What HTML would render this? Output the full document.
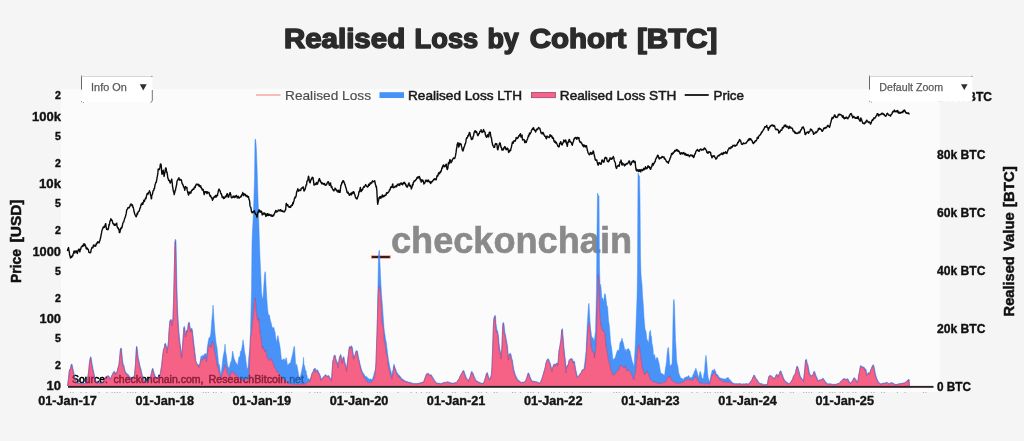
<!DOCTYPE html>
<html><head><meta charset="utf-8"><title>Realised Loss by Cohort [BTC]</title>
<style>
html,body{margin:0;padding:0;background:#f5f5f5;}
body{width:1024px;height:441px;overflow:hidden;font-family:"Liberation Sans",sans-serif;}
svg{display:block;will-change:transform;font-family:"Liberation Sans",sans-serif;}
</style></head><body>
<svg width="1024" height="441" viewBox="0 0 1024 441">
<rect x="0" y="0" width="1024" height="441" fill="#f5f5f5"/>
<rect x="61" y="89" width="879" height="303" fill="#fbfbfb"/>
<text x="72" y="383" font-size="10.5" font-weight="normal" text-anchor="start" fill="#000" textLength="35.8" lengthAdjust="spacingAndGlyphs" stroke="#000" stroke-width="0.55">Source:</text>
<text x="113.6" y="383" font-size="10.5" font-weight="normal" text-anchor="start" fill="#000" textLength="89.8" lengthAdjust="spacingAndGlyphs" stroke="#000" stroke-width="0.55">checkonchain.com,</text>
<text x="208.6" y="383" font-size="10.5" font-weight="normal" text-anchor="start" fill="#000" textLength="95.4" lengthAdjust="spacingAndGlyphs" stroke="#000" stroke-width="0.55">ResearchBitcoin.net</text>
<text x="391" y="252.5" font-size="36" font-weight="bold" text-anchor="start" fill="#8a8a8a" textLength="241" lengthAdjust="spacingAndGlyphs" stroke="#8a8a8a" stroke-width="0.6">checkonchain</text>
<rect x="370.9" y="255.3" width="20" height="3.4" rx="0.8" fill="#f38b78" opacity="0.9"/><rect x="371.8" y="256.1" width="18" height="1.8" fill="#1c1210"/>
<path d="M67.50,385.55 L68.00,382.30 L68.50,377.92 L69.00,373.51 L69.50,369.32 L70.00,368.64 L70.50,368.21 L71.00,365.35 L71.50,363.93 L72.00,363.96 L72.50,366.24 L73.00,368.44 L73.50,370.65 L74.00,372.93 L74.50,375.54 L75.00,377.31 L75.50,379.04 L76.00,380.01 L76.50,381.19 L77.00,381.97 L77.50,382.72 L78.00,382.84 L78.50,382.84 L79.00,382.84 L79.50,382.93 L80.00,382.99 L80.50,383.04 L81.00,383.08 L81.50,383.21 L82.00,383.30 L82.50,383.27 L83.00,383.21 L83.50,383.15 L84.00,383.15 L84.50,383.17 L85.00,382.88 L85.50,382.47 L86.00,382.47 L86.50,382.51 L87.00,380.94 L87.50,378.42 L88.00,375.62 L88.50,372.12 L89.00,367.17 L89.50,361.90 L90.00,359.14 L90.50,356.79 L91.00,356.82 L91.50,359.62 L92.00,362.72 L92.50,365.82 L93.00,368.26 L93.50,370.67 L94.00,372.89 L94.50,375.37 L95.00,377.80 L95.50,379.42 L96.00,380.90 L96.50,381.63 L97.00,381.94 L97.50,382.20 L98.00,382.14 L98.50,382.11 L99.00,382.12 L99.50,382.50 L100.00,382.70 L100.50,382.88 L101.00,382.89 L101.50,382.54 L102.00,382.30 L102.50,382.07 L103.00,381.43 L103.50,380.77 L104.00,380.36 L104.50,379.60 L105.00,378.34 L105.50,377.04 L106.00,376.60 L106.50,376.24 L107.00,376.03 L107.50,375.76 L108.00,375.71 L108.50,375.71 L109.00,375.92 L109.50,377.08 L110.00,378.24 L110.50,378.47 L111.00,377.40 L111.50,376.07 L112.00,375.06 L112.50,373.92 L113.00,372.92 L113.50,371.88 L114.00,371.25 L114.50,371.25 L115.00,371.81 L115.50,373.08 L116.00,373.32 L116.50,372.31 L117.00,371.57 L117.50,369.25 L118.00,367.57 L118.50,365.87 L119.00,363.93 L119.50,358.80 L120.00,353.82 L120.50,348.39 L121.00,347.95 L121.50,348.01 L122.00,353.57 L122.50,359.24 L123.00,362.35 L123.50,364.75 L124.00,365.29 L124.50,368.20 L125.00,370.08 L125.50,371.54 L126.00,372.02 L126.50,373.28 L127.00,373.77 L127.50,373.97 L128.00,373.98 L128.50,374.69 L129.00,375.40 L129.50,376.34 L130.00,376.86 L130.50,377.28 L131.00,377.54 L131.50,378.18 L132.00,378.25 L132.50,377.71 L133.00,377.34 L133.50,377.04 L134.00,377.04 L134.50,373.90 L135.00,369.72 L135.50,363.49 L136.00,354.07 L136.50,346.30 L137.00,346.35 L137.50,350.37 L138.00,354.42 L138.50,358.48 L139.00,360.37 L139.50,363.30 L140.00,365.44 L140.50,367.25 L141.00,368.73 L141.50,371.49 L142.00,373.58 L142.50,375.53 L143.00,376.88 L143.50,378.30 L144.00,379.20 L144.50,380.11 L145.00,380.51 L145.50,380.98 L146.00,381.19 L146.50,381.31 L147.00,381.37 L147.50,381.95 L148.00,381.45 L148.50,380.33 L149.00,379.34 L149.50,378.43 L150.00,377.93 L150.50,376.57 L151.00,374.59 L151.50,372.50 L152.00,370.30 L152.50,368.24 L153.00,368.27 L153.50,370.28 L154.00,372.19 L154.50,373.82 L155.00,375.34 L155.50,376.71 L156.00,377.59 L156.50,377.67 L157.00,377.43 L157.50,377.20 L158.00,377.05 L158.50,376.81 L159.00,376.70 L159.50,376.47 L160.00,375.75 L160.50,371.92 L161.00,368.98 L161.50,366.08 L162.00,361.52 L162.50,356.75 L163.00,352.67 L163.50,349.06 L164.00,347.81 L164.50,346.60 L165.00,343.11 L165.50,343.14 L166.00,344.58 L166.50,346.03 L167.00,347.52 L167.50,347.77 L168.00,345.42 L168.50,340.41 L169.00,331.02 L169.50,325.09 L170.00,319.84 L170.50,319.70 L171.00,319.58 L171.50,319.59 L172.00,320.75 L172.50,321.11 L173.00,318.06 L173.50,302.39 L174.00,283.85 L174.50,260.32 L175.00,239.49 L175.50,239.49 L176.00,240.07 L176.50,266.03 L177.00,287.09 L177.50,305.27 L178.00,315.50 L178.50,325.03 L179.00,331.55 L179.50,337.24 L180.00,341.92 L180.50,345.56 L181.00,348.56 L181.50,353.02 L182.00,354.02 L182.50,346.63 L183.00,339.31 L183.50,332.38 L184.00,326.43 L184.50,326.46 L185.00,329.27 L185.50,332.70 L186.00,333.91 L186.50,330.11 L187.00,330.13 L187.50,330.53 L188.00,326.05 L188.50,322.36 L189.00,322.29 L189.50,322.34 L190.00,325.96 L190.50,328.60 L191.00,328.95 L191.50,328.29 L192.00,328.31 L192.50,330.45 L193.00,334.87 L193.50,339.53 L194.00,343.83 L194.50,347.93 L195.00,352.24 L195.50,355.94 L196.00,361.43 L196.50,362.75 L197.00,363.53 L197.50,364.12 L198.00,364.32 L198.50,364.96 L199.00,365.97 L199.50,363.98 L200.00,361.94 L200.50,359.27 L201.00,355.94 L201.50,356.30 L202.00,356.97 L202.50,355.25 L203.00,356.21 L203.50,355.78 L204.00,354.68 L204.50,353.94 L205.00,353.58 L205.50,354.01 L206.00,353.56 L206.50,355.45 L207.00,351.31 L207.50,346.06 L208.00,342.89 L208.50,339.73 L209.00,337.81 L209.50,337.50 L210.00,337.29 L210.50,334.93 L211.00,331.95 L211.50,324.76 L212.00,318.56 L212.50,313.35 L213.00,305.06 L213.50,311.36 L214.00,320.34 L214.50,326.74 L215.00,333.14 L215.50,337.69 L216.00,342.30 L216.50,345.12 L217.00,347.60 L217.50,352.52 L218.00,357.58 L218.50,364.05 L219.00,364.55 L219.50,364.75 L220.00,369.26 L220.50,372.30 L221.00,375.04 L221.50,370.99 L222.00,366.14 L222.50,361.62 L223.00,357.34 L223.50,354.73 L224.00,352.34 L224.50,349.94 L225.00,344.11 L225.50,350.37 L226.00,353.92 L226.50,355.81 L227.00,361.32 L227.50,364.51 L228.00,367.35 L228.50,367.27 L229.00,368.14 L229.50,367.07 L230.00,364.78 L230.50,362.49 L231.00,361.39 L231.50,360.44 L232.00,356.35 L232.50,351.06 L233.00,352.82 L233.50,355.45 L234.00,358.14 L234.50,359.44 L235.00,360.62 L235.50,361.98 L236.00,362.60 L236.50,363.28 L237.00,364.55 L237.50,365.87 L238.00,362.89 L238.50,359.21 L239.00,357.00 L239.50,356.72 L240.00,356.11 L240.50,351.31 L241.00,351.50 L241.50,350.16 L242.00,347.26 L242.50,343.94 L243.00,339.75 L243.50,343.10 L244.00,346.31 L244.50,351.20 L245.00,354.02 L245.50,356.03 L246.00,361.24 L246.50,365.05 L247.00,368.81 L247.50,368.59 L248.00,367.31 L248.50,360.27 L249.00,355.02 L249.50,351.80 L250.00,345.63 L250.50,330.35 L251.00,310.89 L251.50,291.65 L252.00,242.77 L252.50,229.58 L253.00,221.60 L253.50,210.56 L254.00,195.92 L254.50,179.02 L255.00,138.99 L255.50,139.32 L256.00,143.19 L256.50,151.64 L257.00,165.77 L257.50,181.97 L258.00,198.45 L258.50,212.13 L259.00,229.21 L259.50,244.44 L260.00,258.10 L260.50,267.90 L261.00,280.11 L261.50,291.68 L262.00,296.19 L262.50,298.19 L263.00,298.70 L263.50,290.62 L264.00,282.64 L264.50,274.97 L265.00,271.64 L265.50,272.82 L266.00,284.49 L266.50,293.42 L267.00,301.41 L267.50,307.89 L268.00,312.60 L268.50,315.01 L269.00,314.99 L269.50,315.30 L270.00,318.56 L270.50,320.79 L271.00,322.59 L271.50,323.92 L272.00,327.07 L272.50,328.00 L273.00,327.41 L273.50,327.26 L274.00,328.04 L274.50,330.66 L275.00,331.72 L275.50,336.10 L276.00,339.24 L276.50,341.40 L277.00,340.87 L277.50,336.57 L278.00,335.59 L278.50,338.58 L279.00,341.57 L279.50,344.10 L280.00,346.77 L280.50,350.49 L281.00,355.43 L281.50,359.89 L282.00,360.03 L282.50,359.93 L283.00,359.48 L283.50,358.75 L284.00,359.78 L284.50,359.29 L285.00,360.88 L285.50,359.65 L286.00,357.64 L286.50,358.87 L287.00,362.21 L287.50,365.44 L288.00,365.34 L288.50,364.19 L289.00,363.52 L289.50,363.51 L290.00,363.32 L290.50,362.66 L291.00,360.52 L291.50,358.46 L292.00,356.40 L292.50,354.17 L293.00,351.88 L293.50,348.90 L294.00,346.61 L294.50,346.46 L295.00,353.95 L295.50,362.74 L296.00,366.45 L296.50,364.22 L297.00,365.60 L297.50,368.27 L298.00,370.94 L298.50,373.90 L299.00,376.32 L299.50,377.59 L300.00,376.76 L300.50,376.42 L301.00,373.84 L301.50,371.42 L302.00,369.05 L302.50,366.46 L303.00,364.34 L303.50,357.37 L304.00,364.70 L304.50,365.43 L305.00,367.77 L305.50,372.05 L306.00,370.54 L306.50,374.52 L307.00,375.17 L307.50,378.85 L308.00,378.98 L308.50,378.51 L309.00,378.66 L309.50,379.61 L310.00,379.66 L310.50,378.22 L311.00,376.78 L311.50,375.29 L312.00,373.26 L312.50,372.28 L313.00,371.63 L313.50,370.48 L314.00,368.73 L314.50,368.37 L315.00,368.24 L315.50,368.42 L316.00,369.53 L316.50,370.76 L317.00,369.87 L317.50,369.88 L318.00,370.69 L318.50,371.76 L319.00,372.84 L319.50,373.57 L320.00,374.76 L320.50,376.25 L321.00,378.18 L321.50,378.84 L322.00,378.59 L322.50,377.85 L323.00,377.26 L323.50,376.61 L324.00,376.61 L324.50,375.94 L325.00,374.83 L325.50,374.83 L326.00,374.83 L326.50,375.37 L327.00,375.83 L327.50,375.93 L328.00,375.49 L328.50,375.49 L329.00,375.65 L329.50,376.79 L330.00,377.59 L330.50,378.14 L331.00,379.01 L331.50,379.89 L332.00,372.57 L332.50,365.27 L333.00,359.87 L333.50,358.94 L334.00,356.05 L334.50,354.90 L335.00,354.91 L335.50,356.03 L336.00,358.66 L336.50,360.35 L337.00,361.71 L337.50,362.10 L338.00,364.37 L338.50,364.37 L339.00,359.81 L339.50,356.91 L340.00,356.07 L340.50,354.50 L341.00,354.53 L341.50,356.99 L342.00,359.93 L342.50,360.20 L343.00,357.48 L343.50,356.72 L344.00,356.77 L344.50,359.99 L345.00,362.60 L345.50,363.71 L346.00,365.90 L346.50,368.32 L347.00,365.81 L347.50,361.31 L348.00,357.20 L348.50,353.36 L349.00,349.02 L349.50,346.45 L350.00,346.47 L350.50,346.99 L351.00,345.86 L351.50,345.87 L352.00,346.34 L352.50,347.84 L353.00,351.58 L353.50,355.05 L354.00,356.69 L354.50,356.02 L355.00,354.68 L355.50,352.81 L356.00,350.65 L356.50,350.65 L357.00,350.70 L357.50,350.95 L358.00,353.91 L358.50,356.56 L359.00,359.22 L359.50,360.76 L360.00,364.11 L360.50,365.73 L361.00,367.41 L361.50,369.15 L362.00,370.94 L362.50,371.65 L363.00,372.63 L363.50,373.70 L364.00,373.84 L364.50,375.04 L365.00,375.74 L365.50,376.45 L366.00,376.72 L366.50,376.30 L367.00,377.58 L367.50,377.64 L368.00,377.83 L368.50,378.49 L369.00,379.15 L369.50,379.18 L370.00,378.88 L370.50,378.90 L371.00,379.02 L371.50,379.83 L372.00,379.45 L372.50,378.63 L373.00,377.43 L373.50,376.05 L374.00,373.91 L374.50,372.22 L375.00,370.82 L375.50,368.65 L376.00,362.37 L376.50,346.62 L377.00,332.98 L377.50,311.68 L378.00,282.20 L378.50,255.42 L379.00,250.60 L379.50,250.51 L380.00,263.95 L380.50,275.80 L381.00,284.74 L381.50,293.85 L382.00,300.77 L382.50,305.63 L383.00,313.80 L383.50,320.59 L384.00,327.79 L384.50,331.97 L385.00,335.12 L385.50,338.64 L386.00,341.09 L386.50,343.52 L387.00,348.14 L387.50,352.61 L388.00,356.37 L388.50,359.85 L389.00,362.42 L389.50,365.19 L390.00,367.92 L390.50,369.60 L391.00,371.29 L391.50,373.53 L392.00,375.82 L392.50,372.91 L393.00,369.50 L393.50,366.64 L394.00,363.96 L394.50,365.76 L395.00,367.24 L395.50,368.61 L396.00,369.76 L396.50,371.40 L397.00,372.85 L397.50,373.12 L398.00,373.94 L398.50,374.50 L399.00,375.01 L399.50,375.53 L400.00,376.09 L400.50,376.68 L401.00,377.47 L401.50,378.33 L402.00,378.52 L402.50,379.01 L403.00,379.11 L403.50,379.85 L404.00,380.30 L404.50,380.14 L405.00,380.77 L405.50,380.89 L406.00,381.16 L406.50,381.34 L407.00,381.49 L407.50,381.51 L408.00,381.92 L408.50,382.12 L409.00,382.13 L409.50,382.13 L410.00,382.20 L410.50,382.33 L411.00,382.55 L411.50,382.79 L412.00,383.05 L412.50,383.17 L413.00,383.20 L413.50,383.20 L414.00,383.44 L414.50,383.53 L415.00,383.43 L415.50,383.43 L416.00,383.46 L416.50,383.49 L417.00,383.53 L417.50,383.40 L418.00,383.24 L418.50,383.17 L419.00,383.12 L419.50,383.00 L420.00,382.87 L420.50,382.69 L421.00,382.55 L421.50,382.33 L422.00,382.10 L422.50,382.10 L423.00,382.11 L423.50,381.96 L424.00,380.61 L424.50,379.21 L425.00,377.75 L425.50,376.37 L426.00,374.92 L426.50,373.78 L427.00,373.78 L427.50,373.60 L428.00,373.11 L428.50,373.12 L429.00,373.95 L429.50,374.48 L430.00,374.89 L430.50,374.82 L431.00,374.76 L431.50,374.77 L432.00,375.82 L432.50,376.72 L433.00,377.62 L433.50,378.36 L434.00,379.37 L434.50,380.14 L435.00,380.80 L435.50,381.26 L436.00,382.16 L436.50,382.59 L437.00,382.95 L437.50,382.95 L438.00,383.07 L438.50,383.12 L439.00,383.11 L439.50,383.11 L440.00,383.34 L440.50,383.45 L441.00,383.47 L441.50,383.34 L442.00,383.25 L442.50,383.04 L443.00,382.81 L443.50,382.55 L444.00,382.27 L444.50,382.27 L445.00,382.31 L445.50,382.31 L446.00,382.18 L446.50,381.99 L447.00,381.79 L447.50,381.79 L448.00,381.79 L448.50,381.79 L449.00,382.19 L449.50,382.38 L450.00,382.51 L450.50,382.52 L451.00,382.71 L451.50,382.86 L452.00,383.00 L452.50,383.04 L453.00,383.08 L453.50,382.90 L454.00,382.70 L454.50,382.66 L455.00,382.64 L455.50,382.51 L456.00,382.38 L456.50,382.20 L457.00,382.02 L457.50,380.92 L458.00,379.84 L458.50,379.27 L459.00,378.92 L459.50,377.63 L460.00,376.11 L460.50,375.07 L461.00,374.36 L461.50,373.46 L462.00,372.50 L462.50,371.53 L463.00,370.54 L463.50,370.54 L464.00,370.57 L464.50,372.20 L465.00,373.79 L465.50,375.18 L466.00,376.59 L466.50,377.57 L467.00,378.51 L467.50,379.05 L468.00,379.73 L468.50,380.44 L469.00,379.31 L469.50,378.00 L470.00,376.97 L470.50,375.18 L471.00,373.22 L471.50,371.40 L472.00,371.41 L472.50,372.27 L473.00,373.12 L473.50,374.00 L474.00,375.55 L474.50,376.95 L475.00,378.11 L475.50,379.04 L476.00,379.94 L476.50,380.46 L477.00,380.98 L477.50,381.24 L478.00,381.59 L478.50,381.82 L479.00,382.06 L479.50,382.21 L480.00,382.52 L480.50,382.73 L481.00,382.94 L481.50,383.01 L482.00,383.08 L482.50,383.13 L483.00,383.32 L483.50,383.43 L484.00,381.74 L484.50,380.15 L485.00,378.66 L485.50,376.98 L486.00,375.25 L486.50,373.17 L487.00,372.59 L487.50,372.61 L488.00,374.55 L488.50,376.24 L489.00,377.82 L489.50,378.70 L490.00,378.79 L490.50,377.34 L491.00,375.94 L491.50,373.42 L492.00,365.93 L492.50,352.04 L493.00,338.67 L493.50,322.39 L494.00,317.92 L494.50,315.66 L495.00,315.50 L495.50,315.59 L496.00,323.22 L496.50,327.01 L497.00,330.51 L497.50,330.61 L498.00,333.16 L498.50,335.87 L499.00,342.21 L499.50,346.08 L500.00,349.66 L500.50,351.61 L501.00,354.98 L501.50,352.17 L502.00,346.02 L502.50,329.51 L503.00,322.51 L503.50,322.52 L504.00,323.84 L504.50,328.46 L505.00,333.10 L505.50,334.49 L506.00,337.43 L506.50,340.18 L507.00,342.93 L507.50,345.78 L508.00,351.65 L508.50,355.51 L509.00,354.99 L509.50,353.66 L510.00,353.36 L510.50,353.37 L511.00,354.13 L511.50,356.57 L512.00,359.03 L512.50,360.07 L513.00,363.93 L513.50,367.18 L514.00,369.69 L514.50,371.61 L515.00,373.55 L515.50,374.84 L516.00,376.07 L516.50,376.80 L517.00,378.10 L517.50,379.00 L518.00,379.86 L518.50,380.18 L519.00,380.49 L519.50,380.70 L520.00,381.20 L520.50,381.69 L521.00,382.15 L521.50,382.22 L522.00,381.98 L522.50,381.98 L523.00,382.05 L523.50,382.02 L524.00,381.92 L524.50,381.79 L525.00,381.67 L525.50,380.62 L526.00,379.63 L526.50,378.24 L527.00,376.72 L527.50,374.89 L528.00,373.07 L528.50,373.07 L529.00,373.14 L529.50,374.76 L530.00,376.39 L530.50,377.50 L531.00,378.72 L531.50,379.79 L532.00,380.80 L532.50,381.07 L533.00,381.08 L533.50,381.08 L534.00,381.17 L534.50,381.27 L535.00,381.47 L535.50,381.53 L536.00,381.51 L536.50,381.52 L537.00,381.81 L537.50,382.04 L538.00,382.27 L538.50,382.45 L539.00,382.64 L539.50,382.82 L540.00,383.00 L540.50,381.94 L541.00,380.63 L541.50,379.41 L542.00,378.17 L542.50,376.45 L543.00,374.77 L543.50,373.31 L544.00,371.30 L544.50,369.68 L545.00,368.03 L545.50,365.23 L546.00,362.48 L546.50,361.23 L547.00,359.75 L547.50,359.04 L548.00,358.73 L548.50,358.75 L549.00,360.05 L549.50,361.27 L550.00,362.44 L550.50,363.68 L551.00,365.65 L551.50,367.61 L552.00,369.40 L552.50,368.61 L553.00,366.09 L553.50,364.82 L554.00,363.87 L554.50,363.89 L555.00,364.95 L555.50,364.13 L556.00,363.45 L556.50,363.18 L557.00,363.18 L557.50,363.36 L558.00,363.01 L558.50,356.76 L559.00,350.69 L559.50,347.76 L560.00,345.25 L560.50,341.52 L561.00,338.96 L561.50,331.60 L562.00,328.66 L562.50,328.73 L563.00,334.58 L563.50,340.45 L564.00,346.77 L564.50,351.98 L565.00,356.76 L565.50,360.63 L566.00,366.39 L566.50,367.81 L567.00,365.33 L567.50,365.33 L568.00,365.34 L568.50,362.82 L569.00,360.45 L569.50,359.32 L570.00,359.05 L570.50,358.71 L571.00,358.47 L571.50,358.47 L572.00,358.53 L572.50,359.00 L573.00,360.70 L573.50,361.27 L574.00,361.17 L574.50,361.21 L575.00,364.42 L575.50,367.40 L576.00,370.16 L576.50,372.54 L577.00,374.84 L577.50,375.88 L578.00,376.66 L578.50,376.15 L579.00,375.51 L579.50,374.38 L580.00,373.45 L580.50,373.41 L581.00,372.98 L581.50,371.49 L582.00,370.15 L582.50,369.58 L583.00,369.16 L583.50,369.13 L584.00,369.11 L584.50,364.30 L585.00,360.39 L585.50,356.54 L586.00,351.41 L586.50,339.99 L587.00,329.54 L587.50,320.82 L588.00,312.61 L588.50,304.77 L589.00,303.25 L589.50,313.17 L590.00,321.08 L590.50,329.28 L591.00,331.25 L591.50,335.75 L592.00,337.08 L592.50,337.79 L593.00,337.91 L593.50,338.91 L594.00,341.22 L594.50,339.00 L595.00,334.93 L595.50,330.72 L596.00,310.95 L596.50,289.19 L597.00,231.07 L597.50,192.95 L598.00,194.56 L598.50,196.35 L599.00,195.78 L599.50,267.94 L600.00,283.67 L600.50,284.31 L601.00,287.59 L601.50,294.03 L602.00,299.93 L602.50,298.01 L603.00,298.43 L603.50,302.86 L604.00,298.63 L604.50,294.26 L605.00,293.61 L605.50,295.23 L606.00,298.80 L606.50,302.99 L607.00,307.12 L607.50,306.49 L608.00,312.94 L608.50,320.38 L609.00,323.58 L609.50,327.00 L610.00,334.05 L610.50,341.10 L611.00,344.74 L611.50,347.00 L612.00,351.44 L612.50,355.82 L613.00,361.10 L613.50,359.05 L614.00,358.80 L614.50,358.79 L615.00,357.83 L615.50,356.67 L616.00,354.85 L616.50,353.04 L617.00,351.57 L617.50,350.31 L618.00,349.93 L618.50,350.50 L619.00,350.62 L619.50,346.57 L620.00,342.82 L620.50,341.68 L621.00,341.17 L621.50,340.21 L622.00,338.07 L622.50,340.62 L623.00,341.83 L623.50,343.52 L624.00,345.76 L624.50,349.05 L625.00,351.15 L625.50,348.88 L626.00,352.32 L626.50,350.51 L627.00,348.99 L627.50,349.66 L628.00,348.61 L628.50,348.75 L629.00,349.54 L629.50,350.55 L630.00,351.05 L630.50,353.46 L631.00,356.10 L631.50,358.23 L632.00,360.33 L632.50,362.34 L633.00,363.46 L633.50,365.17 L634.00,367.24 L634.50,358.62 L635.00,350.10 L635.50,339.33 L636.00,325.29 L636.50,311.32 L637.00,298.98 L637.50,271.11 L638.00,173.17 L638.50,174.31 L639.00,175.46 L639.50,176.14 L640.00,199.20 L640.50,256.18 L641.00,274.70 L641.50,279.72 L642.00,284.57 L642.50,294.92 L643.00,301.02 L643.50,307.85 L644.00,317.16 L644.50,323.33 L645.00,328.73 L645.50,330.59 L646.00,331.44 L646.50,336.14 L647.00,340.38 L647.50,339.96 L648.00,341.71 L648.50,343.47 L649.00,338.72 L649.50,331.97 L650.00,331.17 L650.50,330.36 L651.00,336.22 L651.50,336.48 L652.00,343.77 L652.50,344.90 L653.00,348.58 L653.50,355.95 L654.00,355.19 L654.50,354.44 L655.00,356.98 L655.50,359.86 L656.00,360.16 L656.50,357.58 L657.00,357.95 L657.50,357.52 L658.00,359.20 L658.50,361.53 L659.00,363.23 L659.50,366.09 L660.00,368.75 L660.50,372.16 L661.00,373.35 L661.50,373.56 L662.00,373.72 L662.50,373.86 L663.00,373.99 L663.50,374.67 L664.00,375.31 L664.50,375.42 L665.00,371.91 L665.50,367.81 L666.00,365.54 L666.50,361.66 L667.00,354.92 L667.50,350.55 L668.00,347.39 L668.50,347.87 L669.00,353.74 L669.50,360.69 L670.00,367.24 L670.50,365.18 L671.00,366.36 L671.50,364.34 L672.00,363.42 L672.50,348.24 L673.00,320.22 L673.50,300.69 L674.00,299.35 L674.50,305.21 L675.00,323.27 L675.50,340.16 L676.00,347.24 L676.50,358.24 L677.00,363.24 L677.50,364.99 L678.00,367.04 L678.50,372.00 L679.00,373.40 L679.50,375.18 L680.00,375.92 L680.50,377.64 L681.00,378.32 L681.50,378.28 L682.00,378.25 L682.50,378.65 L683.00,379.78 L683.50,379.14 L684.00,378.26 L684.50,377.66 L685.00,377.48 L685.50,377.26 L686.00,376.72 L686.50,377.12 L687.00,377.04 L687.50,376.67 L688.00,376.05 L688.50,375.56 L689.00,376.00 L689.50,377.02 L690.00,377.94 L690.50,377.90 L691.00,377.19 L691.50,377.46 L692.00,377.34 L692.50,376.40 L693.00,374.56 L693.50,373.93 L694.00,372.65 L694.50,370.95 L695.00,371.37 L695.50,368.67 L696.00,368.27 L696.50,370.19 L697.00,371.61 L697.50,373.26 L698.00,375.51 L698.50,377.70 L699.00,376.14 L699.50,373.65 L700.00,371.29 L700.50,371.94 L701.00,373.73 L701.50,376.03 L702.00,378.04 L702.50,378.09 L703.00,379.38 L703.50,377.40 L704.00,373.27 L704.50,372.05 L705.00,363.93 L705.50,358.20 L706.00,355.26 L706.50,359.56 L707.00,364.83 L707.50,371.87 L708.00,376.40 L708.50,378.68 L709.00,380.65 L709.50,382.07 L710.00,379.97 L710.50,377.66 L711.00,374.51 L711.50,373.51 L712.00,370.53 L712.50,370.13 L713.00,370.59 L713.50,369.92 L714.00,369.38 L714.50,368.98 L715.00,370.49 L715.50,370.99 L716.00,372.91 L716.50,374.26 L717.00,374.13 L717.50,374.54 L718.00,375.16 L718.50,376.08 L719.00,376.86 L719.50,377.45 L720.00,377.68 L720.50,378.01 L721.00,378.34 L721.50,378.45 L722.00,378.41 L722.50,378.60 L723.00,378.72 L723.50,378.83 L724.00,378.85 L724.50,379.25 L725.00,379.11 L725.50,378.83 L726.00,378.45 L726.50,377.92 L727.00,378.21 L727.50,377.74 L728.00,377.17 L728.50,377.91 L729.00,378.98 L729.50,379.71 L730.00,379.35 L730.50,380.51 L731.00,380.74 L731.50,381.40 L732.00,382.15 L732.50,382.48 L733.00,382.98 L733.50,383.37 L734.00,383.43 L734.50,383.55 L735.00,383.67 L735.50,383.67 L736.00,383.64 L736.50,383.64 L737.00,383.67 L737.50,383.69 L738.00,383.71 L738.50,383.73 L739.00,383.66 L739.50,383.53 L740.00,383.53 L740.50,383.62 L741.00,383.78 L741.50,383.89 L742.00,383.93 L742.50,383.95 L743.00,383.89 L743.50,383.78 L744.00,383.78 L744.50,383.83 L745.00,383.88 L745.50,383.66 L746.00,383.62 L746.50,383.62 L747.00,383.72 L747.50,383.82 L748.00,383.84 L748.50,383.74 L749.00,383.64 L749.50,382.92 L750.00,382.19 L750.50,381.47 L751.00,380.79 L751.50,380.15 L752.00,379.38 L752.50,378.01 L753.00,376.88 L753.50,375.98 L754.00,374.96 L754.50,374.97 L755.00,375.86 L755.50,377.16 L756.00,378.14 L756.50,378.97 L757.00,379.37 L757.50,380.03 L758.00,380.90 L758.50,381.77 L759.00,382.46 L759.50,382.97 L760.00,383.23 L760.50,383.45 L761.00,383.55 L761.50,383.62 L762.00,383.63 L762.50,383.87 L763.00,384.14 L763.50,384.39 L764.00,384.59 L764.50,384.64 L765.00,384.56 L765.50,384.40 L766.00,384.31 L766.50,384.27 L767.00,384.20 L767.50,384.12 L768.00,380.35 L768.50,377.67 L769.00,375.98 L769.50,375.71 L770.00,375.53 L770.50,375.41 L771.00,375.41 L771.50,375.80 L772.00,376.32 L772.50,376.74 L773.00,377.06 L773.50,377.63 L774.00,378.26 L774.50,378.05 L775.00,377.19 L775.50,376.33 L776.00,375.24 L776.50,374.17 L777.00,374.18 L777.50,375.00 L778.00,375.83 L778.50,375.38 L779.00,373.98 L779.50,372.86 L780.00,371.28 L780.50,370.83 L781.00,370.85 L781.50,372.19 L782.00,373.55 L782.50,374.91 L783.00,376.18 L783.50,377.66 L784.00,378.69 L784.50,379.71 L785.00,380.24 L785.50,381.01 L786.00,381.61 L786.50,382.07 L787.00,382.32 L787.50,382.54 L788.00,382.82 L788.50,383.31 L789.00,383.69 L789.50,383.22 L790.00,382.55 L790.50,382.02 L791.00,381.47 L791.50,380.48 L792.00,379.70 L792.50,379.10 L793.00,377.69 L793.50,375.79 L794.00,374.98 L794.50,374.76 L795.00,373.90 L795.50,372.30 L796.00,369.99 L796.50,367.46 L797.00,366.10 L797.50,366.11 L798.00,367.15 L798.50,368.96 L799.00,370.77 L799.50,372.76 L800.00,374.76 L800.50,376.06 L801.00,377.20 L801.50,377.77 L802.00,378.42 L802.50,379.13 L803.00,379.83 L803.50,380.52 L804.00,376.24 L804.50,371.60 L805.00,366.20 L805.50,360.19 L806.00,359.20 L806.50,359.24 L807.00,361.53 L807.50,363.48 L808.00,364.41 L808.50,367.39 L809.00,370.03 L809.50,372.62 L810.00,373.91 L810.50,375.01 L811.00,375.37 L811.50,375.60 L812.00,375.10 L812.50,375.10 L813.00,374.26 L813.50,372.80 L814.00,371.29 L814.50,371.30 L815.00,372.23 L815.50,373.98 L816.00,375.30 L816.50,376.60 L817.00,377.40 L817.50,378.66 L818.00,379.79 L818.50,380.52 L819.00,380.49 L819.50,379.79 L820.00,379.68 L820.50,379.68 L821.00,379.62 L821.50,379.39 L822.00,378.91 L822.50,378.34 L823.00,378.34 L823.50,378.51 L824.00,379.25 L824.50,380.11 L825.00,380.81 L825.50,381.49 L826.00,382.02 L826.50,382.87 L827.00,383.31 L827.50,383.73 L828.00,383.76 L828.50,383.81 L829.00,383.82 L829.50,383.78 L830.00,383.78 L830.50,383.81 L831.00,383.87 L831.50,383.93 L832.00,384.00 L832.50,384.13 L833.00,384.21 L833.50,384.28 L834.00,384.28 L834.50,384.19 L835.00,384.17 L835.50,384.17 L836.00,384.08 L836.50,383.94 L837.00,383.76 L837.50,383.56 L838.00,383.43 L838.50,383.32 L839.00,383.24 L839.50,382.71 L840.00,382.12 L840.50,381.51 L841.00,380.96 L841.50,380.42 L842.00,379.89 L842.50,379.49 L843.00,379.11 L843.50,378.74 L844.00,378.48 L844.50,378.49 L845.00,378.70 L845.50,378.89 L846.00,378.94 L846.50,379.12 L847.00,379.11 L847.50,378.79 L848.00,378.80 L848.50,379.63 L849.00,380.63 L849.50,381.60 L850.00,382.40 L850.50,382.82 L851.00,382.55 L851.50,381.87 L852.00,381.22 L852.50,380.58 L853.00,379.55 L853.50,378.43 L854.00,377.60 L854.50,377.61 L855.00,378.29 L855.50,378.98 L856.00,379.51 L856.50,380.39 L857.00,381.08 L857.50,381.71 L858.00,380.49 L858.50,376.55 L859.00,373.42 L859.50,371.39 L860.00,367.91 L860.50,365.66 L861.00,365.66 L861.50,365.86 L862.00,366.17 L862.50,366.61 L863.00,366.93 L863.50,366.94 L864.00,366.95 L864.50,367.64 L865.00,368.42 L865.50,369.10 L866.00,369.13 L866.50,372.02 L867.00,373.39 L867.50,374.59 L868.00,373.56 L868.50,372.40 L869.00,372.41 L869.50,372.99 L870.00,372.40 L870.50,370.22 L871.00,369.02 L871.50,368.03 L872.00,366.69 L872.50,365.44 L873.00,364.79 L873.50,364.80 L874.00,365.91 L874.50,368.64 L875.00,371.23 L875.50,373.73 L876.00,375.46 L876.50,377.18 L877.00,378.51 L877.50,379.82 L878.00,380.76 L878.50,381.65 L879.00,382.23 L879.50,382.76 L880.00,383.22 L880.50,383.58 L881.00,383.75 L881.50,383.56 L882.00,383.39 L882.50,383.23 L883.00,383.05 L883.50,382.97 L884.00,382.97 L884.50,382.98 L885.00,382.89 L885.50,382.77 L886.00,382.52 L886.50,382.25 L887.00,382.25 L887.50,382.47 L888.00,382.70 L888.50,383.17 L889.00,383.45 L889.50,383.49 L890.00,383.15 L890.50,382.78 L891.00,382.65 L891.50,382.54 L892.00,382.54 L892.50,382.83 L893.00,383.06 L893.50,383.28 L894.00,383.46 L894.50,383.88 L895.00,384.17 L895.50,384.35 L896.00,384.33 L896.50,384.27 L897.00,384.15 L897.50,384.03 L898.00,383.94 L898.50,383.85 L899.00,383.71 L899.50,383.57 L900.00,383.53 L900.50,383.51 L901.00,383.44 L901.50,383.38 L902.00,383.18 L902.50,382.97 L903.00,382.92 L903.50,382.88 L904.00,382.88 L904.50,382.87 L905.00,382.41 L905.50,381.90 L906.00,381.69 L906.50,381.49 L907.00,380.79 L907.50,380.09 L908.00,379.69 L908.50,379.60 L909.00,379.18 L909.50,386.00 L909.50,386.00 L909.00,379.71 L908.50,380.12 L908.00,380.21 L907.50,380.61 L907.00,381.30 L906.50,381.99 L906.00,382.19 L905.50,382.39 L905.00,382.89 L904.50,383.35 L904.00,383.40 L903.50,383.36 L903.00,383.40 L902.50,383.45 L902.00,383.66 L901.50,383.85 L901.00,383.92 L900.50,383.99 L900.00,384.01 L899.50,384.04 L899.00,384.18 L898.50,384.32 L898.00,384.41 L897.50,384.49 L897.00,384.62 L896.50,384.74 L896.00,384.80 L895.50,384.87 L895.00,384.89 L894.50,384.77 L894.00,384.37 L893.50,383.93 L893.00,383.75 L892.50,383.60 L892.00,383.31 L891.50,383.02 L891.00,383.14 L890.50,383.27 L890.00,383.63 L889.50,383.97 L889.00,384.18 L888.50,384.12 L888.00,383.66 L887.50,383.17 L887.00,382.95 L886.50,382.74 L886.00,383.01 L885.50,383.26 L885.00,383.37 L884.50,383.48 L884.00,383.46 L883.50,383.45 L883.00,383.53 L882.50,383.71 L882.00,383.87 L881.50,384.04 L881.00,384.22 L880.50,384.40 L880.00,384.44 L879.50,383.69 L879.00,383.24 L878.50,382.85 L878.00,382.19 L877.50,381.43 L877.00,380.33 L876.50,379.22 L876.00,377.71 L875.50,376.62 L875.00,374.31 L874.50,371.96 L874.00,369.33 L873.50,366.56 L873.00,365.49 L872.50,366.13 L872.00,367.36 L871.50,368.69 L871.00,369.67 L870.50,370.85 L870.00,373.01 L869.50,374.40 L869.00,373.58 L868.50,373.01 L868.00,374.15 L867.50,375.17 L867.00,375.34 L866.50,375.45 L866.00,372.60 L865.50,369.74 L865.00,369.86 L864.50,370.27 L864.00,368.27 L863.50,367.61 L863.00,367.68 L862.50,367.72 L862.00,367.51 L861.50,366.84 L861.00,366.54 L860.50,366.35 L860.00,368.57 L859.50,372.01 L859.00,374.01 L858.50,377.10 L858.00,381.00 L857.50,382.65 L857.00,382.21 L856.50,381.76 L856.00,380.95 L855.50,380.02 L855.00,379.50 L854.50,378.97 L854.00,378.14 L853.50,378.97 L853.00,380.07 L852.50,381.09 L852.00,381.72 L851.50,382.36 L851.00,383.04 L850.50,383.70 L850.00,383.65 L849.50,382.89 L849.00,382.11 L848.50,381.28 L848.00,380.13 L847.50,379.32 L847.00,379.64 L846.50,379.90 L846.00,379.64 L845.50,379.46 L845.00,379.44 L844.50,379.37 L844.00,379.02 L843.50,379.27 L843.00,379.63 L842.50,380.01 L842.00,380.40 L841.50,380.93 L841.00,381.46 L840.50,382.01 L840.00,382.61 L839.50,383.19 L839.00,383.72 L838.50,383.80 L838.00,383.91 L837.50,384.03 L837.00,384.23 L836.50,384.41 L836.00,384.54 L835.50,384.65 L835.00,384.64 L834.50,384.66 L834.00,384.78 L833.50,384.75 L833.00,384.76 L832.50,384.75 L832.00,384.60 L831.50,384.46 L831.00,384.40 L830.50,384.34 L830.00,384.28 L829.50,384.25 L829.00,384.31 L828.50,384.35 L828.00,384.28 L827.50,384.23 L827.00,384.22 L826.50,384.17 L826.00,383.35 L825.50,382.50 L825.00,382.01 L824.50,381.46 L824.00,380.61 L823.50,379.76 L823.00,379.04 L822.50,378.88 L822.00,379.44 L821.50,379.92 L821.00,380.14 L820.50,380.28 L820.00,380.19 L819.50,380.31 L819.00,381.00 L818.50,381.49 L818.00,381.42 L817.50,380.56 L817.00,379.17 L816.50,377.93 L816.00,377.16 L815.50,376.37 L815.00,374.54 L814.50,372.82 L814.00,371.91 L813.50,373.40 L813.00,374.85 L812.50,375.79 L812.00,375.68 L811.50,376.19 L811.00,376.17 L810.50,376.15 L810.00,375.71 L809.50,375.02 L809.00,373.25 L808.50,371.39 L808.00,368.02 L807.50,365.07 L807.00,364.52 L806.50,363.30 L806.00,359.96 L805.50,360.95 L805.00,366.88 L804.50,372.21 L804.00,376.80 L803.50,381.68 L803.00,381.02 L802.50,380.36 L802.00,379.66 L801.50,378.94 L801.00,378.31 L800.50,377.74 L800.00,377.29 L799.50,375.47 L799.00,373.34 L798.50,371.37 L798.00,369.73 L797.50,367.80 L797.00,366.78 L796.50,368.12 L796.00,370.62 L795.50,372.91 L795.00,374.49 L794.50,375.34 L794.00,375.56 L793.50,376.36 L793.00,378.24 L792.50,379.62 L792.00,380.22 L791.50,380.99 L791.00,381.97 L790.50,382.51 L790.00,383.03 L789.50,383.70 L789.00,384.53 L788.50,384.29 L788.00,383.78 L787.50,383.29 L787.00,383.03 L786.50,382.81 L786.00,382.70 L785.50,382.30 L785.00,381.50 L784.50,380.74 L784.00,380.24 L783.50,379.70 L783.00,378.19 L782.50,376.72 L782.00,375.48 L781.50,374.22 L781.00,372.78 L780.50,371.46 L780.00,371.90 L779.50,373.46 L779.00,374.57 L778.50,375.95 L778.00,377.53 L777.50,376.38 L777.00,375.60 L776.50,374.76 L776.00,375.81 L775.50,376.89 L775.00,377.74 L774.50,378.59 L774.00,379.42 L773.50,378.86 L773.00,378.16 L772.50,377.60 L772.00,377.38 L771.50,376.97 L771.00,376.36 L770.50,375.98 L770.00,376.10 L769.50,376.28 L769.00,376.54 L768.50,378.22 L768.00,380.86 L767.50,384.59 L767.00,384.67 L766.50,384.73 L766.00,384.78 L765.50,384.87 L765.00,385.02 L764.50,385.15 L764.00,385.24 L763.50,385.05 L763.00,384.87 L762.50,384.65 L762.00,384.33 L761.50,384.10 L761.00,384.10 L760.50,384.08 L760.00,383.95 L759.50,383.76 L759.00,383.46 L758.50,383.13 L758.00,382.42 L757.50,381.39 L757.00,380.54 L756.50,379.88 L756.00,379.64 L755.50,379.10 L755.00,377.69 L754.50,376.41 L754.00,375.53 L753.50,376.54 L753.00,377.43 L752.50,378.55 L752.00,379.91 L751.50,380.67 L751.00,381.29 L750.50,381.97 L750.00,382.68 L749.50,383.40 L749.00,384.11 L748.50,384.22 L748.00,384.33 L747.50,384.37 L747.00,384.29 L746.50,384.21 L746.00,384.09 L745.50,384.13 L745.00,384.39 L744.50,384.48 L744.00,384.30 L743.50,384.25 L743.00,384.36 L742.50,384.43 L742.00,384.44 L741.50,384.40 L741.00,384.41 L740.50,384.32 L740.00,384.09 L739.50,384.00 L739.00,384.14 L738.50,384.21 L738.00,384.20 L737.50,384.18 L737.00,384.17 L736.50,384.14 L736.00,384.11 L735.50,384.14 L735.00,384.26 L734.50,384.24 L734.00,384.02 L733.50,383.91 L733.00,383.95 L732.50,383.78 L732.00,383.54 L731.50,383.31 L731.00,383.07 L730.50,382.83 L730.00,382.57 L729.50,382.42 L729.00,382.42 L728.50,382.28 L728.00,381.89 L727.50,381.90 L727.00,382.19 L726.50,382.22 L726.00,381.92 L725.50,381.87 L725.00,382.16 L724.50,382.18 L724.00,381.89 L723.50,381.60 L723.00,381.65 L722.50,381.50 L722.00,381.05 L721.50,380.55 L721.00,379.99 L720.50,379.79 L720.00,380.09 L719.50,380.04 L719.00,379.05 L718.50,378.17 L718.00,377.46 L717.50,376.85 L717.00,376.40 L716.50,376.14 L716.00,375.96 L715.50,375.11 L715.00,373.26 L714.50,371.95 L714.00,372.63 L713.50,373.50 L713.00,374.56 L712.50,374.97 L712.00,374.76 L711.50,376.85 L711.00,379.14 L710.50,380.80 L710.00,382.52 L709.50,384.15 L709.00,384.12 L708.50,383.96 L708.00,383.65 L707.50,383.49 L707.00,383.50 L706.50,383.52 L706.00,383.55 L705.50,383.62 L705.00,383.65 L704.50,383.63 L704.00,383.56 L703.50,383.51 L703.00,383.46 L702.50,383.38 L702.00,383.26 L701.50,383.13 L701.00,383.18 L700.50,383.12 L700.00,382.92 L699.50,382.76 L699.00,382.65 L698.50,381.80 L698.00,380.80 L697.50,379.93 L697.00,378.96 L696.50,377.70 L696.00,376.01 L695.50,375.97 L695.00,377.56 L694.50,378.53 L694.00,379.06 L693.50,379.50 L693.00,380.12 L692.50,380.53 L692.00,380.79 L691.50,380.44 L691.00,380.25 L690.50,380.08 L690.00,379.94 L689.50,379.79 L689.00,379.64 L688.50,379.42 L688.00,379.13 L687.50,379.45 L687.00,379.75 L686.50,379.96 L686.00,380.12 L685.50,380.47 L685.00,380.84 L684.50,381.23 L684.00,381.61 L683.50,382.00 L683.00,382.38 L682.50,382.50 L682.00,382.55 L681.50,382.68 L681.00,382.88 L680.50,383.12 L680.00,383.40 L679.50,383.57 L679.00,383.44 L678.50,383.32 L678.00,383.22 L677.50,383.10 L677.00,382.97 L676.50,382.96 L676.00,382.93 L675.50,382.75 L675.00,382.42 L674.50,382.15 L674.00,381.92 L673.50,381.59 L673.00,381.23 L672.50,380.97 L672.00,380.81 L671.50,380.07 L671.00,379.61 L670.50,378.13 L670.00,375.94 L669.50,376.03 L669.00,376.53 L668.50,376.90 L668.00,377.87 L667.50,378.67 L667.00,379.42 L666.50,380.13 L666.00,381.10 L665.50,381.63 L665.00,381.94 L664.50,382.31 L664.00,382.34 L663.50,382.43 L663.00,382.55 L662.50,382.87 L662.00,383.30 L661.50,383.42 L661.00,383.37 L660.50,383.45 L660.00,383.59 L659.50,383.49 L659.00,383.22 L658.50,383.10 L658.00,383.09 L657.50,383.07 L657.00,383.04 L656.50,382.81 L656.00,382.43 L655.50,382.20 L655.00,382.20 L654.50,382.20 L654.00,382.21 L653.50,382.14 L653.00,381.86 L652.50,381.47 L652.00,381.13 L651.50,380.51 L651.00,379.65 L650.50,379.21 L650.00,378.80 L649.50,377.51 L649.00,375.69 L648.50,374.37 L648.00,373.26 L647.50,372.10 L647.00,370.88 L646.50,371.81 L646.00,372.87 L645.50,373.57 L645.00,373.90 L644.50,374.73 L644.00,372.75 L643.50,371.20 L643.00,370.03 L642.50,368.29 L642.00,366.10 L641.50,362.65 L641.00,358.69 L640.50,354.93 L640.00,351.27 L639.50,347.78 L639.00,344.77 L638.50,345.00 L638.00,348.11 L637.50,352.08 L637.00,357.21 L636.50,361.62 L636.00,367.40 L635.50,372.23 L635.00,373.87 L634.50,376.64 L634.00,379.70 L633.50,378.99 L633.00,378.46 L632.50,377.31 L632.00,375.39 L631.50,374.10 L631.00,373.26 L630.50,372.43 L630.00,371.76 L629.50,371.02 L629.00,370.23 L628.50,369.86 L628.00,369.73 L627.50,370.19 L627.00,371.07 L626.50,369.38 L626.00,366.27 L625.50,366.09 L625.00,367.49 L624.50,368.00 L624.00,368.06 L623.50,367.66 L623.00,366.94 L622.50,366.31 L622.00,365.73 L621.50,365.71 L621.00,365.67 L620.50,365.72 L620.00,365.80 L619.50,367.28 L619.00,369.52 L618.50,370.19 L618.00,370.21 L617.50,370.61 L617.00,371.15 L616.50,372.05 L616.00,373.00 L615.50,373.58 L615.00,374.03 L614.50,374.38 L614.00,374.73 L613.50,374.97 L613.00,375.21 L612.50,373.90 L612.00,372.96 L611.50,371.67 L611.00,370.18 L610.50,368.22 L610.00,365.73 L609.50,363.66 L609.00,362.08 L608.50,360.00 L608.00,357.68 L607.50,354.27 L607.00,351.15 L606.50,348.63 L606.00,346.07 L605.50,340.83 L605.00,334.69 L604.50,332.22 L604.00,331.29 L603.50,331.10 L603.00,331.38 L602.50,330.58 L602.00,329.38 L601.50,327.44 L601.00,326.06 L600.50,322.24 L600.00,316.89 L599.50,309.54 L599.00,292.41 L598.50,275.86 L598.00,274.68 L597.50,295.14 L597.00,314.23 L596.50,335.00 L596.00,344.94 L595.50,351.20 L595.00,354.49 L594.50,358.03 L594.00,353.76 L593.50,352.29 L593.00,352.11 L592.50,351.32 L592.00,350.59 L591.50,349.14 L591.00,346.02 L590.50,338.77 L590.00,329.43 L589.50,324.89 L589.00,323.20 L588.50,323.32 L588.00,328.37 L587.50,336.13 L587.00,344.33 L586.50,351.74 L586.00,359.13 L585.50,363.17 L585.00,367.00 L584.50,369.52 L584.00,369.76 L583.50,369.78 L583.00,369.80 L582.50,370.22 L582.00,370.78 L581.50,372.11 L581.00,373.57 L580.50,374.00 L580.00,374.04 L579.50,374.97 L579.00,376.07 L578.50,376.71 L578.00,377.22 L577.50,377.47 L577.00,377.68 L576.50,375.39 L576.00,373.26 L575.50,370.84 L575.00,368.26 L574.50,365.22 L574.00,361.91 L573.50,362.26 L573.00,363.11 L572.50,361.74 L572.00,359.74 L571.50,359.30 L571.00,359.24 L570.50,359.48 L570.00,359.82 L569.50,360.08 L569.00,361.19 L568.50,363.54 L568.00,366.05 L567.50,366.16 L567.00,366.02 L566.50,369.18 L566.00,372.69 L565.50,367.75 L565.00,361.30 L564.50,357.51 L564.00,353.87 L563.50,348.05 L563.00,341.35 L562.50,335.73 L562.00,329.79 L561.50,332.69 L561.00,339.97 L560.50,342.49 L560.00,346.18 L559.50,348.66 L559.00,351.55 L558.50,357.55 L558.00,363.73 L557.50,366.18 L557.00,364.05 L556.50,363.90 L556.00,364.17 L555.50,364.84 L555.00,366.69 L554.50,365.83 L554.00,364.58 L553.50,365.52 L553.00,366.77 L552.50,369.26 L552.00,371.79 L551.50,370.26 L551.00,368.25 L550.50,366.34 L550.00,364.37 L549.50,363.15 L549.00,362.08 L548.50,360.83 L548.00,359.50 L547.50,359.81 L547.00,360.51 L546.50,361.97 L546.00,363.20 L545.50,365.92 L545.00,368.69 L544.50,370.32 L544.00,371.92 L543.50,373.90 L543.00,375.34 L542.50,377.01 L542.00,378.71 L541.50,379.93 L541.00,381.14 L540.50,382.43 L540.00,383.64 L539.50,383.48 L539.00,383.31 L538.50,383.12 L538.00,382.93 L537.50,382.76 L537.00,382.58 L536.50,382.31 L536.00,382.01 L535.50,382.07 L535.00,382.16 L534.50,381.98 L534.00,381.77 L533.50,381.67 L533.00,381.58 L532.50,381.84 L532.00,382.14 L531.50,381.29 L531.00,380.45 L530.50,379.30 L530.00,378.03 L529.50,376.93 L529.00,375.98 L528.50,373.71 L528.00,373.67 L527.50,375.46 L527.00,377.28 L526.50,378.78 L526.00,380.15 L525.50,381.13 L525.00,382.16 L524.50,382.28 L524.00,382.42 L523.50,382.51 L523.00,382.60 L522.50,382.54 L522.00,382.47 L521.50,382.77 L521.00,383.07 L520.50,382.65 L520.00,382.19 L519.50,381.71 L519.00,381.20 L518.50,380.99 L518.00,380.84 L517.50,380.39 L517.00,379.90 L516.50,378.66 L516.00,377.34 L515.50,376.63 L515.00,376.04 L514.50,374.18 L514.00,372.20 L513.50,370.89 L513.00,368.41 L512.50,364.75 L512.00,360.77 L511.50,359.78 L511.00,359.34 L510.50,354.90 L510.00,354.19 L509.50,354.49 L509.00,355.80 L508.50,360.10 L508.00,358.32 L507.50,352.44 L507.00,346.63 L506.50,343.85 L506.00,341.34 L505.50,338.41 L505.00,335.51 L504.50,334.15 L504.00,333.22 L503.50,324.92 L503.00,323.70 L502.50,330.63 L502.00,346.94 L501.50,353.01 L501.00,359.08 L500.50,355.76 L500.00,352.43 L499.50,350.51 L499.00,349.36 L498.50,343.39 L498.00,336.83 L497.50,334.20 L497.00,331.68 L496.50,331.61 L496.00,331.86 L495.50,324.61 L495.00,316.78 L494.50,316.93 L494.00,319.17 L493.50,323.59 L493.00,339.68 L492.50,352.89 L492.00,366.62 L491.50,374.01 L491.00,376.50 L490.50,377.88 L490.00,379.32 L489.50,380.05 L489.00,379.66 L488.50,378.40 L488.00,377.02 L487.50,375.16 L487.00,373.19 L486.50,373.77 L486.00,375.83 L485.50,377.53 L485.00,379.19 L484.50,380.67 L484.00,382.24 L483.50,384.01 L483.00,383.99 L482.50,383.80 L482.00,383.60 L481.50,383.56 L481.00,383.52 L480.50,383.42 L480.00,383.31 L479.50,383.00 L479.00,382.70 L478.50,382.55 L478.00,382.42 L477.50,382.08 L477.00,381.74 L476.50,381.49 L476.00,381.24 L475.50,380.45 L475.00,379.64 L474.50,378.67 L474.00,377.64 L473.50,376.32 L473.00,374.57 L472.50,373.71 L472.00,372.93 L471.50,372.01 L471.00,373.82 L470.50,375.75 L470.00,377.53 L469.50,378.54 L469.00,379.84 L468.50,381.72 L468.00,380.94 L467.50,380.24 L467.00,379.57 L466.50,379.03 L466.00,378.52 L465.50,377.16 L465.00,375.73 L464.50,374.39 L464.00,372.99 L463.50,371.18 L463.00,371.16 L462.50,372.15 L462.00,373.10 L461.50,374.05 L461.00,374.95 L460.50,375.64 L460.00,376.68 L459.50,378.17 L459.00,379.45 L458.50,379.79 L458.00,380.36 L457.50,381.42 L457.00,382.51 L456.50,382.69 L456.00,382.86 L455.50,383.00 L455.00,383.12 L454.50,383.14 L454.00,383.18 L453.50,383.38 L453.00,383.57 L452.50,383.56 L452.00,383.55 L451.50,383.49 L451.00,383.41 L450.50,383.19 L450.00,383.00 L449.50,383.05 L449.00,383.08 L448.50,382.68 L448.00,382.28 L447.50,382.28 L447.00,382.28 L446.50,382.48 L446.00,382.67 L445.50,382.80 L445.00,382.90 L444.50,382.80 L444.00,382.76 L443.50,383.04 L443.00,383.30 L442.50,383.52 L442.00,383.73 L441.50,383.82 L441.00,383.94 L440.50,384.03 L440.00,384.08 L439.50,383.82 L439.00,383.58 L438.50,383.65 L438.00,383.69 L437.50,383.55 L437.00,383.43 L436.50,383.50 L436.00,383.54 L435.50,382.65 L435.00,381.75 L434.50,381.30 L434.00,380.89 L433.50,379.99 L433.00,378.88 L432.50,378.15 L432.00,377.42 L431.50,376.37 L431.00,375.34 L430.50,375.39 L430.00,375.46 L429.50,375.58 L429.00,375.54 L428.50,374.52 L428.00,373.71 L427.50,374.20 L427.00,374.59 L426.50,374.37 L426.00,375.49 L425.50,376.93 L425.00,378.30 L424.50,379.74 L424.00,381.12 L423.50,382.45 L423.00,382.68 L422.50,382.60 L422.00,382.59 L421.50,382.82 L421.00,383.03 L420.50,383.17 L420.00,383.35 L419.50,383.48 L419.00,383.60 L418.50,383.65 L418.00,383.71 L417.50,383.88 L417.00,384.01 L416.50,384.00 L416.00,384.00 L415.50,383.93 L415.00,383.90 L414.50,384.10 L414.00,384.21 L413.50,383.91 L413.00,383.68 L412.50,383.78 L412.00,383.81 L411.50,383.52 L411.00,383.27 L410.50,383.04 L410.00,382.82 L409.50,382.69 L409.00,382.62 L408.50,382.80 L408.00,382.88 L407.50,382.41 L407.00,382.00 L406.50,382.02 L406.00,381.98 L405.50,381.66 L405.00,381.40 L404.50,381.29 L404.00,381.15 L403.50,380.87 L403.00,380.66 L402.50,380.78 L402.00,380.79 L401.50,380.02 L401.00,379.15 L400.50,377.99 L400.00,377.00 L399.50,376.93 L399.00,376.94 L398.50,377.03 L398.00,376.86 L397.50,375.51 L397.00,374.29 L396.50,373.11 L396.00,372.00 L395.50,371.13 L395.00,369.80 L394.50,367.78 L394.00,365.99 L393.50,369.33 L393.00,372.54 L392.50,376.18 L392.00,379.22 L391.50,378.07 L391.00,376.75 L390.50,374.96 L390.00,373.23 L389.50,371.13 L389.00,369.11 L388.50,367.33 L388.00,363.88 L387.50,358.96 L387.00,354.87 L386.50,354.34 L386.00,353.27 L385.50,347.61 L385.00,342.76 L384.50,341.80 L384.00,339.59 L383.50,330.97 L383.00,324.14 L382.50,324.26 L382.00,322.38 L381.50,311.65 L381.00,301.28 L380.50,294.54 L380.00,289.28 L379.50,288.07 L379.00,286.04 L378.50,290.37 L378.00,300.61 L377.50,316.82 L377.00,333.49 L376.50,347.19 L376.00,363.07 L375.50,369.30 L375.00,374.44 L374.50,376.00 L374.00,377.82 L373.50,379.96 L373.00,380.53 L372.50,381.21 L372.00,381.75 L371.50,382.04 L371.00,382.29 L370.50,382.43 L370.00,382.77 L369.50,382.73 L369.00,382.66 L368.50,382.48 L368.00,382.29 L367.50,382.06 L367.00,381.74 L366.50,381.18 L366.00,380.65 L365.50,379.46 L365.00,378.45 L364.50,378.12 L364.00,377.59 L363.50,376.12 L363.00,374.55 L362.50,374.04 L362.00,373.35 L361.50,371.82 L361.00,370.32 L360.50,368.25 L360.00,366.09 L359.50,363.67 L359.00,361.47 L358.50,359.96 L358.00,358.66 L357.50,354.68 L357.00,351.77 L356.50,351.56 L356.00,351.51 L355.50,353.65 L355.00,355.50 L354.50,356.82 L354.00,358.09 L353.50,359.27 L353.00,356.85 L352.50,352.38 L352.00,348.70 L351.50,347.24 L351.00,346.78 L350.50,348.41 L350.00,348.50 L349.50,347.37 L349.00,349.91 L348.50,354.19 L348.00,357.98 L347.50,362.05 L347.00,366.49 L346.50,371.34 L346.00,369.28 L345.50,366.55 L345.00,364.39 L344.50,363.91 L344.00,362.23 L343.50,357.51 L343.00,358.26 L342.50,361.24 L342.00,363.71 L341.50,360.65 L341.00,357.75 L340.50,355.32 L340.00,356.87 L339.50,357.70 L339.00,360.56 L338.50,365.10 L338.00,368.18 L337.50,365.03 L337.00,362.80 L336.50,362.75 L336.00,362.09 L335.50,359.40 L335.00,356.80 L334.50,355.71 L334.00,356.85 L333.50,359.70 L333.00,360.62 L332.50,365.96 L332.00,373.18 L331.50,381.26 L331.00,380.50 L330.50,379.52 L330.00,378.67 L329.50,378.45 L329.00,377.59 L328.50,376.21 L328.00,376.06 L327.50,376.51 L327.00,376.70 L326.50,376.47 L326.00,376.08 L325.50,375.40 L325.00,375.41 L324.50,376.50 L324.00,377.17 L323.50,377.16 L323.00,377.81 L322.50,378.39 L322.00,379.12 L321.50,380.03 L321.00,380.76 L320.50,378.70 L320.00,376.79 L319.50,375.32 L319.00,374.15 L318.50,373.43 L318.00,373.23 L317.50,371.29 L317.00,370.51 L316.50,371.38 L316.00,371.76 L315.50,371.86 L315.00,371.97 L314.50,370.37 L314.00,369.24 L313.50,371.10 L313.00,372.34 L312.50,372.90 L312.00,373.88 L311.50,375.88 L311.00,377.79 L310.50,379.62 L310.00,381.38 L309.50,381.55 L309.00,381.68 L308.50,381.74 L308.00,382.05 L307.50,382.61 L307.00,383.06 L306.50,383.39 L306.00,383.61 L305.50,383.71 L305.00,383.90 L304.50,383.99 L304.00,384.04 L303.50,384.04 L303.00,384.06 L302.50,384.12 L302.00,384.10 L301.50,383.99 L301.00,384.03 L300.50,384.22 L300.00,384.37 L299.50,384.41 L299.00,384.41 L298.50,384.36 L298.00,384.32 L297.50,384.29 L297.00,384.31 L296.50,384.39 L296.00,384.41 L295.50,384.36 L295.00,384.35 L294.50,384.33 L294.00,384.37 L293.50,384.49 L293.00,384.41 L292.50,384.08 L292.00,383.93 L291.50,384.00 L291.00,383.96 L290.50,383.78 L290.00,383.74 L289.50,383.61 L289.00,383.41 L288.50,383.04 L288.00,382.70 L287.50,382.41 L287.00,382.10 L286.50,381.74 L286.00,381.35 L285.50,380.92 L285.00,380.56 L284.50,380.31 L284.00,379.92 L283.50,379.36 L283.00,379.00 L282.50,378.52 L282.00,378.06 L281.50,377.60 L281.00,376.70 L280.50,375.26 L280.00,374.59 L279.50,374.85 L279.00,374.25 L278.50,372.61 L278.00,371.96 L277.50,372.24 L277.00,371.97 L276.50,371.05 L276.00,369.95 L275.50,368.65 L275.00,367.72 L274.50,367.22 L274.00,366.14 L273.50,364.43 L273.00,363.04 L272.50,362.00 L272.00,360.27 L271.50,358.92 L271.00,358.48 L270.50,359.39 L270.00,360.39 L269.50,360.50 L269.00,360.30 L268.50,359.81 L268.00,358.62 L267.50,357.76 L267.00,356.79 L266.50,353.38 L266.00,349.59 L265.50,351.18 L265.00,351.75 L264.50,351.12 L264.00,350.85 L263.50,347.71 L263.00,346.86 L262.50,348.38 L262.00,347.27 L261.50,342.26 L261.00,338.22 L260.50,335.23 L260.00,332.46 L259.50,326.18 L259.00,321.41 L258.50,318.34 L258.00,320.47 L257.50,319.94 L257.00,316.29 L256.50,313.65 L256.00,309.24 L255.50,299.70 L255.00,297.77 L254.50,301.59 L254.00,307.31 L253.50,313.91 L253.00,318.44 L252.50,321.39 L252.00,325.83 L251.50,332.67 L251.00,335.85 L250.50,336.92 L250.00,349.89 L249.50,364.13 L249.00,377.90 L248.50,378.37 L248.00,378.95 L247.50,379.01 L247.00,379.35 L246.50,379.87 L246.00,380.21 L245.50,379.93 L245.00,379.84 L244.50,379.90 L244.00,379.97 L243.50,380.04 L243.00,380.03 L242.50,379.96 L242.00,379.62 L241.50,379.08 L241.00,378.82 L240.50,378.75 L240.00,378.60 L239.50,378.16 L239.00,377.78 L238.50,377.44 L238.00,376.77 L237.50,375.84 L237.00,375.29 L236.50,375.04 L236.00,375.02 L235.50,375.19 L235.00,374.42 L234.50,372.73 L234.00,372.43 L233.50,373.18 L233.00,372.75 L232.50,371.45 L232.00,371.35 L231.50,371.19 L231.00,372.94 L230.50,375.08 L230.00,375.92 L229.50,376.03 L229.00,376.33 L228.50,374.92 L228.00,373.80 L227.50,372.96 L227.00,371.33 L226.50,368.80 L226.00,367.24 L225.50,366.43 L225.00,365.18 L224.50,366.86 L224.00,368.86 L223.50,370.98 L223.00,372.45 L222.50,373.32 L222.00,374.70 L221.50,376.30 L221.00,377.79 L220.50,376.19 L220.00,374.94 L219.50,374.01 L219.00,372.08 L218.50,369.33 L218.00,367.48 L217.50,366.75 L217.00,364.67 L216.50,361.59 L216.00,358.91 L215.50,355.78 L215.00,353.54 L214.50,351.95 L214.00,348.90 L213.50,345.09 L213.00,341.42 L212.50,341.48 L212.00,343.25 L211.50,347.07 L211.00,347.69 L210.50,345.32 L210.00,345.68 L209.50,345.93 L209.00,345.28 L208.50,346.14 L208.00,349.83 L207.50,353.77 L207.00,357.99 L206.50,361.93 L206.00,360.99 L205.50,359.40 L205.00,357.62 L204.50,356.63 L204.00,357.45 L203.50,359.10 L203.00,359.88 L202.50,360.15 L202.00,359.74 L201.50,359.04 L201.00,359.66 L200.50,363.09 L200.00,365.12 L199.50,366.23 L199.00,367.64 L198.50,365.58 L198.00,364.91 L197.50,365.05 L197.00,364.58 L196.50,363.46 L196.00,362.01 L195.50,360.38 L195.00,358.16 L194.50,353.02 L194.00,348.77 L193.50,345.07 L193.00,340.67 L192.50,335.86 L192.00,331.51 L191.50,329.42 L191.00,330.07 L190.50,332.12 L190.00,330.65 L189.50,327.27 L189.00,323.49 L188.50,323.56 L188.00,327.20 L187.50,332.04 L187.00,332.33 L186.50,331.22 L186.00,335.59 L185.50,337.13 L185.00,334.33 L184.50,330.34 L184.00,327.58 L183.50,333.46 L183.00,340.31 L182.50,347.54 L182.00,355.36 L181.50,358.22 L181.00,354.32 L180.50,349.39 L180.00,346.67 L179.50,343.49 L179.00,339.01 L178.50,332.91 L178.00,326.12 L177.50,319.77 L177.00,307.22 L176.50,293.27 L176.00,269.76 L175.50,241.92 L175.00,241.67 L174.50,262.26 L174.00,285.50 L173.50,303.83 L173.00,319.31 L172.50,322.72 L172.00,325.74 L171.50,321.92 L171.00,320.81 L170.50,320.93 L170.00,321.07 L169.50,326.26 L169.00,332.12 L168.50,341.40 L168.00,346.34 L167.50,348.97 L167.00,353.14 L166.50,348.37 L166.00,346.94 L165.50,346.29 L165.00,344.06 L164.50,347.51 L164.00,348.70 L163.50,349.94 L163.00,353.51 L162.50,357.55 L162.00,362.25 L161.50,366.76 L161.00,369.63 L160.50,372.53 L160.00,376.32 L159.50,377.03 L159.00,377.25 L158.50,377.36 L158.00,377.60 L157.50,377.75 L157.00,377.97 L156.50,378.21 L156.00,378.80 L155.50,378.61 L155.00,377.45 L154.50,375.89 L154.00,374.60 L153.50,372.88 L153.00,370.96 L152.50,368.90 L152.00,370.93 L151.50,373.11 L151.00,375.17 L150.50,377.13 L150.00,378.47 L149.50,378.96 L149.00,379.86 L148.50,380.84 L148.00,381.95 L147.50,383.02 L147.00,382.51 L146.50,381.86 L146.00,381.81 L145.50,381.95 L145.00,381.56 L144.50,381.01 L144.00,380.62 L143.50,380.26 L143.00,378.82 L142.50,377.41 L142.00,376.09 L141.50,374.80 L141.00,372.21 L140.50,369.35 L140.00,367.90 L139.50,366.88 L139.00,364.32 L138.50,361.08 L138.00,359.23 L137.50,357.92 L137.00,351.16 L136.50,347.22 L136.00,354.89 L135.50,364.20 L135.00,370.36 L134.50,374.49 L134.00,377.61 L133.50,377.59 L133.00,377.89 L132.50,378.25 L132.00,378.79 L131.50,379.34 L131.00,379.24 L130.50,378.07 L130.00,377.83 L129.50,377.83 L129.00,376.99 L128.50,375.95 L128.00,375.39 L127.50,374.56 L127.00,374.67 L126.50,375.11 L126.00,374.03 L125.50,372.61 L125.00,372.28 L124.50,371.69 L124.00,369.10 L123.50,365.94 L123.00,365.44 L122.50,365.54 L122.00,360.65 L121.50,354.32 L121.00,348.84 L120.50,349.28 L120.00,354.64 L119.50,359.56 L119.00,364.64 L118.50,366.55 L118.00,368.23 L117.50,369.90 L117.00,372.19 L116.50,372.92 L116.00,373.92 L115.50,374.94 L115.00,374.24 L114.50,372.40 L114.00,371.87 L113.50,372.49 L113.00,373.52 L112.50,374.51 L112.00,375.63 L111.50,376.63 L111.00,377.95 L110.50,379.24 L110.00,379.92 L109.50,378.77 L109.00,377.64 L108.50,376.47 L108.00,376.28 L107.50,376.33 L107.00,376.59 L106.50,376.80 L106.00,377.16 L105.50,377.59 L105.00,378.87 L104.50,380.12 L104.00,380.87 L103.50,381.28 L103.00,381.93 L102.50,382.56 L102.00,382.78 L101.50,383.03 L101.00,383.45 L100.50,383.37 L100.00,383.36 L99.50,383.37 L99.00,383.01 L98.50,382.60 L98.00,382.63 L97.50,382.69 L97.00,382.74 L96.50,382.78 L96.00,382.11 L95.50,381.48 L95.00,380.68 L94.50,378.37 L94.00,375.96 L93.50,373.46 L93.00,371.29 L92.50,369.08 L92.00,366.48 L91.50,364.02 L91.00,360.34 L90.50,357.58 L90.00,359.90 L89.50,362.63 L89.00,367.84 L88.50,372.72 L88.00,376.18 L87.50,378.95 L87.00,381.44 L86.50,383.05 L86.00,383.00 L85.50,382.96 L85.00,383.36 L84.50,383.66 L84.00,383.65 L83.50,383.63 L83.00,383.69 L82.50,383.75 L82.00,383.78 L81.50,383.82 L81.00,383.77 L80.50,383.56 L80.00,383.52 L79.50,383.50 L79.00,383.41 L78.50,383.32 L78.00,383.43 L77.50,383.56 L77.00,383.21 L76.50,382.85 L76.00,381.68 L75.50,380.51 L75.00,379.56 L74.50,378.67 L74.00,376.11 L73.50,373.50 L73.00,371.25 L72.50,369.14 L72.00,366.89 L71.50,364.64 L71.00,366.04 L70.50,368.87 L70.00,369.29 L69.50,369.96 L69.00,374.10 L68.50,378.46 L68.00,382.79 L67.50,386.00 Z" fill="#3a8af8" fill-opacity="0.93" stroke="#3a8af8" stroke-width="0.5" stroke-opacity="0.9"/>
<path d="M67.50,386.00 L67.50,386.00 L68.00,382.79 L68.50,378.46 L69.00,374.10 L69.50,369.96 L70.00,369.29 L70.50,368.87 L71.00,366.04 L71.50,364.64 L72.00,366.89 L72.50,369.14 L73.00,371.25 L73.50,373.50 L74.00,376.11 L74.50,378.67 L75.00,379.56 L75.50,380.51 L76.00,381.68 L76.50,382.85 L77.00,383.21 L77.50,383.56 L78.00,383.43 L78.50,383.32 L79.00,383.41 L79.50,383.50 L80.00,383.52 L80.50,383.56 L81.00,383.77 L81.50,383.82 L82.00,383.78 L82.50,383.75 L83.00,383.69 L83.50,383.63 L84.00,383.65 L84.50,383.66 L85.00,383.36 L85.50,382.96 L86.00,383.00 L86.50,383.05 L87.00,381.44 L87.50,378.95 L88.00,376.18 L88.50,372.72 L89.00,367.84 L89.50,362.63 L90.00,359.90 L90.50,357.58 L91.00,360.34 L91.50,364.02 L92.00,366.48 L92.50,369.08 L93.00,371.29 L93.50,373.46 L94.00,375.96 L94.50,378.37 L95.00,380.68 L95.50,381.48 L96.00,382.11 L96.50,382.78 L97.00,382.74 L97.50,382.69 L98.00,382.63 L98.50,382.60 L99.00,383.01 L99.50,383.37 L100.00,383.36 L100.50,383.37 L101.00,383.45 L101.50,383.03 L102.00,382.78 L102.50,382.56 L103.00,381.93 L103.50,381.28 L104.00,380.87 L104.50,380.12 L105.00,378.87 L105.50,377.59 L106.00,377.16 L106.50,376.80 L107.00,376.59 L107.50,376.33 L108.00,376.28 L108.50,376.47 L109.00,377.64 L109.50,378.77 L110.00,379.92 L110.50,379.24 L111.00,377.95 L111.50,376.63 L112.00,375.63 L112.50,374.51 L113.00,373.52 L113.50,372.49 L114.00,371.87 L114.50,372.40 L115.00,374.24 L115.50,374.94 L116.00,373.92 L116.50,372.92 L117.00,372.19 L117.50,369.90 L118.00,368.23 L118.50,366.55 L119.00,364.64 L119.50,359.56 L120.00,354.64 L120.50,349.28 L121.00,348.84 L121.50,354.32 L122.00,360.65 L122.50,365.54 L123.00,365.44 L123.50,365.94 L124.00,369.10 L124.50,371.69 L125.00,372.28 L125.50,372.61 L126.00,374.03 L126.50,375.11 L127.00,374.67 L127.50,374.56 L128.00,375.39 L128.50,375.95 L129.00,376.99 L129.50,377.83 L130.00,377.83 L130.50,378.07 L131.00,379.24 L131.50,379.34 L132.00,378.79 L132.50,378.25 L133.00,377.89 L133.50,377.59 L134.00,377.61 L134.50,374.49 L135.00,370.36 L135.50,364.20 L136.00,354.89 L136.50,347.22 L137.00,351.16 L137.50,357.92 L138.00,359.23 L138.50,361.08 L139.00,364.32 L139.50,366.88 L140.00,367.90 L140.50,369.35 L141.00,372.21 L141.50,374.80 L142.00,376.09 L142.50,377.41 L143.00,378.82 L143.50,380.26 L144.00,380.62 L144.50,381.01 L145.00,381.56 L145.50,381.95 L146.00,381.81 L146.50,381.86 L147.00,382.51 L147.50,383.02 L148.00,381.95 L148.50,380.84 L149.00,379.86 L149.50,378.96 L150.00,378.47 L150.50,377.13 L151.00,375.17 L151.50,373.11 L152.00,370.93 L152.50,368.90 L153.00,370.96 L153.50,372.88 L154.00,374.60 L154.50,375.89 L155.00,377.45 L155.50,378.61 L156.00,378.80 L156.50,378.21 L157.00,377.97 L157.50,377.75 L158.00,377.60 L158.50,377.36 L159.00,377.25 L159.50,377.03 L160.00,376.32 L160.50,372.53 L161.00,369.63 L161.50,366.76 L162.00,362.25 L162.50,357.55 L163.00,353.51 L163.50,349.94 L164.00,348.70 L164.50,347.51 L165.00,344.06 L165.50,346.29 L166.00,346.94 L166.50,348.37 L167.00,353.14 L167.50,348.97 L168.00,346.34 L168.50,341.40 L169.00,332.12 L169.50,326.26 L170.00,321.07 L170.50,320.93 L171.00,320.81 L171.50,321.92 L172.00,325.74 L172.50,322.72 L173.00,319.31 L173.50,303.83 L174.00,285.50 L174.50,262.26 L175.00,241.67 L175.50,241.92 L176.00,269.76 L176.50,293.27 L177.00,307.22 L177.50,319.77 L178.00,326.12 L178.50,332.91 L179.00,339.01 L179.50,343.49 L180.00,346.67 L180.50,349.39 L181.00,354.32 L181.50,358.22 L182.00,355.36 L182.50,347.54 L183.00,340.31 L183.50,333.46 L184.00,327.58 L184.50,330.34 L185.00,334.33 L185.50,337.13 L186.00,335.59 L186.50,331.22 L187.00,332.33 L187.50,332.04 L188.00,327.20 L188.50,323.56 L189.00,323.49 L189.50,327.27 L190.00,330.65 L190.50,332.12 L191.00,330.07 L191.50,329.42 L192.00,331.51 L192.50,335.86 L193.00,340.67 L193.50,345.07 L194.00,348.77 L194.50,353.02 L195.00,358.16 L195.50,360.38 L196.00,362.01 L196.50,363.46 L197.00,364.58 L197.50,365.05 L198.00,364.91 L198.50,365.58 L199.00,367.64 L199.50,366.23 L200.00,365.12 L200.50,363.09 L201.00,359.66 L201.50,359.04 L202.00,359.74 L202.50,360.15 L203.00,359.88 L203.50,359.10 L204.00,357.45 L204.50,356.63 L205.00,357.62 L205.50,359.40 L206.00,360.99 L206.50,361.93 L207.00,357.99 L207.50,353.77 L208.00,349.83 L208.50,346.14 L209.00,345.28 L209.50,345.93 L210.00,345.68 L210.50,345.32 L211.00,347.69 L211.50,347.07 L212.00,343.25 L212.50,341.48 L213.00,341.42 L213.50,345.09 L214.00,348.90 L214.50,351.95 L215.00,353.54 L215.50,355.78 L216.00,358.91 L216.50,361.59 L217.00,364.67 L217.50,366.75 L218.00,367.48 L218.50,369.33 L219.00,372.08 L219.50,374.01 L220.00,374.94 L220.50,376.19 L221.00,377.79 L221.50,376.30 L222.00,374.70 L222.50,373.32 L223.00,372.45 L223.50,370.98 L224.00,368.86 L224.50,366.86 L225.00,365.18 L225.50,366.43 L226.00,367.24 L226.50,368.80 L227.00,371.33 L227.50,372.96 L228.00,373.80 L228.50,374.92 L229.00,376.33 L229.50,376.03 L230.00,375.92 L230.50,375.08 L231.00,372.94 L231.50,371.19 L232.00,371.35 L232.50,371.45 L233.00,372.75 L233.50,373.18 L234.00,372.43 L234.50,372.73 L235.00,374.42 L235.50,375.19 L236.00,375.02 L236.50,375.04 L237.00,375.29 L237.50,375.84 L238.00,376.77 L238.50,377.44 L239.00,377.78 L239.50,378.16 L240.00,378.60 L240.50,378.75 L241.00,378.82 L241.50,379.08 L242.00,379.62 L242.50,379.96 L243.00,380.03 L243.50,380.04 L244.00,379.97 L244.50,379.90 L245.00,379.84 L245.50,379.93 L246.00,380.21 L246.50,379.87 L247.00,379.35 L247.50,379.01 L248.00,378.95 L248.50,378.37 L249.00,377.90 L249.50,364.13 L250.00,349.89 L250.50,336.92 L251.00,335.85 L251.50,332.67 L252.00,325.83 L252.50,321.39 L253.00,318.44 L253.50,313.91 L254.00,307.31 L254.50,301.59 L255.00,297.77 L255.50,299.70 L256.00,309.24 L256.50,313.65 L257.00,316.29 L257.50,319.94 L258.00,320.47 L258.50,318.34 L259.00,321.41 L259.50,326.18 L260.00,332.46 L260.50,335.23 L261.00,338.22 L261.50,342.26 L262.00,347.27 L262.50,348.38 L263.00,346.86 L263.50,347.71 L264.00,350.85 L264.50,351.12 L265.00,351.75 L265.50,351.18 L266.00,349.59 L266.50,353.38 L267.00,356.79 L267.50,357.76 L268.00,358.62 L268.50,359.81 L269.00,360.30 L269.50,360.50 L270.00,360.39 L270.50,359.39 L271.00,358.48 L271.50,358.92 L272.00,360.27 L272.50,362.00 L273.00,363.04 L273.50,364.43 L274.00,366.14 L274.50,367.22 L275.00,367.72 L275.50,368.65 L276.00,369.95 L276.50,371.05 L277.00,371.97 L277.50,372.24 L278.00,371.96 L278.50,372.61 L279.00,374.25 L279.50,374.85 L280.00,374.59 L280.50,375.26 L281.00,376.70 L281.50,377.60 L282.00,378.06 L282.50,378.52 L283.00,379.00 L283.50,379.36 L284.00,379.92 L284.50,380.31 L285.00,380.56 L285.50,380.92 L286.00,381.35 L286.50,381.74 L287.00,382.10 L287.50,382.41 L288.00,382.70 L288.50,383.04 L289.00,383.41 L289.50,383.61 L290.00,383.74 L290.50,383.78 L291.00,383.96 L291.50,384.00 L292.00,383.93 L292.50,384.08 L293.00,384.41 L293.50,384.49 L294.00,384.37 L294.50,384.33 L295.00,384.35 L295.50,384.36 L296.00,384.41 L296.50,384.39 L297.00,384.31 L297.50,384.29 L298.00,384.32 L298.50,384.36 L299.00,384.41 L299.50,384.41 L300.00,384.37 L300.50,384.22 L301.00,384.03 L301.50,383.99 L302.00,384.10 L302.50,384.12 L303.00,384.06 L303.50,384.04 L304.00,384.04 L304.50,383.99 L305.00,383.90 L305.50,383.71 L306.00,383.61 L306.50,383.39 L307.00,383.06 L307.50,382.61 L308.00,382.05 L308.50,381.74 L309.00,381.68 L309.50,381.55 L310.00,381.38 L310.50,379.62 L311.00,377.79 L311.50,375.88 L312.00,373.88 L312.50,372.90 L313.00,372.34 L313.50,371.10 L314.00,369.24 L314.50,370.37 L315.00,371.97 L315.50,371.86 L316.00,371.76 L316.50,371.38 L317.00,370.51 L317.50,371.29 L318.00,373.23 L318.50,373.43 L319.00,374.15 L319.50,375.32 L320.00,376.79 L320.50,378.70 L321.00,380.76 L321.50,380.03 L322.00,379.12 L322.50,378.39 L323.00,377.81 L323.50,377.16 L324.00,377.17 L324.50,376.50 L325.00,375.41 L325.50,375.40 L326.00,376.08 L326.50,376.47 L327.00,376.70 L327.50,376.51 L328.00,376.06 L328.50,376.21 L329.00,377.59 L329.50,378.45 L330.00,378.67 L330.50,379.52 L331.00,380.50 L331.50,381.26 L332.00,373.18 L332.50,365.96 L333.00,360.62 L333.50,359.70 L334.00,356.85 L334.50,355.71 L335.00,356.80 L335.50,359.40 L336.00,362.09 L336.50,362.75 L337.00,362.80 L337.50,365.03 L338.00,368.18 L338.50,365.10 L339.00,360.56 L339.50,357.70 L340.00,356.87 L340.50,355.32 L341.00,357.75 L341.50,360.65 L342.00,363.71 L342.50,361.24 L343.00,358.26 L343.50,357.51 L344.00,362.23 L344.50,363.91 L345.00,364.39 L345.50,366.55 L346.00,369.28 L346.50,371.34 L347.00,366.49 L347.50,362.05 L348.00,357.98 L348.50,354.19 L349.00,349.91 L349.50,347.37 L350.00,348.50 L350.50,348.41 L351.00,346.78 L351.50,347.24 L352.00,348.70 L352.50,352.38 L353.00,356.85 L353.50,359.27 L354.00,358.09 L354.50,356.82 L355.00,355.50 L355.50,353.65 L356.00,351.51 L356.50,351.56 L357.00,351.77 L357.50,354.68 L358.00,358.66 L358.50,359.96 L359.00,361.47 L359.50,363.67 L360.00,366.09 L360.50,368.25 L361.00,370.32 L361.50,371.82 L362.00,373.35 L362.50,374.04 L363.00,374.55 L363.50,376.12 L364.00,377.59 L364.50,378.12 L365.00,378.45 L365.50,379.46 L366.00,380.65 L366.50,381.18 L367.00,381.74 L367.50,382.06 L368.00,382.29 L368.50,382.48 L369.00,382.66 L369.50,382.73 L370.00,382.77 L370.50,382.43 L371.00,382.29 L371.50,382.04 L372.00,381.75 L372.50,381.21 L373.00,380.53 L373.50,379.96 L374.00,377.82 L374.50,376.00 L375.00,374.44 L375.50,369.30 L376.00,363.07 L376.50,347.19 L377.00,333.49 L377.50,316.82 L378.00,300.61 L378.50,290.37 L379.00,286.04 L379.50,288.07 L380.00,289.28 L380.50,294.54 L381.00,301.28 L381.50,311.65 L382.00,322.38 L382.50,324.26 L383.00,324.14 L383.50,330.97 L384.00,339.59 L384.50,341.80 L385.00,342.76 L385.50,347.61 L386.00,353.27 L386.50,354.34 L387.00,354.87 L387.50,358.96 L388.00,363.88 L388.50,367.33 L389.00,369.11 L389.50,371.13 L390.00,373.23 L390.50,374.96 L391.00,376.75 L391.50,378.07 L392.00,379.22 L392.50,376.18 L393.00,372.54 L393.50,369.33 L394.00,365.99 L394.50,367.78 L395.00,369.80 L395.50,371.13 L396.00,372.00 L396.50,373.11 L397.00,374.29 L397.50,375.51 L398.00,376.86 L398.50,377.03 L399.00,376.94 L399.50,376.93 L400.00,377.00 L400.50,377.99 L401.00,379.15 L401.50,380.02 L402.00,380.79 L402.50,380.78 L403.00,380.66 L403.50,380.87 L404.00,381.15 L404.50,381.29 L405.00,381.40 L405.50,381.66 L406.00,381.98 L406.50,382.02 L407.00,382.00 L407.50,382.41 L408.00,382.88 L408.50,382.80 L409.00,382.62 L409.50,382.69 L410.00,382.82 L410.50,383.04 L411.00,383.27 L411.50,383.52 L412.00,383.81 L412.50,383.78 L413.00,383.68 L413.50,383.91 L414.00,384.21 L414.50,384.10 L415.00,383.90 L415.50,383.93 L416.00,384.00 L416.50,384.00 L417.00,384.01 L417.50,383.88 L418.00,383.71 L418.50,383.65 L419.00,383.60 L419.50,383.48 L420.00,383.35 L420.50,383.17 L421.00,383.03 L421.50,382.82 L422.00,382.59 L422.50,382.60 L423.00,382.68 L423.50,382.45 L424.00,381.12 L424.50,379.74 L425.00,378.30 L425.50,376.93 L426.00,375.49 L426.50,374.37 L427.00,374.59 L427.50,374.20 L428.00,373.71 L428.50,374.52 L429.00,375.54 L429.50,375.58 L430.00,375.46 L430.50,375.39 L431.00,375.34 L431.50,376.37 L432.00,377.42 L432.50,378.15 L433.00,378.88 L433.50,379.99 L434.00,380.89 L434.50,381.30 L435.00,381.75 L435.50,382.65 L436.00,383.54 L436.50,383.50 L437.00,383.43 L437.50,383.55 L438.00,383.69 L438.50,383.65 L439.00,383.58 L439.50,383.82 L440.00,384.08 L440.50,384.03 L441.00,383.94 L441.50,383.82 L442.00,383.73 L442.50,383.52 L443.00,383.30 L443.50,383.04 L444.00,382.76 L444.50,382.80 L445.00,382.90 L445.50,382.80 L446.00,382.67 L446.50,382.48 L447.00,382.28 L447.50,382.28 L448.00,382.28 L448.50,382.68 L449.00,383.08 L449.50,383.05 L450.00,383.00 L450.50,383.19 L451.00,383.41 L451.50,383.49 L452.00,383.55 L452.50,383.56 L453.00,383.57 L453.50,383.38 L454.00,383.18 L454.50,383.14 L455.00,383.12 L455.50,383.00 L456.00,382.86 L456.50,382.69 L457.00,382.51 L457.50,381.42 L458.00,380.36 L458.50,379.79 L459.00,379.45 L459.50,378.17 L460.00,376.68 L460.50,375.64 L461.00,374.95 L461.50,374.05 L462.00,373.10 L462.50,372.15 L463.00,371.16 L463.50,371.18 L464.00,372.99 L464.50,374.39 L465.00,375.73 L465.50,377.16 L466.00,378.52 L466.50,379.03 L467.00,379.57 L467.50,380.24 L468.00,380.94 L468.50,381.72 L469.00,379.84 L469.50,378.54 L470.00,377.53 L470.50,375.75 L471.00,373.82 L471.50,372.01 L472.00,372.93 L472.50,373.71 L473.00,374.57 L473.50,376.32 L474.00,377.64 L474.50,378.67 L475.00,379.64 L475.50,380.45 L476.00,381.24 L476.50,381.49 L477.00,381.74 L477.50,382.08 L478.00,382.42 L478.50,382.55 L479.00,382.70 L479.50,383.00 L480.00,383.31 L480.50,383.42 L481.00,383.52 L481.50,383.56 L482.00,383.60 L482.50,383.80 L483.00,383.99 L483.50,384.01 L484.00,382.24 L484.50,380.67 L485.00,379.19 L485.50,377.53 L486.00,375.83 L486.50,373.77 L487.00,373.19 L487.50,375.16 L488.00,377.02 L488.50,378.40 L489.00,379.66 L489.50,380.05 L490.00,379.32 L490.50,377.88 L491.00,376.50 L491.50,374.01 L492.00,366.62 L492.50,352.89 L493.00,339.68 L493.50,323.59 L494.00,319.17 L494.50,316.93 L495.00,316.78 L495.50,324.61 L496.00,331.86 L496.50,331.61 L497.00,331.68 L497.50,334.20 L498.00,336.83 L498.50,343.39 L499.00,349.36 L499.50,350.51 L500.00,352.43 L500.50,355.76 L501.00,359.08 L501.50,353.01 L502.00,346.94 L502.50,330.63 L503.00,323.70 L503.50,324.92 L504.00,333.22 L504.50,334.15 L505.00,335.51 L505.50,338.41 L506.00,341.34 L506.50,343.85 L507.00,346.63 L507.50,352.44 L508.00,358.32 L508.50,360.10 L509.00,355.80 L509.50,354.49 L510.00,354.19 L510.50,354.90 L511.00,359.34 L511.50,359.78 L512.00,360.77 L512.50,364.75 L513.00,368.41 L513.50,370.89 L514.00,372.20 L514.50,374.18 L515.00,376.04 L515.50,376.63 L516.00,377.34 L516.50,378.66 L517.00,379.90 L517.50,380.39 L518.00,380.84 L518.50,380.99 L519.00,381.20 L519.50,381.71 L520.00,382.19 L520.50,382.65 L521.00,383.07 L521.50,382.77 L522.00,382.47 L522.50,382.54 L523.00,382.60 L523.50,382.51 L524.00,382.42 L524.50,382.28 L525.00,382.16 L525.50,381.13 L526.00,380.15 L526.50,378.78 L527.00,377.28 L527.50,375.46 L528.00,373.67 L528.50,373.71 L529.00,375.98 L529.50,376.93 L530.00,378.03 L530.50,379.30 L531.00,380.45 L531.50,381.29 L532.00,382.14 L532.50,381.84 L533.00,381.58 L533.50,381.67 L534.00,381.77 L534.50,381.98 L535.00,382.16 L535.50,382.07 L536.00,382.01 L536.50,382.31 L537.00,382.58 L537.50,382.76 L538.00,382.93 L538.50,383.12 L539.00,383.31 L539.50,383.48 L540.00,383.64 L540.50,382.43 L541.00,381.14 L541.50,379.93 L542.00,378.71 L542.50,377.01 L543.00,375.34 L543.50,373.90 L544.00,371.92 L544.50,370.32 L545.00,368.69 L545.50,365.92 L546.00,363.20 L546.50,361.97 L547.00,360.51 L547.50,359.81 L548.00,359.50 L548.50,360.83 L549.00,362.08 L549.50,363.15 L550.00,364.37 L550.50,366.34 L551.00,368.25 L551.50,370.26 L552.00,371.79 L552.50,369.26 L553.00,366.77 L553.50,365.52 L554.00,364.58 L554.50,365.83 L555.00,366.69 L555.50,364.84 L556.00,364.17 L556.50,363.90 L557.00,364.05 L557.50,366.18 L558.00,363.73 L558.50,357.55 L559.00,351.55 L559.50,348.66 L560.00,346.18 L560.50,342.49 L561.00,339.97 L561.50,332.69 L562.00,329.79 L562.50,335.73 L563.00,341.35 L563.50,348.05 L564.00,353.87 L564.50,357.51 L565.00,361.30 L565.50,367.75 L566.00,372.69 L566.50,369.18 L567.00,366.02 L567.50,366.16 L568.00,366.05 L568.50,363.54 L569.00,361.19 L569.50,360.08 L570.00,359.82 L570.50,359.48 L571.00,359.24 L571.50,359.30 L572.00,359.74 L572.50,361.74 L573.00,363.11 L573.50,362.26 L574.00,361.91 L574.50,365.22 L575.00,368.26 L575.50,370.84 L576.00,373.26 L576.50,375.39 L577.00,377.68 L577.50,377.47 L578.00,377.22 L578.50,376.71 L579.00,376.07 L579.50,374.97 L580.00,374.04 L580.50,374.00 L581.00,373.57 L581.50,372.11 L582.00,370.78 L582.50,370.22 L583.00,369.80 L583.50,369.78 L584.00,369.76 L584.50,369.52 L585.00,367.00 L585.50,363.17 L586.00,359.13 L586.50,351.74 L587.00,344.33 L587.50,336.13 L588.00,328.37 L588.50,323.32 L589.00,323.20 L589.50,324.89 L590.00,329.43 L590.50,338.77 L591.00,346.02 L591.50,349.14 L592.00,350.59 L592.50,351.32 L593.00,352.11 L593.50,352.29 L594.00,353.76 L594.50,358.03 L595.00,354.49 L595.50,351.20 L596.00,344.94 L596.50,335.00 L597.00,314.23 L597.50,295.14 L598.00,274.68 L598.50,275.86 L599.00,292.41 L599.50,309.54 L600.00,316.89 L600.50,322.24 L601.00,326.06 L601.50,327.44 L602.00,329.38 L602.50,330.58 L603.00,331.38 L603.50,331.10 L604.00,331.29 L604.50,332.22 L605.00,334.69 L605.50,340.83 L606.00,346.07 L606.50,348.63 L607.00,351.15 L607.50,354.27 L608.00,357.68 L608.50,360.00 L609.00,362.08 L609.50,363.66 L610.00,365.73 L610.50,368.22 L611.00,370.18 L611.50,371.67 L612.00,372.96 L612.50,373.90 L613.00,375.21 L613.50,374.97 L614.00,374.73 L614.50,374.38 L615.00,374.03 L615.50,373.58 L616.00,373.00 L616.50,372.05 L617.00,371.15 L617.50,370.61 L618.00,370.21 L618.50,370.19 L619.00,369.52 L619.50,367.28 L620.00,365.80 L620.50,365.72 L621.00,365.67 L621.50,365.71 L622.00,365.73 L622.50,366.31 L623.00,366.94 L623.50,367.66 L624.00,368.06 L624.50,368.00 L625.00,367.49 L625.50,366.09 L626.00,366.27 L626.50,369.38 L627.00,371.07 L627.50,370.19 L628.00,369.73 L628.50,369.86 L629.00,370.23 L629.50,371.02 L630.00,371.76 L630.50,372.43 L631.00,373.26 L631.50,374.10 L632.00,375.39 L632.50,377.31 L633.00,378.46 L633.50,378.99 L634.00,379.70 L634.50,376.64 L635.00,373.87 L635.50,372.23 L636.00,367.40 L636.50,361.62 L637.00,357.21 L637.50,352.08 L638.00,348.11 L638.50,345.00 L639.00,344.77 L639.50,347.78 L640.00,351.27 L640.50,354.93 L641.00,358.69 L641.50,362.65 L642.00,366.10 L642.50,368.29 L643.00,370.03 L643.50,371.20 L644.00,372.75 L644.50,374.73 L645.00,373.90 L645.50,373.57 L646.00,372.87 L646.50,371.81 L647.00,370.88 L647.50,372.10 L648.00,373.26 L648.50,374.37 L649.00,375.69 L649.50,377.51 L650.00,378.80 L650.50,379.21 L651.00,379.65 L651.50,380.51 L652.00,381.13 L652.50,381.47 L653.00,381.86 L653.50,382.14 L654.00,382.21 L654.50,382.20 L655.00,382.20 L655.50,382.20 L656.00,382.43 L656.50,382.81 L657.00,383.04 L657.50,383.07 L658.00,383.09 L658.50,383.10 L659.00,383.22 L659.50,383.49 L660.00,383.59 L660.50,383.45 L661.00,383.37 L661.50,383.42 L662.00,383.30 L662.50,382.87 L663.00,382.55 L663.50,382.43 L664.00,382.34 L664.50,382.31 L665.00,381.94 L665.50,381.63 L666.00,381.10 L666.50,380.13 L667.00,379.42 L667.50,378.67 L668.00,377.87 L668.50,376.90 L669.00,376.53 L669.50,376.03 L670.00,375.94 L670.50,378.13 L671.00,379.61 L671.50,380.07 L672.00,380.81 L672.50,380.97 L673.00,381.23 L673.50,381.59 L674.00,381.92 L674.50,382.15 L675.00,382.42 L675.50,382.75 L676.00,382.93 L676.50,382.96 L677.00,382.97 L677.50,383.10 L678.00,383.22 L678.50,383.32 L679.00,383.44 L679.50,383.57 L680.00,383.40 L680.50,383.12 L681.00,382.88 L681.50,382.68 L682.00,382.55 L682.50,382.50 L683.00,382.38 L683.50,382.00 L684.00,381.61 L684.50,381.23 L685.00,380.84 L685.50,380.47 L686.00,380.12 L686.50,379.96 L687.00,379.75 L687.50,379.45 L688.00,379.13 L688.50,379.42 L689.00,379.64 L689.50,379.79 L690.00,379.94 L690.50,380.08 L691.00,380.25 L691.50,380.44 L692.00,380.79 L692.50,380.53 L693.00,380.12 L693.50,379.50 L694.00,379.06 L694.50,378.53 L695.00,377.56 L695.50,375.97 L696.00,376.01 L696.50,377.70 L697.00,378.96 L697.50,379.93 L698.00,380.80 L698.50,381.80 L699.00,382.65 L699.50,382.76 L700.00,382.92 L700.50,383.12 L701.00,383.18 L701.50,383.13 L702.00,383.26 L702.50,383.38 L703.00,383.46 L703.50,383.51 L704.00,383.56 L704.50,383.63 L705.00,383.65 L705.50,383.62 L706.00,383.55 L706.50,383.52 L707.00,383.50 L707.50,383.49 L708.00,383.65 L708.50,383.96 L709.00,384.12 L709.50,384.15 L710.00,382.52 L710.50,380.80 L711.00,379.14 L711.50,376.85 L712.00,374.76 L712.50,374.97 L713.00,374.56 L713.50,373.50 L714.00,372.63 L714.50,371.95 L715.00,373.26 L715.50,375.11 L716.00,375.96 L716.50,376.14 L717.00,376.40 L717.50,376.85 L718.00,377.46 L718.50,378.17 L719.00,379.05 L719.50,380.04 L720.00,380.09 L720.50,379.79 L721.00,379.99 L721.50,380.55 L722.00,381.05 L722.50,381.50 L723.00,381.65 L723.50,381.60 L724.00,381.89 L724.50,382.18 L725.00,382.16 L725.50,381.87 L726.00,381.92 L726.50,382.22 L727.00,382.19 L727.50,381.90 L728.00,381.89 L728.50,382.28 L729.00,382.42 L729.50,382.42 L730.00,382.57 L730.50,382.83 L731.00,383.07 L731.50,383.31 L732.00,383.54 L732.50,383.78 L733.00,383.95 L733.50,383.91 L734.00,384.02 L734.50,384.24 L735.00,384.26 L735.50,384.14 L736.00,384.11 L736.50,384.14 L737.00,384.17 L737.50,384.18 L738.00,384.20 L738.50,384.21 L739.00,384.14 L739.50,384.00 L740.00,384.09 L740.50,384.32 L741.00,384.41 L741.50,384.40 L742.00,384.44 L742.50,384.43 L743.00,384.36 L743.50,384.25 L744.00,384.30 L744.50,384.48 L745.00,384.39 L745.50,384.13 L746.00,384.09 L746.50,384.21 L747.00,384.29 L747.50,384.37 L748.00,384.33 L748.50,384.22 L749.00,384.11 L749.50,383.40 L750.00,382.68 L750.50,381.97 L751.00,381.29 L751.50,380.67 L752.00,379.91 L752.50,378.55 L753.00,377.43 L753.50,376.54 L754.00,375.53 L754.50,376.41 L755.00,377.69 L755.50,379.10 L756.00,379.64 L756.50,379.88 L757.00,380.54 L757.50,381.39 L758.00,382.42 L758.50,383.13 L759.00,383.46 L759.50,383.76 L760.00,383.95 L760.50,384.08 L761.00,384.10 L761.50,384.10 L762.00,384.33 L762.50,384.65 L763.00,384.87 L763.50,385.05 L764.00,385.24 L764.50,385.15 L765.00,385.02 L765.50,384.87 L766.00,384.78 L766.50,384.73 L767.00,384.67 L767.50,384.59 L768.00,380.86 L768.50,378.22 L769.00,376.54 L769.50,376.28 L770.00,376.10 L770.50,375.98 L771.00,376.36 L771.50,376.97 L772.00,377.38 L772.50,377.60 L773.00,378.16 L773.50,378.86 L774.00,379.42 L774.50,378.59 L775.00,377.74 L775.50,376.89 L776.00,375.81 L776.50,374.76 L777.00,375.60 L777.50,376.38 L778.00,377.53 L778.50,375.95 L779.00,374.57 L779.50,373.46 L780.00,371.90 L780.50,371.46 L781.00,372.78 L781.50,374.22 L782.00,375.48 L782.50,376.72 L783.00,378.19 L783.50,379.70 L784.00,380.24 L784.50,380.74 L785.00,381.50 L785.50,382.30 L786.00,382.70 L786.50,382.81 L787.00,383.03 L787.50,383.29 L788.00,383.78 L788.50,384.29 L789.00,384.53 L789.50,383.70 L790.00,383.03 L790.50,382.51 L791.00,381.97 L791.50,380.99 L792.00,380.22 L792.50,379.62 L793.00,378.24 L793.50,376.36 L794.00,375.56 L794.50,375.34 L795.00,374.49 L795.50,372.91 L796.00,370.62 L796.50,368.12 L797.00,366.78 L797.50,367.80 L798.00,369.73 L798.50,371.37 L799.00,373.34 L799.50,375.47 L800.00,377.29 L800.50,377.74 L801.00,378.31 L801.50,378.94 L802.00,379.66 L802.50,380.36 L803.00,381.02 L803.50,381.68 L804.00,376.80 L804.50,372.21 L805.00,366.88 L805.50,360.95 L806.00,359.96 L806.50,363.30 L807.00,364.52 L807.50,365.07 L808.00,368.02 L808.50,371.39 L809.00,373.25 L809.50,375.02 L810.00,375.71 L810.50,376.15 L811.00,376.17 L811.50,376.19 L812.00,375.68 L812.50,375.79 L813.00,374.85 L813.50,373.40 L814.00,371.91 L814.50,372.82 L815.00,374.54 L815.50,376.37 L816.00,377.16 L816.50,377.93 L817.00,379.17 L817.50,380.56 L818.00,381.42 L818.50,381.49 L819.00,381.00 L819.50,380.31 L820.00,380.19 L820.50,380.28 L821.00,380.14 L821.50,379.92 L822.00,379.44 L822.50,378.88 L823.00,379.04 L823.50,379.76 L824.00,380.61 L824.50,381.46 L825.00,382.01 L825.50,382.50 L826.00,383.35 L826.50,384.17 L827.00,384.22 L827.50,384.23 L828.00,384.28 L828.50,384.35 L829.00,384.31 L829.50,384.25 L830.00,384.28 L830.50,384.34 L831.00,384.40 L831.50,384.46 L832.00,384.60 L832.50,384.75 L833.00,384.76 L833.50,384.75 L834.00,384.78 L834.50,384.66 L835.00,384.64 L835.50,384.65 L836.00,384.54 L836.50,384.41 L837.00,384.23 L837.50,384.03 L838.00,383.91 L838.50,383.80 L839.00,383.72 L839.50,383.19 L840.00,382.61 L840.50,382.01 L841.00,381.46 L841.50,380.93 L842.00,380.40 L842.50,380.01 L843.00,379.63 L843.50,379.27 L844.00,379.02 L844.50,379.37 L845.00,379.44 L845.50,379.46 L846.00,379.64 L846.50,379.90 L847.00,379.64 L847.50,379.32 L848.00,380.13 L848.50,381.28 L849.00,382.11 L849.50,382.89 L850.00,383.65 L850.50,383.70 L851.00,383.04 L851.50,382.36 L852.00,381.72 L852.50,381.09 L853.00,380.07 L853.50,378.97 L854.00,378.14 L854.50,378.97 L855.00,379.50 L855.50,380.02 L856.00,380.95 L856.50,381.76 L857.00,382.21 L857.50,382.65 L858.00,381.00 L858.50,377.10 L859.00,374.01 L859.50,372.01 L860.00,368.57 L860.50,366.35 L861.00,366.54 L861.50,366.84 L862.00,367.51 L862.50,367.72 L863.00,367.68 L863.50,367.61 L864.00,368.27 L864.50,370.27 L865.00,369.86 L865.50,369.74 L866.00,372.60 L866.50,375.45 L867.00,375.34 L867.50,375.17 L868.00,374.15 L868.50,373.01 L869.00,373.58 L869.50,374.40 L870.00,373.01 L870.50,370.85 L871.00,369.67 L871.50,368.69 L872.00,367.36 L872.50,366.13 L873.00,365.49 L873.50,366.56 L874.00,369.33 L874.50,371.96 L875.00,374.31 L875.50,376.62 L876.00,377.71 L876.50,379.22 L877.00,380.33 L877.50,381.43 L878.00,382.19 L878.50,382.85 L879.00,383.24 L879.50,383.69 L880.00,384.44 L880.50,384.40 L881.00,384.22 L881.50,384.04 L882.00,383.87 L882.50,383.71 L883.00,383.53 L883.50,383.45 L884.00,383.46 L884.50,383.48 L885.00,383.37 L885.50,383.26 L886.00,383.01 L886.50,382.74 L887.00,382.95 L887.50,383.17 L888.00,383.66 L888.50,384.12 L889.00,384.18 L889.50,383.97 L890.00,383.63 L890.50,383.27 L891.00,383.14 L891.50,383.02 L892.00,383.31 L892.50,383.60 L893.00,383.75 L893.50,383.93 L894.00,384.37 L894.50,384.77 L895.00,384.89 L895.50,384.87 L896.00,384.80 L896.50,384.74 L897.00,384.62 L897.50,384.49 L898.00,384.41 L898.50,384.32 L899.00,384.18 L899.50,384.04 L900.00,384.01 L900.50,383.99 L901.00,383.92 L901.50,383.85 L902.00,383.66 L902.50,383.45 L903.00,383.40 L903.50,383.36 L904.00,383.40 L904.50,383.35 L905.00,382.89 L905.50,382.39 L906.00,382.19 L906.50,381.99 L907.00,381.30 L907.50,380.61 L908.00,380.21 L908.50,380.12 L909.00,379.71 L909.50,386.00 L909.50,386.00 Z" fill="rgb(245,60,105)" fill-opacity="0.8"/>
<path d="M67.50,386.00 L68.00,382.79 L68.50,378.46 L69.00,374.10 L69.50,369.96 L70.00,369.29 L70.50,368.87 L71.00,366.04 L71.50,364.64 L72.00,366.89 L72.50,369.14 L73.00,371.25 L73.50,373.50 L74.00,376.11 L74.50,378.67 L75.00,379.56 L75.50,380.51 L76.00,381.68 L76.50,382.85 L77.00,383.21 L77.50,383.56 L78.00,383.43 L78.50,383.32 L79.00,383.41 L79.50,383.50 L80.00,383.52 L80.50,383.56 L81.00,383.77 L81.50,383.82 L82.00,383.78 L82.50,383.75 L83.00,383.69 L83.50,383.63 L84.00,383.65 L84.50,383.66 L85.00,383.36 L85.50,382.96 L86.00,383.00 L86.50,383.05 L87.00,381.44 L87.50,378.95 L88.00,376.18 L88.50,372.72 L89.00,367.84 L89.50,362.63 L90.00,359.90 L90.50,357.58 L91.00,360.34 L91.50,364.02 L92.00,366.48 L92.50,369.08 L93.00,371.29 L93.50,373.46 L94.00,375.96 L94.50,378.37 L95.00,380.68 L95.50,381.48 L96.00,382.11 L96.50,382.78 L97.00,382.74 L97.50,382.69 L98.00,382.63 L98.50,382.60 L99.00,383.01 L99.50,383.37 L100.00,383.36 L100.50,383.37 L101.00,383.45 L101.50,383.03 L102.00,382.78 L102.50,382.56 L103.00,381.93 L103.50,381.28 L104.00,380.87 L104.50,380.12 L105.00,378.87 L105.50,377.59 L106.00,377.16 L106.50,376.80 L107.00,376.59 L107.50,376.33 L108.00,376.28 L108.50,376.47 L109.00,377.64 L109.50,378.77 L110.00,379.92 L110.50,379.24 L111.00,377.95 L111.50,376.63 L112.00,375.63 L112.50,374.51 L113.00,373.52 L113.50,372.49 L114.00,371.87 L114.50,372.40 L115.00,374.24 L115.50,374.94 L116.00,373.92 L116.50,372.92 L117.00,372.19 L117.50,369.90 L118.00,368.23 L118.50,366.55 L119.00,364.64 L119.50,359.56 L120.00,354.64 L120.50,349.28 L121.00,348.84 L121.50,354.32 L122.00,360.65 L122.50,365.54 L123.00,365.44 L123.50,365.94 L124.00,369.10 L124.50,371.69 L125.00,372.28 L125.50,372.61 L126.00,374.03 L126.50,375.11 L127.00,374.67 L127.50,374.56 L128.00,375.39 L128.50,375.95 L129.00,376.99 L129.50,377.83 L130.00,377.83 L130.50,378.07 L131.00,379.24 L131.50,379.34 L132.00,378.79 L132.50,378.25 L133.00,377.89 L133.50,377.59 L134.00,377.61 L134.50,374.49 L135.00,370.36 L135.50,364.20 L136.00,354.89 L136.50,347.22 L137.00,351.16 L137.50,357.92 L138.00,359.23 L138.50,361.08 L139.00,364.32 L139.50,366.88 L140.00,367.90 L140.50,369.35 L141.00,372.21 L141.50,374.80 L142.00,376.09 L142.50,377.41 L143.00,378.82 L143.50,380.26 L144.00,380.62 L144.50,381.01 L145.00,381.56 L145.50,381.95 L146.00,381.81 L146.50,381.86 L147.00,382.51 L147.50,383.02 L148.00,381.95 L148.50,380.84 L149.00,379.86 L149.50,378.96 L150.00,378.47 L150.50,377.13 L151.00,375.17 L151.50,373.11 L152.00,370.93 L152.50,368.90 L153.00,370.96 L153.50,372.88 L154.00,374.60 L154.50,375.89 L155.00,377.45 L155.50,378.61 L156.00,378.80 L156.50,378.21 L157.00,377.97 L157.50,377.75 L158.00,377.60 L158.50,377.36 L159.00,377.25 L159.50,377.03 L160.00,376.32 L160.50,372.53 L161.00,369.63 L161.50,366.76 L162.00,362.25 L162.50,357.55 L163.00,353.51 L163.50,349.94 L164.00,348.70 L164.50,347.51 L165.00,344.06 L165.50,346.29 L166.00,346.94 L166.50,348.37 L167.00,353.14 L167.50,348.97 L168.00,346.34 L168.50,341.40 L169.00,332.12 L169.50,326.26 L170.00,321.07 L170.50,320.93 L171.00,320.81 L171.50,321.92 L172.00,325.74 L172.50,322.72 L173.00,319.31 L173.50,303.83 L174.00,285.50 L174.50,262.26 L175.00,241.67 L175.50,241.92 L176.00,269.76 L176.50,293.27 L177.00,307.22 L177.50,319.77 L178.00,326.12 L178.50,332.91 L179.00,339.01 L179.50,343.49 L180.00,346.67 L180.50,349.39 L181.00,354.32 L181.50,358.22 L182.00,355.36 L182.50,347.54 L183.00,340.31 L183.50,333.46 L184.00,327.58 L184.50,330.34 L185.00,334.33 L185.50,337.13 L186.00,335.59 L186.50,331.22 L187.00,332.33 L187.50,332.04 L188.00,327.20 L188.50,323.56 L189.00,323.49 L189.50,327.27 L190.00,330.65 L190.50,332.12 L191.00,330.07 L191.50,329.42 L192.00,331.51 L192.50,335.86 L193.00,340.67 L193.50,345.07 L194.00,348.77 L194.50,353.02 L195.00,358.16 L195.50,360.38 L196.00,362.01 L196.50,363.46 L197.00,364.58 L197.50,365.05 L198.00,364.91 L198.50,365.58 L199.00,367.64 L199.50,366.23 L200.00,365.12 L200.50,363.09 L201.00,359.66 L201.50,359.04 L202.00,359.74 L202.50,360.15 L203.00,359.88 L203.50,359.10 L204.00,357.45 L204.50,356.63 L205.00,357.62 L205.50,359.40 L206.00,360.99 L206.50,361.93 L207.00,357.99 L207.50,353.77 L208.00,349.83 L208.50,346.14 L209.00,345.28 L209.50,345.93 L210.00,345.68 L210.50,345.32 L211.00,347.69 L211.50,347.07 L212.00,343.25 L212.50,341.48 L213.00,341.42 L213.50,345.09 L214.00,348.90 L214.50,351.95 L215.00,353.54 L215.50,355.78 L216.00,358.91 L216.50,361.59 L217.00,364.67 L217.50,366.75 L218.00,367.48 L218.50,369.33 L219.00,372.08 L219.50,374.01 L220.00,374.94 L220.50,376.19 L221.00,377.79 L221.50,376.30 L222.00,374.70 L222.50,373.32 L223.00,372.45 L223.50,370.98 L224.00,368.86 L224.50,366.86 L225.00,365.18 L225.50,366.43 L226.00,367.24 L226.50,368.80 L227.00,371.33 L227.50,372.96 L228.00,373.80 L228.50,374.92 L229.00,376.33 L229.50,376.03 L230.00,375.92 L230.50,375.08 L231.00,372.94 L231.50,371.19 L232.00,371.35 L232.50,371.45 L233.00,372.75 L233.50,373.18 L234.00,372.43 L234.50,372.73 L235.00,374.42 L235.50,375.19 L236.00,375.02 L236.50,375.04 L237.00,375.29 L237.50,375.84 L238.00,376.77 L238.50,377.44 L239.00,377.78 L239.50,378.16 L240.00,378.60 L240.50,378.75 L241.00,378.82 L241.50,379.08 L242.00,379.62 L242.50,379.96 L243.00,380.03 L243.50,380.04 L244.00,379.97 L244.50,379.90 L245.00,379.84 L245.50,379.93 L246.00,380.21 L246.50,379.87 L247.00,379.35 L247.50,379.01 L248.00,378.95 L248.50,378.37 L249.00,377.90 L249.50,364.13 L250.00,349.89 L250.50,336.92 L251.00,335.85 L251.50,332.67 L252.00,325.83 L252.50,321.39 L253.00,318.44 L253.50,313.91 L254.00,307.31 L254.50,301.59 L255.00,297.77 L255.50,299.70 L256.00,309.24 L256.50,313.65 L257.00,316.29 L257.50,319.94 L258.00,320.47 L258.50,318.34 L259.00,321.41 L259.50,326.18 L260.00,332.46 L260.50,335.23 L261.00,338.22 L261.50,342.26 L262.00,347.27 L262.50,348.38 L263.00,346.86 L263.50,347.71 L264.00,350.85 L264.50,351.12 L265.00,351.75 L265.50,351.18 L266.00,349.59 L266.50,353.38 L267.00,356.79 L267.50,357.76 L268.00,358.62 L268.50,359.81 L269.00,360.30 L269.50,360.50 L270.00,360.39 L270.50,359.39 L271.00,358.48 L271.50,358.92 L272.00,360.27 L272.50,362.00 L273.00,363.04 L273.50,364.43 L274.00,366.14 L274.50,367.22 L275.00,367.72 L275.50,368.65 L276.00,369.95 L276.50,371.05 L277.00,371.97 L277.50,372.24 L278.00,371.96 L278.50,372.61 L279.00,374.25 L279.50,374.85 L280.00,374.59 L280.50,375.26 L281.00,376.70 L281.50,377.60 L282.00,378.06 L282.50,378.52 L283.00,379.00 L283.50,379.36 L284.00,379.92 L284.50,380.31 L285.00,380.56 L285.50,380.92 L286.00,381.35 L286.50,381.74 L287.00,382.10 L287.50,382.41 L288.00,382.70 L288.50,383.04 L289.00,383.41 L289.50,383.61 L290.00,383.74 L290.50,383.78 L291.00,383.96 L291.50,384.00 L292.00,383.93 L292.50,384.08 L293.00,384.41 L293.50,384.49 L294.00,384.37 L294.50,384.33 L295.00,384.35 L295.50,384.36 L296.00,384.41 L296.50,384.39 L297.00,384.31 L297.50,384.29 L298.00,384.32 L298.50,384.36 L299.00,384.41 L299.50,384.41 L300.00,384.37 L300.50,384.22 L301.00,384.03 L301.50,383.99 L302.00,384.10 L302.50,384.12 L303.00,384.06 L303.50,384.04 L304.00,384.04 L304.50,383.99 L305.00,383.90 L305.50,383.71 L306.00,383.61 L306.50,383.39 L307.00,383.06 L307.50,382.61 L308.00,382.05 L308.50,381.74 L309.00,381.68 L309.50,381.55 L310.00,381.38 L310.50,379.62 L311.00,377.79 L311.50,375.88 L312.00,373.88 L312.50,372.90 L313.00,372.34 L313.50,371.10 L314.00,369.24 L314.50,370.37 L315.00,371.97 L315.50,371.86 L316.00,371.76 L316.50,371.38 L317.00,370.51 L317.50,371.29 L318.00,373.23 L318.50,373.43 L319.00,374.15 L319.50,375.32 L320.00,376.79 L320.50,378.70 L321.00,380.76 L321.50,380.03 L322.00,379.12 L322.50,378.39 L323.00,377.81 L323.50,377.16 L324.00,377.17 L324.50,376.50 L325.00,375.41 L325.50,375.40 L326.00,376.08 L326.50,376.47 L327.00,376.70 L327.50,376.51 L328.00,376.06 L328.50,376.21 L329.00,377.59 L329.50,378.45 L330.00,378.67 L330.50,379.52 L331.00,380.50 L331.50,381.26 L332.00,373.18 L332.50,365.96 L333.00,360.62 L333.50,359.70 L334.00,356.85 L334.50,355.71 L335.00,356.80 L335.50,359.40 L336.00,362.09 L336.50,362.75 L337.00,362.80 L337.50,365.03 L338.00,368.18 L338.50,365.10 L339.00,360.56 L339.50,357.70 L340.00,356.87 L340.50,355.32 L341.00,357.75 L341.50,360.65 L342.00,363.71 L342.50,361.24 L343.00,358.26 L343.50,357.51 L344.00,362.23 L344.50,363.91 L345.00,364.39 L345.50,366.55 L346.00,369.28 L346.50,371.34 L347.00,366.49 L347.50,362.05 L348.00,357.98 L348.50,354.19 L349.00,349.91 L349.50,347.37 L350.00,348.50 L350.50,348.41 L351.00,346.78 L351.50,347.24 L352.00,348.70 L352.50,352.38 L353.00,356.85 L353.50,359.27 L354.00,358.09 L354.50,356.82 L355.00,355.50 L355.50,353.65 L356.00,351.51 L356.50,351.56 L357.00,351.77 L357.50,354.68 L358.00,358.66 L358.50,359.96 L359.00,361.47 L359.50,363.67 L360.00,366.09 L360.50,368.25 L361.00,370.32 L361.50,371.82 L362.00,373.35 L362.50,374.04 L363.00,374.55 L363.50,376.12 L364.00,377.59 L364.50,378.12 L365.00,378.45 L365.50,379.46 L366.00,380.65 L366.50,381.18 L367.00,381.74 L367.50,382.06 L368.00,382.29 L368.50,382.48 L369.00,382.66 L369.50,382.73 L370.00,382.77 L370.50,382.43 L371.00,382.29 L371.50,382.04 L372.00,381.75 L372.50,381.21 L373.00,380.53 L373.50,379.96 L374.00,377.82 L374.50,376.00 L375.00,374.44 L375.50,369.30 L376.00,363.07 L376.50,347.19 L377.00,333.49 L377.50,316.82 L378.00,300.61 L378.50,290.37 L379.00,286.04 L379.50,288.07 L380.00,289.28 L380.50,294.54 L381.00,301.28 L381.50,311.65 L382.00,322.38 L382.50,324.26 L383.00,324.14 L383.50,330.97 L384.00,339.59 L384.50,341.80 L385.00,342.76 L385.50,347.61 L386.00,353.27 L386.50,354.34 L387.00,354.87 L387.50,358.96 L388.00,363.88 L388.50,367.33 L389.00,369.11 L389.50,371.13 L390.00,373.23 L390.50,374.96 L391.00,376.75 L391.50,378.07 L392.00,379.22 L392.50,376.18 L393.00,372.54 L393.50,369.33 L394.00,365.99 L394.50,367.78 L395.00,369.80 L395.50,371.13 L396.00,372.00 L396.50,373.11 L397.00,374.29 L397.50,375.51 L398.00,376.86 L398.50,377.03 L399.00,376.94 L399.50,376.93 L400.00,377.00 L400.50,377.99 L401.00,379.15 L401.50,380.02 L402.00,380.79 L402.50,380.78 L403.00,380.66 L403.50,380.87 L404.00,381.15 L404.50,381.29 L405.00,381.40 L405.50,381.66 L406.00,381.98 L406.50,382.02 L407.00,382.00 L407.50,382.41 L408.00,382.88 L408.50,382.80 L409.00,382.62 L409.50,382.69 L410.00,382.82 L410.50,383.04 L411.00,383.27 L411.50,383.52 L412.00,383.81 L412.50,383.78 L413.00,383.68 L413.50,383.91 L414.00,384.21 L414.50,384.10 L415.00,383.90 L415.50,383.93 L416.00,384.00 L416.50,384.00 L417.00,384.01 L417.50,383.88 L418.00,383.71 L418.50,383.65 L419.00,383.60 L419.50,383.48 L420.00,383.35 L420.50,383.17 L421.00,383.03 L421.50,382.82 L422.00,382.59 L422.50,382.60 L423.00,382.68 L423.50,382.45 L424.00,381.12 L424.50,379.74 L425.00,378.30 L425.50,376.93 L426.00,375.49 L426.50,374.37 L427.00,374.59 L427.50,374.20 L428.00,373.71 L428.50,374.52 L429.00,375.54 L429.50,375.58 L430.00,375.46 L430.50,375.39 L431.00,375.34 L431.50,376.37 L432.00,377.42 L432.50,378.15 L433.00,378.88 L433.50,379.99 L434.00,380.89 L434.50,381.30 L435.00,381.75 L435.50,382.65 L436.00,383.54 L436.50,383.50 L437.00,383.43 L437.50,383.55 L438.00,383.69 L438.50,383.65 L439.00,383.58 L439.50,383.82 L440.00,384.08 L440.50,384.03 L441.00,383.94 L441.50,383.82 L442.00,383.73 L442.50,383.52 L443.00,383.30 L443.50,383.04 L444.00,382.76 L444.50,382.80 L445.00,382.90 L445.50,382.80 L446.00,382.67 L446.50,382.48 L447.00,382.28 L447.50,382.28 L448.00,382.28 L448.50,382.68 L449.00,383.08 L449.50,383.05 L450.00,383.00 L450.50,383.19 L451.00,383.41 L451.50,383.49 L452.00,383.55 L452.50,383.56 L453.00,383.57 L453.50,383.38 L454.00,383.18 L454.50,383.14 L455.00,383.12 L455.50,383.00 L456.00,382.86 L456.50,382.69 L457.00,382.51 L457.50,381.42 L458.00,380.36 L458.50,379.79 L459.00,379.45 L459.50,378.17 L460.00,376.68 L460.50,375.64 L461.00,374.95 L461.50,374.05 L462.00,373.10 L462.50,372.15 L463.00,371.16 L463.50,371.18 L464.00,372.99 L464.50,374.39 L465.00,375.73 L465.50,377.16 L466.00,378.52 L466.50,379.03 L467.00,379.57 L467.50,380.24 L468.00,380.94 L468.50,381.72 L469.00,379.84 L469.50,378.54 L470.00,377.53 L470.50,375.75 L471.00,373.82 L471.50,372.01 L472.00,372.93 L472.50,373.71 L473.00,374.57 L473.50,376.32 L474.00,377.64 L474.50,378.67 L475.00,379.64 L475.50,380.45 L476.00,381.24 L476.50,381.49 L477.00,381.74 L477.50,382.08 L478.00,382.42 L478.50,382.55 L479.00,382.70 L479.50,383.00 L480.00,383.31 L480.50,383.42 L481.00,383.52 L481.50,383.56 L482.00,383.60 L482.50,383.80 L483.00,383.99 L483.50,384.01 L484.00,382.24 L484.50,380.67 L485.00,379.19 L485.50,377.53 L486.00,375.83 L486.50,373.77 L487.00,373.19 L487.50,375.16 L488.00,377.02 L488.50,378.40 L489.00,379.66 L489.50,380.05 L490.00,379.32 L490.50,377.88 L491.00,376.50 L491.50,374.01 L492.00,366.62 L492.50,352.89 L493.00,339.68 L493.50,323.59 L494.00,319.17 L494.50,316.93 L495.00,316.78 L495.50,324.61 L496.00,331.86 L496.50,331.61 L497.00,331.68 L497.50,334.20 L498.00,336.83 L498.50,343.39 L499.00,349.36 L499.50,350.51 L500.00,352.43 L500.50,355.76 L501.00,359.08 L501.50,353.01 L502.00,346.94 L502.50,330.63 L503.00,323.70 L503.50,324.92 L504.00,333.22 L504.50,334.15 L505.00,335.51 L505.50,338.41 L506.00,341.34 L506.50,343.85 L507.00,346.63 L507.50,352.44 L508.00,358.32 L508.50,360.10 L509.00,355.80 L509.50,354.49 L510.00,354.19 L510.50,354.90 L511.00,359.34 L511.50,359.78 L512.00,360.77 L512.50,364.75 L513.00,368.41 L513.50,370.89 L514.00,372.20 L514.50,374.18 L515.00,376.04 L515.50,376.63 L516.00,377.34 L516.50,378.66 L517.00,379.90 L517.50,380.39 L518.00,380.84 L518.50,380.99 L519.00,381.20 L519.50,381.71 L520.00,382.19 L520.50,382.65 L521.00,383.07 L521.50,382.77 L522.00,382.47 L522.50,382.54 L523.00,382.60 L523.50,382.51 L524.00,382.42 L524.50,382.28 L525.00,382.16 L525.50,381.13 L526.00,380.15 L526.50,378.78 L527.00,377.28 L527.50,375.46 L528.00,373.67 L528.50,373.71 L529.00,375.98 L529.50,376.93 L530.00,378.03 L530.50,379.30 L531.00,380.45 L531.50,381.29 L532.00,382.14 L532.50,381.84 L533.00,381.58 L533.50,381.67 L534.00,381.77 L534.50,381.98 L535.00,382.16 L535.50,382.07 L536.00,382.01 L536.50,382.31 L537.00,382.58 L537.50,382.76 L538.00,382.93 L538.50,383.12 L539.00,383.31 L539.50,383.48 L540.00,383.64 L540.50,382.43 L541.00,381.14 L541.50,379.93 L542.00,378.71 L542.50,377.01 L543.00,375.34 L543.50,373.90 L544.00,371.92 L544.50,370.32 L545.00,368.69 L545.50,365.92 L546.00,363.20 L546.50,361.97 L547.00,360.51 L547.50,359.81 L548.00,359.50 L548.50,360.83 L549.00,362.08 L549.50,363.15 L550.00,364.37 L550.50,366.34 L551.00,368.25 L551.50,370.26 L552.00,371.79 L552.50,369.26 L553.00,366.77 L553.50,365.52 L554.00,364.58 L554.50,365.83 L555.00,366.69 L555.50,364.84 L556.00,364.17 L556.50,363.90 L557.00,364.05 L557.50,366.18 L558.00,363.73 L558.50,357.55 L559.00,351.55 L559.50,348.66 L560.00,346.18 L560.50,342.49 L561.00,339.97 L561.50,332.69 L562.00,329.79 L562.50,335.73 L563.00,341.35 L563.50,348.05 L564.00,353.87 L564.50,357.51 L565.00,361.30 L565.50,367.75 L566.00,372.69 L566.50,369.18 L567.00,366.02 L567.50,366.16 L568.00,366.05 L568.50,363.54 L569.00,361.19 L569.50,360.08 L570.00,359.82 L570.50,359.48 L571.00,359.24 L571.50,359.30 L572.00,359.74 L572.50,361.74 L573.00,363.11 L573.50,362.26 L574.00,361.91 L574.50,365.22 L575.00,368.26 L575.50,370.84 L576.00,373.26 L576.50,375.39 L577.00,377.68 L577.50,377.47 L578.00,377.22 L578.50,376.71 L579.00,376.07 L579.50,374.97 L580.00,374.04 L580.50,374.00 L581.00,373.57 L581.50,372.11 L582.00,370.78 L582.50,370.22 L583.00,369.80 L583.50,369.78 L584.00,369.76 L584.50,369.52 L585.00,367.00 L585.50,363.17 L586.00,359.13 L586.50,351.74 L587.00,344.33 L587.50,336.13 L588.00,328.37 L588.50,323.32 L589.00,323.20 L589.50,324.89 L590.00,329.43 L590.50,338.77 L591.00,346.02 L591.50,349.14 L592.00,350.59 L592.50,351.32 L593.00,352.11 L593.50,352.29 L594.00,353.76 L594.50,358.03 L595.00,354.49 L595.50,351.20 L596.00,344.94 L596.50,335.00 L597.00,314.23 L597.50,295.14 L598.00,274.68 L598.50,275.86 L599.00,292.41 L599.50,309.54 L600.00,316.89 L600.50,322.24 L601.00,326.06 L601.50,327.44 L602.00,329.38 L602.50,330.58 L603.00,331.38 L603.50,331.10 L604.00,331.29 L604.50,332.22 L605.00,334.69 L605.50,340.83 L606.00,346.07 L606.50,348.63 L607.00,351.15 L607.50,354.27 L608.00,357.68 L608.50,360.00 L609.00,362.08 L609.50,363.66 L610.00,365.73 L610.50,368.22 L611.00,370.18 L611.50,371.67 L612.00,372.96 L612.50,373.90 L613.00,375.21 L613.50,374.97 L614.00,374.73 L614.50,374.38 L615.00,374.03 L615.50,373.58 L616.00,373.00 L616.50,372.05 L617.00,371.15 L617.50,370.61 L618.00,370.21 L618.50,370.19 L619.00,369.52 L619.50,367.28 L620.00,365.80 L620.50,365.72 L621.00,365.67 L621.50,365.71 L622.00,365.73 L622.50,366.31 L623.00,366.94 L623.50,367.66 L624.00,368.06 L624.50,368.00 L625.00,367.49 L625.50,366.09 L626.00,366.27 L626.50,369.38 L627.00,371.07 L627.50,370.19 L628.00,369.73 L628.50,369.86 L629.00,370.23 L629.50,371.02 L630.00,371.76 L630.50,372.43 L631.00,373.26 L631.50,374.10 L632.00,375.39 L632.50,377.31 L633.00,378.46 L633.50,378.99 L634.00,379.70 L634.50,376.64 L635.00,373.87 L635.50,372.23 L636.00,367.40 L636.50,361.62 L637.00,357.21 L637.50,352.08 L638.00,348.11 L638.50,345.00 L639.00,344.77 L639.50,347.78 L640.00,351.27 L640.50,354.93 L641.00,358.69 L641.50,362.65 L642.00,366.10 L642.50,368.29 L643.00,370.03 L643.50,371.20 L644.00,372.75 L644.50,374.73 L645.00,373.90 L645.50,373.57 L646.00,372.87 L646.50,371.81 L647.00,370.88 L647.50,372.10 L648.00,373.26 L648.50,374.37 L649.00,375.69 L649.50,377.51 L650.00,378.80 L650.50,379.21 L651.00,379.65 L651.50,380.51 L652.00,381.13 L652.50,381.47 L653.00,381.86 L653.50,382.14 L654.00,382.21 L654.50,382.20 L655.00,382.20 L655.50,382.20 L656.00,382.43 L656.50,382.81 L657.00,383.04 L657.50,383.07 L658.00,383.09 L658.50,383.10 L659.00,383.22 L659.50,383.49 L660.00,383.59 L660.50,383.45 L661.00,383.37 L661.50,383.42 L662.00,383.30 L662.50,382.87 L663.00,382.55 L663.50,382.43 L664.00,382.34 L664.50,382.31 L665.00,381.94 L665.50,381.63 L666.00,381.10 L666.50,380.13 L667.00,379.42 L667.50,378.67 L668.00,377.87 L668.50,376.90 L669.00,376.53 L669.50,376.03 L670.00,375.94 L670.50,378.13 L671.00,379.61 L671.50,380.07 L672.00,380.81 L672.50,380.97 L673.00,381.23 L673.50,381.59 L674.00,381.92 L674.50,382.15 L675.00,382.42 L675.50,382.75 L676.00,382.93 L676.50,382.96 L677.00,382.97 L677.50,383.10 L678.00,383.22 L678.50,383.32 L679.00,383.44 L679.50,383.57 L680.00,383.40 L680.50,383.12 L681.00,382.88 L681.50,382.68 L682.00,382.55 L682.50,382.50 L683.00,382.38 L683.50,382.00 L684.00,381.61 L684.50,381.23 L685.00,380.84 L685.50,380.47 L686.00,380.12 L686.50,379.96 L687.00,379.75 L687.50,379.45 L688.00,379.13 L688.50,379.42 L689.00,379.64 L689.50,379.79 L690.00,379.94 L690.50,380.08 L691.00,380.25 L691.50,380.44 L692.00,380.79 L692.50,380.53 L693.00,380.12 L693.50,379.50 L694.00,379.06 L694.50,378.53 L695.00,377.56 L695.50,375.97 L696.00,376.01 L696.50,377.70 L697.00,378.96 L697.50,379.93 L698.00,380.80 L698.50,381.80 L699.00,382.65 L699.50,382.76 L700.00,382.92 L700.50,383.12 L701.00,383.18 L701.50,383.13 L702.00,383.26 L702.50,383.38 L703.00,383.46 L703.50,383.51 L704.00,383.56 L704.50,383.63 L705.00,383.65 L705.50,383.62 L706.00,383.55 L706.50,383.52 L707.00,383.50 L707.50,383.49 L708.00,383.65 L708.50,383.96 L709.00,384.12 L709.50,384.15 L710.00,382.52 L710.50,380.80 L711.00,379.14 L711.50,376.85 L712.00,374.76 L712.50,374.97 L713.00,374.56 L713.50,373.50 L714.00,372.63 L714.50,371.95 L715.00,373.26 L715.50,375.11 L716.00,375.96 L716.50,376.14 L717.00,376.40 L717.50,376.85 L718.00,377.46 L718.50,378.17 L719.00,379.05 L719.50,380.04 L720.00,380.09 L720.50,379.79 L721.00,379.99 L721.50,380.55 L722.00,381.05 L722.50,381.50 L723.00,381.65 L723.50,381.60 L724.00,381.89 L724.50,382.18 L725.00,382.16 L725.50,381.87 L726.00,381.92 L726.50,382.22 L727.00,382.19 L727.50,381.90 L728.00,381.89 L728.50,382.28 L729.00,382.42 L729.50,382.42 L730.00,382.57 L730.50,382.83 L731.00,383.07 L731.50,383.31 L732.00,383.54 L732.50,383.78 L733.00,383.95 L733.50,383.91 L734.00,384.02 L734.50,384.24 L735.00,384.26 L735.50,384.14 L736.00,384.11 L736.50,384.14 L737.00,384.17 L737.50,384.18 L738.00,384.20 L738.50,384.21 L739.00,384.14 L739.50,384.00 L740.00,384.09 L740.50,384.32 L741.00,384.41 L741.50,384.40 L742.00,384.44 L742.50,384.43 L743.00,384.36 L743.50,384.25 L744.00,384.30 L744.50,384.48 L745.00,384.39 L745.50,384.13 L746.00,384.09 L746.50,384.21 L747.00,384.29 L747.50,384.37 L748.00,384.33 L748.50,384.22 L749.00,384.11 L749.50,383.40 L750.00,382.68 L750.50,381.97 L751.00,381.29 L751.50,380.67 L752.00,379.91 L752.50,378.55 L753.00,377.43 L753.50,376.54 L754.00,375.53 L754.50,376.41 L755.00,377.69 L755.50,379.10 L756.00,379.64 L756.50,379.88 L757.00,380.54 L757.50,381.39 L758.00,382.42 L758.50,383.13 L759.00,383.46 L759.50,383.76 L760.00,383.95 L760.50,384.08 L761.00,384.10 L761.50,384.10 L762.00,384.33 L762.50,384.65 L763.00,384.87 L763.50,385.05 L764.00,385.24 L764.50,385.15 L765.00,385.02 L765.50,384.87 L766.00,384.78 L766.50,384.73 L767.00,384.67 L767.50,384.59 L768.00,380.86 L768.50,378.22 L769.00,376.54 L769.50,376.28 L770.00,376.10 L770.50,375.98 L771.00,376.36 L771.50,376.97 L772.00,377.38 L772.50,377.60 L773.00,378.16 L773.50,378.86 L774.00,379.42 L774.50,378.59 L775.00,377.74 L775.50,376.89 L776.00,375.81 L776.50,374.76 L777.00,375.60 L777.50,376.38 L778.00,377.53 L778.50,375.95 L779.00,374.57 L779.50,373.46 L780.00,371.90 L780.50,371.46 L781.00,372.78 L781.50,374.22 L782.00,375.48 L782.50,376.72 L783.00,378.19 L783.50,379.70 L784.00,380.24 L784.50,380.74 L785.00,381.50 L785.50,382.30 L786.00,382.70 L786.50,382.81 L787.00,383.03 L787.50,383.29 L788.00,383.78 L788.50,384.29 L789.00,384.53 L789.50,383.70 L790.00,383.03 L790.50,382.51 L791.00,381.97 L791.50,380.99 L792.00,380.22 L792.50,379.62 L793.00,378.24 L793.50,376.36 L794.00,375.56 L794.50,375.34 L795.00,374.49 L795.50,372.91 L796.00,370.62 L796.50,368.12 L797.00,366.78 L797.50,367.80 L798.00,369.73 L798.50,371.37 L799.00,373.34 L799.50,375.47 L800.00,377.29 L800.50,377.74 L801.00,378.31 L801.50,378.94 L802.00,379.66 L802.50,380.36 L803.00,381.02 L803.50,381.68 L804.00,376.80 L804.50,372.21 L805.00,366.88 L805.50,360.95 L806.00,359.96 L806.50,363.30 L807.00,364.52 L807.50,365.07 L808.00,368.02 L808.50,371.39 L809.00,373.25 L809.50,375.02 L810.00,375.71 L810.50,376.15 L811.00,376.17 L811.50,376.19 L812.00,375.68 L812.50,375.79 L813.00,374.85 L813.50,373.40 L814.00,371.91 L814.50,372.82 L815.00,374.54 L815.50,376.37 L816.00,377.16 L816.50,377.93 L817.00,379.17 L817.50,380.56 L818.00,381.42 L818.50,381.49 L819.00,381.00 L819.50,380.31 L820.00,380.19 L820.50,380.28 L821.00,380.14 L821.50,379.92 L822.00,379.44 L822.50,378.88 L823.00,379.04 L823.50,379.76 L824.00,380.61 L824.50,381.46 L825.00,382.01 L825.50,382.50 L826.00,383.35 L826.50,384.17 L827.00,384.22 L827.50,384.23 L828.00,384.28 L828.50,384.35 L829.00,384.31 L829.50,384.25 L830.00,384.28 L830.50,384.34 L831.00,384.40 L831.50,384.46 L832.00,384.60 L832.50,384.75 L833.00,384.76 L833.50,384.75 L834.00,384.78 L834.50,384.66 L835.00,384.64 L835.50,384.65 L836.00,384.54 L836.50,384.41 L837.00,384.23 L837.50,384.03 L838.00,383.91 L838.50,383.80 L839.00,383.72 L839.50,383.19 L840.00,382.61 L840.50,382.01 L841.00,381.46 L841.50,380.93 L842.00,380.40 L842.50,380.01 L843.00,379.63 L843.50,379.27 L844.00,379.02 L844.50,379.37 L845.00,379.44 L845.50,379.46 L846.00,379.64 L846.50,379.90 L847.00,379.64 L847.50,379.32 L848.00,380.13 L848.50,381.28 L849.00,382.11 L849.50,382.89 L850.00,383.65 L850.50,383.70 L851.00,383.04 L851.50,382.36 L852.00,381.72 L852.50,381.09 L853.00,380.07 L853.50,378.97 L854.00,378.14 L854.50,378.97 L855.00,379.50 L855.50,380.02 L856.00,380.95 L856.50,381.76 L857.00,382.21 L857.50,382.65 L858.00,381.00 L858.50,377.10 L859.00,374.01 L859.50,372.01 L860.00,368.57 L860.50,366.35 L861.00,366.54 L861.50,366.84 L862.00,367.51 L862.50,367.72 L863.00,367.68 L863.50,367.61 L864.00,368.27 L864.50,370.27 L865.00,369.86 L865.50,369.74 L866.00,372.60 L866.50,375.45 L867.00,375.34 L867.50,375.17 L868.00,374.15 L868.50,373.01 L869.00,373.58 L869.50,374.40 L870.00,373.01 L870.50,370.85 L871.00,369.67 L871.50,368.69 L872.00,367.36 L872.50,366.13 L873.00,365.49 L873.50,366.56 L874.00,369.33 L874.50,371.96 L875.00,374.31 L875.50,376.62 L876.00,377.71 L876.50,379.22 L877.00,380.33 L877.50,381.43 L878.00,382.19 L878.50,382.85 L879.00,383.24 L879.50,383.69 L880.00,384.44 L880.50,384.40 L881.00,384.22 L881.50,384.04 L882.00,383.87 L882.50,383.71 L883.00,383.53 L883.50,383.45 L884.00,383.46 L884.50,383.48 L885.00,383.37 L885.50,383.26 L886.00,383.01 L886.50,382.74 L887.00,382.95 L887.50,383.17 L888.00,383.66 L888.50,384.12 L889.00,384.18 L889.50,383.97 L890.00,383.63 L890.50,383.27 L891.00,383.14 L891.50,383.02 L892.00,383.31 L892.50,383.60 L893.00,383.75 L893.50,383.93 L894.00,384.37 L894.50,384.77 L895.00,384.89 L895.50,384.87 L896.00,384.80 L896.50,384.74 L897.00,384.62 L897.50,384.49 L898.00,384.41 L898.50,384.32 L899.00,384.18 L899.50,384.04 L900.00,384.01 L900.50,383.99 L901.00,383.92 L901.50,383.85 L902.00,383.66 L902.50,383.45 L903.00,383.40 L903.50,383.36 L904.00,383.40 L904.50,383.35 L905.00,382.89 L905.50,382.39 L906.00,382.19 L906.50,381.99 L907.00,381.30 L907.50,380.61 L908.00,380.21 L908.50,380.12 L909.00,379.71 L909.50,386.00" fill="none" stroke="#b03068" stroke-width="0.7" stroke-opacity="0.55" stroke-linejoin="round"/>
<text x="72" y="383" font-size="10.5" font-weight="normal" text-anchor="start" fill="#000" textLength="35.8" lengthAdjust="spacingAndGlyphs" stroke="#000" stroke-width="0.4" opacity="0.3">Source:</text>
<text x="113.6" y="383" font-size="10.5" font-weight="normal" text-anchor="start" fill="#000" textLength="89.8" lengthAdjust="spacingAndGlyphs" stroke="#000" stroke-width="0.4" opacity="0.3">checkonchain.com,</text>
<text x="208.6" y="383" font-size="10.5" font-weight="normal" text-anchor="start" fill="#000" textLength="95.4" lengthAdjust="spacingAndGlyphs" stroke="#000" stroke-width="0.4" opacity="0.3">ResearchBitcoin.net</text>
<rect x="68" y="385.9" width="865.5" height="1.9" fill="#2a2226"/>
<path d="M67.50,251.12 L67.77,248.86 L68.03,248.79 L68.30,248.32 L68.56,247.54 L68.83,249.68 L69.10,250.96 L69.36,252.25 L69.63,254.96 L69.89,255.43 L70.16,256.23 L70.43,258.02 L70.69,257.85 L70.96,256.99 L71.22,256.76 L71.49,256.51 L71.76,257.24 L72.02,256.35 L72.29,255.80 L72.55,255.13 L72.82,255.92 L73.09,254.14 L73.35,253.57 L73.62,253.44 L73.88,251.35 L74.15,250.94 L74.42,251.67 L74.68,251.55 L74.95,252.96 L75.21,251.66 L75.48,251.56 L75.75,251.71 L76.01,250.61 L76.28,251.74 L76.54,251.09 L76.81,252.56 L77.08,252.88 L77.34,253.65 L77.61,252.26 L77.87,250.62 L78.14,250.68 L78.41,249.79 L78.67,249.73 L78.94,249.06 L79.20,249.46 L79.47,250.64 L79.74,251.89 L80.00,251.37 L80.27,249.34 L80.53,248.91 L80.80,249.13 L81.07,247.38 L81.33,246.98 L81.60,246.68 L81.86,246.27 L82.13,246.04 L82.40,245.86 L82.66,246.60 L82.93,245.76 L83.19,245.41 L83.46,244.02 L83.72,243.89 L83.99,245.74 L84.26,245.61 L84.52,244.02 L84.79,244.12 L85.05,244.63 L85.32,245.39 L85.59,246.03 L85.85,246.71 L86.12,248.31 L86.38,247.75 L86.65,248.63 L86.92,249.19 L87.18,248.68 L87.45,248.11 L87.71,248.93 L87.98,249.31 L88.25,249.37 L88.51,250.17 L88.78,252.26 L89.04,252.38 L89.31,252.31 L89.58,252.62 L89.84,252.83 L90.11,252.66 L90.37,252.80 L90.64,252.70 L90.91,251.32 L91.17,249.74 L91.44,248.87 L91.70,248.17 L91.97,247.51 L92.24,247.42 L92.50,247.37 L92.77,247.81 L93.03,247.74 L93.30,245.81 L93.57,245.00 L93.83,245.16 L94.10,245.44 L94.36,246.03 L94.63,245.62 L94.90,245.20 L95.16,246.26 L95.43,245.75 L95.69,246.11 L95.96,244.84 L96.23,244.61 L96.49,243.11 L96.76,243.38 L97.02,243.50 L97.29,243.15 L97.56,242.19 L97.82,241.62 L98.09,242.51 L98.35,242.26 L98.62,242.13 L98.89,242.37 L99.15,242.79 L99.42,241.27 L99.68,240.85 L99.95,240.57 L100.22,239.09 L100.48,238.02 L100.75,237.12 L101.01,235.53 L101.28,234.17 L101.55,232.92 L101.81,231.17 L102.08,229.98 L102.34,229.52 L102.61,228.85 L102.88,228.31 L103.14,227.17 L103.41,227.08 L103.67,227.60 L103.94,226.57 L104.21,226.69 L104.47,227.31 L104.74,226.04 L105.00,225.65 L105.27,224.29 L105.54,223.76 L105.80,223.70 L106.07,226.60 L106.33,228.09 L106.60,229.39 L106.87,229.43 L107.13,229.01 L107.40,229.61 L107.66,228.95 L107.93,229.76 L108.20,229.27 L108.46,228.06 L108.73,226.54 L108.99,224.51 L109.26,225.12 L109.53,223.86 L109.79,222.24 L110.06,220.81 L110.32,220.91 L110.59,219.94 L110.86,218.76 L111.12,220.31 L111.39,220.25 L111.65,219.69 L111.92,220.59 L112.19,220.45 L112.45,221.65 L112.72,222.64 L112.98,223.64 L113.25,223.81 L113.51,224.22 L113.78,223.78 L114.05,224.88 L114.31,225.32 L114.58,224.87 L114.84,224.20 L115.11,225.22 L115.38,224.64 L115.64,224.97 L115.91,224.61 L116.17,224.32 L116.44,223.28 L116.71,223.13 L116.97,225.40 L117.24,227.13 L117.50,227.16 L117.77,227.99 L118.04,227.69 L118.30,228.08 L118.57,229.31 L118.83,229.06 L119.10,230.33 L119.37,232.61 L119.63,231.56 L119.90,232.48 L120.16,231.11 L120.43,229.49 L120.70,228.52 L120.96,229.03 L121.23,227.35 L121.49,227.66 L121.76,227.90 L122.03,227.33 L122.29,225.84 L122.56,224.74 L122.82,223.23 L123.09,222.74 L123.36,222.02 L123.62,222.09 L123.89,221.49 L124.15,220.08 L124.42,219.41 L124.69,218.13 L124.95,217.68 L125.22,217.26 L125.48,216.32 L125.75,215.58 L126.02,214.19 L126.28,213.14 L126.55,210.83 L126.81,210.10 L127.08,209.38 L127.35,209.32 L127.61,208.40 L127.88,207.62 L128.14,208.12 L128.41,208.05 L128.68,207.37 L128.94,207.37 L129.21,207.68 L129.47,206.79 L129.74,206.61 L130.01,206.19 L130.27,205.14 L130.54,204.11 L130.80,204.28 L131.07,204.60 L131.34,204.27 L131.60,204.27 L131.87,205.71 L132.13,204.57 L132.40,205.42 L132.67,205.63 L132.93,207.39 L133.20,207.15 L133.46,208.44 L133.73,209.34 L134.00,211.28 L134.26,212.22 L134.53,213.22 L134.79,214.18 L135.06,214.63 L135.33,215.39 L135.59,215.41 L135.86,216.60 L136.12,216.85 L136.39,216.51 L136.66,215.64 L136.92,214.27 L137.19,213.25 L137.45,214.32 L137.72,213.66 L137.99,212.12 L138.25,211.71 L138.52,211.76 L138.78,211.15 L139.05,211.20 L139.32,210.33 L139.58,209.98 L139.85,208.49 L140.11,207.73 L140.38,207.77 L140.65,206.42 L140.91,204.80 L141.18,204.40 L141.44,203.88 L141.71,204.89 L141.98,203.29 L142.24,202.91 L142.51,203.76 L142.77,204.33 L143.04,203.65 L143.30,202.18 L143.57,201.39 L143.84,200.14 L144.10,200.72 L144.37,201.49 L144.63,200.47 L144.90,199.76 L145.17,199.48 L145.43,198.13 L145.70,198.60 L145.96,198.63 L146.23,197.49 L146.50,195.69 L146.76,195.38 L147.03,193.71 L147.29,193.89 L147.56,193.32 L147.83,193.15 L148.09,194.13 L148.36,193.61 L148.62,192.55 L148.89,192.36 L149.16,192.11 L149.42,190.67 L149.69,191.37 L149.95,192.28 L150.22,192.50 L150.49,195.06 L150.75,195.46 L151.02,196.70 L151.28,198.89 L151.55,198.51 L151.82,195.25 L152.08,194.80 L152.35,194.48 L152.61,193.29 L152.88,191.83 L153.15,190.71 L153.41,190.50 L153.68,190.50 L153.94,189.07 L154.21,188.17 L154.48,188.56 L154.74,186.67 L155.01,185.10 L155.27,184.35 L155.54,183.62 L155.81,182.49 L156.07,182.10 L156.34,182.25 L156.60,180.10 L156.87,179.29 L157.14,177.00 L157.40,176.19 L157.67,174.30 L157.93,172.43 L158.20,169.01 L158.47,169.33 L158.73,169.66 L159.00,169.36 L159.26,169.45 L159.53,169.11 L159.80,167.95 L160.06,166.51 L160.33,164.34 L160.59,164.12 L160.86,164.01 L161.13,164.84 L161.39,167.45 L161.66,171.74 L161.92,174.25 L162.19,173.40 L162.46,173.83 L162.72,172.34 L162.99,171.07 L163.25,170.28 L163.52,171.83 L163.79,173.54 L164.05,176.45 L164.32,175.05 L164.58,173.91 L164.85,172.88 L165.12,171.15 L165.38,169.06 L165.65,167.84 L165.91,167.97 L166.18,168.64 L166.45,171.15 L166.71,172.27 L166.98,172.05 L167.24,173.29 L167.51,175.47 L167.78,177.87 L168.04,178.14 L168.31,179.37 L168.57,180.15 L168.84,180.62 L169.11,180.52 L169.37,180.23 L169.64,180.46 L169.90,182.42 L170.17,183.11 L170.44,182.62 L170.70,182.23 L170.97,181.36 L171.23,180.93 L171.50,180.26 L171.77,179.08 L172.03,181.52 L172.30,183.60 L172.56,186.75 L172.83,187.81 L173.09,189.62 L173.36,191.08 L173.63,191.68 L173.89,192.65 L174.16,194.55 L174.42,192.84 L174.69,192.87 L174.96,191.39 L175.22,190.15 L175.49,190.33 L175.75,188.12 L176.02,187.56 L176.29,185.87 L176.55,185.08 L176.82,183.15 L177.08,180.96 L177.35,180.50 L177.62,180.61 L177.88,179.59 L178.15,178.92 L178.41,178.71 L178.68,178.70 L178.95,177.79 L179.21,179.52 L179.48,179.55 L179.74,180.16 L180.01,179.41 L180.28,179.49 L180.54,179.89 L180.81,179.66 L181.07,180.34 L181.34,179.84 L181.61,181.19 L181.87,182.27 L182.14,183.62 L182.40,183.66 L182.67,184.52 L182.94,184.87 L183.20,185.25 L183.47,186.68 L183.73,186.99 L184.00,187.48 L184.27,188.00 L184.53,189.10 L184.80,190.22 L185.06,188.43 L185.33,186.38 L185.60,186.77 L185.86,187.08 L186.13,187.85 L186.39,187.68 L186.66,187.80 L186.93,187.41 L187.19,190.14 L187.46,191.10 L187.72,192.37 L187.99,192.93 L188.26,193.99 L188.52,194.98 L188.79,194.02 L189.05,192.00 L189.32,193.80 L189.59,193.56 L189.85,192.82 L190.12,192.33 L190.38,192.13 L190.65,192.74 L190.92,193.01 L191.18,191.94 L191.45,190.58 L191.71,190.23 L191.98,190.60 L192.25,190.21 L192.51,190.10 L192.78,189.35 L193.04,188.94 L193.31,189.14 L193.58,188.67 L193.84,189.32 L194.11,188.34 L194.37,187.08 L194.64,187.72 L194.91,187.07 L195.17,187.57 L195.44,186.39 L195.70,185.35 L195.97,185.23 L196.24,184.11 L196.50,184.15 L196.77,184.36 L197.03,184.51 L197.30,184.32 L197.57,184.27 L197.83,184.52 L198.10,185.26 L198.36,184.88 L198.63,184.29 L198.90,184.93 L199.16,186.32 L199.43,185.98 L199.69,185.29 L199.96,185.67 L200.23,186.95 L200.49,186.97 L200.76,185.97 L201.02,187.73 L201.29,187.58 L201.56,188.07 L201.82,189.00 L202.09,188.84 L202.35,190.13 L202.62,190.13 L202.88,189.30 L203.15,189.40 L203.42,190.35 L203.68,192.03 L203.95,193.30 L204.21,194.54 L204.48,192.42 L204.75,191.79 L205.01,191.82 L205.28,192.04 L205.54,192.08 L205.81,191.53 L206.08,192.88 L206.34,191.78 L206.61,192.65 L206.87,193.54 L207.14,193.55 L207.41,192.64 L207.67,191.82 L207.94,192.48 L208.20,192.53 L208.47,192.67 L208.74,192.50 L209.00,192.55 L209.27,193.57 L209.53,194.85 L209.80,194.97 L210.07,196.19 L210.33,195.34 L210.60,195.57 L210.86,196.66 L211.13,197.18 L211.40,197.85 L211.66,198.21 L211.93,197.71 L212.19,199.13 L212.46,200.25 L212.73,199.55 L212.99,199.28 L213.26,198.73 L213.52,197.95 L213.79,197.67 L214.06,196.61 L214.32,196.91 L214.59,196.44 L214.85,196.69 L215.12,197.19 L215.39,196.27 L215.65,195.39 L215.92,196.54 L216.18,197.03 L216.45,196.37 L216.72,195.09 L216.98,195.21 L217.25,194.94 L217.51,195.66 L217.78,193.21 L218.05,192.41 L218.31,191.26 L218.58,190.31 L218.84,189.14 L219.11,189.07 L219.38,190.14 L219.64,190.34 L219.91,191.07 L220.17,190.82 L220.44,192.21 L220.71,193.45 L220.97,193.71 L221.24,193.47 L221.50,194.15 L221.77,195.52 L222.04,196.42 L222.30,197.62 L222.57,196.88 L222.83,196.95 L223.10,196.72 L223.37,197.28 L223.63,198.52 L223.90,198.37 L224.16,197.83 L224.43,198.16 L224.70,197.92 L224.96,196.82 L225.23,196.90 L225.49,196.06 L225.76,196.42 L226.03,196.98 L226.29,196.30 L226.56,195.81 L226.82,194.04 L227.09,194.05 L227.36,193.81 L227.62,194.51 L227.89,195.80 L228.15,197.02 L228.42,196.43 L228.69,197.16 L228.95,196.03 L229.22,194.66 L229.48,194.67 L229.75,193.10 L230.02,192.70 L230.28,192.74 L230.55,194.18 L230.81,194.66 L231.08,196.69 L231.35,197.45 L231.61,197.78 L231.88,197.89 L232.14,197.38 L232.41,197.25 L232.67,197.31 L232.94,196.72 L233.21,196.08 L233.47,197.20 L233.74,196.75 L234.00,196.22 L234.27,196.83 L234.54,196.52 L234.80,197.59 L235.07,196.43 L235.33,196.63 L235.60,196.70 L235.87,195.73 L236.13,195.85 L236.40,195.37 L236.66,196.22 L236.93,196.69 L237.20,197.82 L237.46,197.99 L237.73,197.16 L237.99,196.98 L238.26,196.27 L238.53,197.11 L238.79,197.82 L239.06,198.20 L239.32,197.75 L239.59,197.46 L239.86,197.48 L240.12,196.98 L240.39,197.10 L240.65,197.12 L240.92,196.07 L241.19,196.58 L241.45,196.29 L241.72,194.85 L241.98,194.62 L242.25,193.91 L242.52,194.26 L242.78,192.54 L243.05,194.22 L243.31,195.00 L243.58,195.71 L243.85,194.26 L244.11,193.83 L244.38,193.91 L244.64,194.80 L244.91,194.37 L245.18,194.14 L245.44,194.56 L245.71,195.63 L245.97,196.38 L246.24,196.06 L246.51,195.67 L246.77,195.47 L247.04,195.46 L247.30,196.75 L247.57,196.57 L247.84,197.26 L248.10,197.09 L248.37,196.57 L248.63,196.98 L248.90,199.25 L249.17,199.52 L249.43,200.31 L249.70,201.89 L249.96,205.39 L250.23,206.50 L250.50,207.07 L250.76,207.15 L251.03,208.73 L251.29,210.28 L251.56,211.67 L251.83,212.02 L252.09,212.83 L252.36,212.33 L252.62,212.50 L252.89,211.69 L253.16,212.37 L253.42,211.47 L253.69,211.29 L253.95,210.89 L254.22,210.97 L254.49,210.85 L254.75,213.02 L255.02,213.01 L255.28,213.36 L255.55,214.40 L255.82,214.06 L256.08,214.71 L256.35,214.46 L256.61,215.74 L256.88,217.24 L257.15,217.05 L257.41,214.53 L257.68,213.34 L257.94,211.93 L258.21,211.63 L258.48,212.02 L258.74,211.52 L259.01,209.62 L259.27,210.44 L259.54,210.15 L259.81,211.94 L260.07,211.78 L260.34,211.01 L260.60,211.95 L260.87,212.21 L261.14,211.08 L261.40,211.08 L261.67,212.02 L261.93,213.19 L262.20,214.78 L262.46,214.13 L262.73,214.70 L263.00,213.81 L263.26,213.08 L263.53,213.58 L263.79,213.98 L264.06,213.31 L264.33,213.16 L264.59,212.91 L264.86,214.21 L265.12,213.45 L265.39,214.13 L265.66,215.93 L265.92,216.40 L266.19,216.02 L266.45,214.29 L266.72,214.56 L266.99,215.61 L267.25,213.86 L267.52,213.69 L267.78,213.87 L268.05,214.71 L268.32,215.49 L268.58,214.26 L268.85,214.45 L269.11,214.85 L269.38,215.30 L269.65,214.34 L269.91,215.13 L270.18,214.93 L270.44,215.02 L270.71,215.13 L270.98,216.15 L271.24,215.92 L271.51,214.93 L271.77,215.28 L272.04,215.72 L272.31,216.37 L272.57,215.82 L272.84,215.65 L273.10,215.34 L273.37,214.93 L273.64,215.73 L273.90,214.70 L274.17,214.11 L274.43,213.78 L274.70,213.19 L274.97,212.05 L275.23,211.61 L275.50,211.90 L275.76,210.56 L276.03,210.52 L276.30,211.33 L276.56,212.04 L276.83,211.48 L277.09,211.77 L277.36,211.64 L277.63,211.21 L277.89,211.14 L278.16,210.28 L278.42,209.98 L278.69,210.27 L278.96,210.49 L279.22,210.86 L279.49,210.29 L279.75,210.23 L280.02,210.51 L280.29,209.79 L280.55,209.66 L280.82,210.00 L281.08,211.18 L281.35,210.78 L281.62,210.54 L281.88,210.46 L282.15,210.76 L282.41,211.39 L282.68,211.53 L282.95,211.30 L283.21,211.36 L283.48,211.43 L283.74,211.77 L284.01,211.45 L284.28,211.21 L284.54,211.78 L284.81,211.12 L285.07,210.44 L285.34,209.73 L285.61,209.79 L285.87,207.04 L286.14,203.98 L286.40,203.29 L286.67,204.96 L286.94,205.21 L287.20,205.43 L287.47,204.67 L287.73,204.61 L288.00,205.33 L288.27,206.42 L288.53,206.95 L288.80,206.81 L289.06,206.70 L289.33,206.80 L289.60,207.29 L289.86,207.40 L290.13,206.53 L290.39,207.36 L290.66,207.27 L290.93,205.90 L291.19,205.39 L291.46,205.70 L291.72,205.10 L291.99,205.65 L292.25,205.58 L292.52,204.27 L292.79,202.67 L293.05,203.99 L293.32,203.37 L293.58,201.73 L293.85,201.35 L294.12,200.51 L294.38,198.66 L294.65,198.44 L294.91,197.44 L295.18,196.87 L295.45,197.80 L295.71,196.89 L295.98,196.41 L296.24,195.04 L296.51,192.72 L296.78,191.54 L297.04,191.21 L297.31,190.22 L297.57,189.95 L297.84,188.70 L298.11,189.45 L298.37,189.97 L298.64,191.21 L298.90,190.30 L299.17,189.90 L299.44,190.00 L299.70,190.17 L299.97,190.21 L300.23,190.54 L300.50,190.38 L300.77,190.37 L301.03,188.82 L301.30,188.14 L301.56,188.39 L301.83,188.44 L302.10,187.75 L302.36,187.77 L302.63,187.92 L302.89,187.72 L303.16,186.82 L303.43,188.19 L303.69,189.18 L303.96,190.97 L304.22,190.96 L304.49,190.34 L304.76,189.94 L305.02,189.61 L305.29,188.10 L305.55,187.27 L305.82,186.75 L306.09,184.79 L306.35,184.69 L306.62,184.76 L306.88,181.71 L307.15,181.06 L307.42,180.56 L307.68,180.20 L307.95,179.36 L308.21,177.78 L308.48,176.22 L308.75,176.88 L309.01,178.47 L309.28,181.04 L309.54,182.18 L309.81,182.31 L310.08,182.81 L310.34,182.24 L310.61,180.72 L310.87,180.17 L311.14,179.34 L311.41,179.47 L311.67,178.86 L311.94,177.88 L312.20,177.14 L312.47,177.67 L312.74,177.47 L313.00,177.73 L313.27,179.30 L313.53,181.21 L313.80,183.07 L314.07,185.18 L314.33,184.82 L314.60,184.46 L314.86,184.29 L315.13,184.12 L315.40,183.97 L315.66,184.05 L315.93,184.63 L316.19,183.22 L316.46,182.35 L316.73,183.06 L316.99,183.77 L317.26,184.23 L317.52,184.18 L317.79,183.14 L318.06,182.29 L318.32,181.41 L318.59,180.51 L318.85,179.59 L319.12,178.97 L319.39,178.59 L319.65,178.97 L319.92,180.91 L320.18,181.54 L320.45,180.62 L320.72,181.58 L320.98,182.62 L321.25,182.32 L321.51,182.79 L321.78,183.71 L322.04,182.98 L322.31,183.00 L322.58,182.92 L322.84,183.91 L323.11,184.03 L323.37,184.26 L323.64,184.16 L323.91,183.76 L324.17,183.38 L324.44,183.77 L324.70,183.74 L324.97,185.20 L325.24,185.21 L325.50,185.18 L325.77,185.13 L326.03,185.08 L326.30,184.45 L326.57,184.75 L326.83,183.80 L327.10,182.88 L327.36,182.97 L327.63,182.25 L327.90,181.75 L328.16,181.71 L328.43,181.71 L328.69,182.65 L328.96,183.75 L329.23,184.88 L329.49,185.22 L329.76,184.14 L330.02,183.82 L330.29,183.36 L330.56,183.08 L330.82,185.21 L331.09,186.19 L331.35,187.36 L331.62,187.17 L331.89,186.62 L332.15,187.98 L332.42,188.77 L332.68,189.14 L332.95,189.65 L333.22,190.18 L333.48,190.75 L333.75,190.06 L334.01,190.82 L334.28,189.92 L334.55,189.88 L334.81,189.29 L335.08,188.07 L335.34,188.63 L335.61,189.32 L335.88,189.00 L336.14,189.85 L336.41,190.47 L336.67,190.59 L336.94,190.48 L337.21,191.51 L337.47,191.85 L337.74,191.40 L338.00,190.34 L338.27,191.95 L338.54,190.91 L338.80,190.23 L339.07,191.13 L339.33,192.34 L339.60,192.02 L339.87,192.39 L340.13,192.30 L340.40,189.23 L340.66,187.42 L340.93,185.18 L341.20,185.10 L341.46,184.61 L341.73,183.41 L341.99,182.27 L342.26,182.30 L342.53,182.71 L342.79,181.03 L343.06,180.74 L343.32,180.62 L343.59,181.73 L343.86,181.33 L344.12,182.18 L344.39,182.77 L344.65,184.07 L344.92,184.72 L345.19,184.89 L345.45,186.33 L345.72,187.27 L345.98,187.56 L346.25,188.80 L346.52,190.04 L346.78,190.93 L347.05,192.29 L347.31,192.02 L347.58,193.05 L347.85,192.65 L348.11,192.13 L348.38,193.32 L348.64,193.52 L348.91,194.13 L349.18,195.10 L349.44,195.24 L349.71,195.31 L349.97,194.61 L350.24,193.65 L350.51,194.41 L350.77,194.61 L351.04,194.05 L351.30,192.98 L351.57,194.82 L351.83,193.66 L352.10,193.67 L352.37,192.30 L352.63,192.52 L352.90,193.06 L353.16,192.89 L353.43,191.82 L353.70,191.67 L353.96,193.45 L354.23,192.77 L354.49,193.94 L354.76,194.60 L355.03,195.41 L355.29,196.74 L355.56,197.49 L355.82,198.03 L356.09,198.26 L356.36,198.04 L356.62,198.05 L356.89,198.98 L357.15,198.87 L357.42,197.82 L357.69,196.79 L357.95,196.42 L358.22,195.65 L358.48,194.67 L358.75,193.30 L359.02,191.58 L359.28,191.67 L359.55,191.71 L359.81,190.34 L360.08,188.90 L360.35,187.47 L360.61,189.19 L360.88,189.19 L361.14,191.65 L361.41,190.88 L361.68,190.66 L361.94,190.44 L362.21,190.37 L362.47,189.14 L362.74,189.20 L363.01,188.19 L363.27,187.56 L363.54,187.09 L363.80,186.55 L364.07,186.40 L364.34,187.22 L364.60,186.57 L364.87,185.93 L365.13,185.99 L365.40,185.33 L365.67,184.54 L365.93,185.52 L366.20,185.57 L366.46,185.86 L366.73,186.53 L367.00,186.21 L367.26,186.83 L367.53,187.12 L367.79,186.86 L368.06,186.51 L368.33,186.19 L368.59,184.32 L368.86,184.66 L369.12,184.40 L369.39,185.31 L369.66,184.86 L369.92,183.86 L370.19,182.81 L370.45,183.49 L370.72,183.76 L370.99,182.79 L371.25,182.91 L371.52,182.19 L371.78,183.02 L372.05,181.95 L372.32,181.17 L372.58,180.84 L372.85,181.54 L373.11,181.71 L373.38,181.64 L373.65,181.48 L373.91,181.61 L374.18,181.84 L374.44,181.73 L374.71,180.65 L374.98,182.32 L375.24,183.48 L375.51,184.78 L375.77,185.38 L376.04,186.84 L376.31,186.44 L376.57,188.44 L376.84,190.58 L377.10,195.70 L377.37,200.00 L377.64,204.28 L377.90,203.13 L378.17,202.27 L378.43,200.30 L378.70,200.05 L378.97,197.60 L379.23,198.64 L379.50,197.68 L379.76,197.21 L380.03,196.50 L380.30,197.96 L380.56,196.74 L380.83,198.25 L381.09,196.87 L381.36,196.77 L381.62,197.01 L381.89,196.91 L382.16,195.40 L382.42,194.94 L382.69,197.00 L382.95,196.30 L383.22,195.79 L383.49,196.79 L383.75,195.86 L384.02,196.52 L384.28,196.06 L384.55,195.56 L384.82,195.77 L385.08,194.93 L385.35,195.44 L385.61,194.98 L385.88,195.10 L386.15,194.94 L386.41,193.07 L386.68,192.66 L386.94,193.23 L387.21,193.01 L387.48,193.32 L387.74,192.98 L388.01,192.54 L388.27,192.15 L388.54,191.77 L388.81,191.90 L389.07,191.22 L389.34,190.05 L389.60,190.24 L389.87,189.97 L390.14,189.61 L390.40,188.28 L390.67,187.09 L390.93,187.29 L391.20,186.63 L391.47,187.24 L391.73,187.42 L392.00,186.81 L392.26,185.70 L392.53,184.32 L392.80,183.97 L393.06,186.96 L393.33,187.76 L393.59,187.75 L393.86,187.58 L394.13,187.62 L394.39,187.22 L394.66,186.86 L394.92,186.34 L395.19,186.89 L395.46,186.25 L395.72,186.83 L395.99,186.93 L396.25,185.60 L396.52,185.48 L396.79,186.60 L397.05,185.56 L397.32,184.92 L397.58,184.17 L397.85,184.18 L398.12,184.07 L398.38,184.43 L398.65,185.17 L398.91,184.10 L399.18,184.57 L399.45,185.01 L399.71,185.44 L399.98,184.00 L400.24,183.36 L400.51,183.73 L400.78,183.84 L401.04,183.50 L401.31,182.86 L401.57,184.23 L401.84,183.57 L402.11,183.81 L402.37,184.44 L402.64,184.83 L402.90,184.25 L403.17,182.90 L403.44,182.85 L403.70,182.47 L403.97,183.20 L404.23,182.87 L404.50,182.28 L404.77,183.55 L405.03,184.04 L405.30,183.47 L405.56,184.96 L405.83,185.33 L406.10,184.92 L406.36,186.36 L406.63,186.75 L406.89,186.77 L407.16,186.12 L407.43,187.16 L407.69,186.17 L407.96,185.84 L408.22,184.78 L408.49,183.75 L408.76,183.39 L409.02,182.90 L409.29,184.22 L409.55,185.23 L409.82,185.95 L410.09,186.15 L410.35,185.30 L410.62,186.66 L410.88,186.83 L411.15,187.81 L411.41,188.98 L411.68,187.70 L411.95,187.53 L412.21,186.12 L412.48,184.42 L412.74,184.36 L413.01,185.06 L413.28,182.59 L413.54,182.12 L413.81,182.25 L414.07,180.89 L414.34,180.62 L414.61,180.96 L414.87,181.03 L415.14,180.70 L415.40,180.43 L415.67,179.62 L415.94,179.70 L416.20,179.77 L416.47,179.08 L416.73,178.62 L417.00,177.53 L417.27,177.53 L417.53,177.40 L417.80,178.13 L418.06,176.71 L418.33,177.63 L418.60,177.27 L418.86,177.78 L419.13,177.30 L419.39,176.50 L419.66,177.62 L419.93,178.08 L420.19,179.81 L420.46,178.99 L420.72,179.66 L420.99,181.26 L421.26,182.14 L421.52,181.39 L421.79,180.50 L422.05,179.79 L422.32,180.74 L422.59,181.18 L422.85,180.17 L423.12,181.08 L423.38,181.66 L423.65,182.75 L423.92,184.01 L424.18,183.34 L424.45,183.15 L424.71,183.10 L424.98,182.58 L425.25,181.65 L425.51,180.33 L425.78,180.23 L426.04,180.41 L426.31,181.14 L426.58,180.16 L426.84,180.48 L427.11,181.59 L427.37,181.70 L427.64,181.58 L427.91,180.81 L428.17,179.90 L428.44,180.39 L428.70,180.93 L428.97,181.10 L429.24,181.98 L429.50,181.97 L429.77,181.49 L430.03,181.36 L430.30,182.57 L430.57,183.43 L430.83,182.29 L431.10,183.01 L431.36,182.31 L431.63,181.70 L431.90,181.69 L432.16,181.86 L432.43,181.06 L432.69,181.15 L432.96,180.66 L433.23,179.94 L433.49,179.89 L433.76,179.44 L434.02,179.06 L434.29,179.43 L434.56,178.95 L434.82,178.84 L435.09,179.68 L435.35,179.33 L435.62,178.93 L435.89,178.78 L436.15,179.82 L436.42,178.56 L436.68,177.38 L436.95,176.22 L437.22,175.60 L437.48,176.15 L437.75,175.59 L438.01,175.87 L438.28,173.64 L438.55,173.59 L438.81,172.59 L439.08,173.38 L439.34,173.86 L439.61,173.83 L439.88,172.80 L440.14,171.89 L440.41,171.19 L440.67,172.23 L440.94,170.84 L441.20,171.27 L441.47,169.96 L441.74,168.44 L442.00,167.76 L442.27,166.95 L442.53,167.97 L442.80,165.87 L443.07,165.69 L443.33,164.87 L443.60,165.56 L443.86,165.60 L444.13,166.55 L444.40,166.74 L444.66,166.72 L444.93,166.51 L445.19,165.37 L445.46,164.97 L445.73,164.77 L445.99,164.73 L446.26,164.18 L446.52,166.79 L446.79,167.97 L447.06,169.22 L447.32,169.45 L447.59,168.64 L447.85,168.29 L448.12,165.38 L448.39,162.82 L448.65,163.57 L448.92,163.96 L449.18,163.59 L449.45,161.71 L449.72,160.31 L449.98,159.57 L450.25,160.24 L450.51,160.44 L450.78,162.14 L451.05,162.90 L451.31,162.08 L451.58,160.96 L451.84,161.53 L452.11,160.86 L452.38,159.41 L452.64,159.14 L452.91,159.26 L453.17,158.63 L453.44,158.06 L453.71,157.86 L453.97,158.16 L454.24,158.37 L454.50,158.16 L454.77,158.47 L455.04,157.26 L455.30,156.40 L455.57,155.38 L455.83,153.61 L456.10,152.19 L456.37,149.69 L456.63,148.27 L456.90,147.30 L457.16,144.32 L457.43,143.75 L457.70,143.13 L457.96,142.71 L458.23,143.96 L458.49,145.72 L458.76,146.99 L459.03,145.99 L459.29,145.55 L459.56,143.45 L459.82,143.24 L460.09,143.75 L460.36,144.40 L460.62,144.48 L460.89,143.86 L461.15,144.45 L461.42,146.14 L461.69,147.14 L461.95,147.81 L462.22,149.81 L462.48,149.73 L462.75,150.89 L463.02,151.02 L463.28,149.86 L463.55,149.38 L463.81,147.34 L464.08,147.07 L464.35,146.89 L464.61,145.93 L464.88,144.53 L465.14,143.81 L465.41,143.88 L465.68,142.60 L465.94,141.39 L466.21,138.98 L466.47,138.66 L466.74,137.74 L467.01,137.46 L467.27,137.92 L467.54,137.11 L467.80,135.68 L468.07,135.76 L468.34,135.56 L468.60,135.77 L468.87,133.94 L469.13,133.70 L469.40,132.49 L469.67,132.45 L469.93,133.39 L470.20,134.29 L470.46,136.59 L470.73,136.92 L471.00,136.88 L471.26,138.96 L471.53,139.50 L471.79,139.17 L472.06,139.15 L472.32,138.45 L472.59,139.12 L472.86,138.02 L473.12,136.17 L473.39,136.29 L473.65,135.45 L473.92,133.39 L474.19,132.40 L474.45,131.92 L474.72,131.76 L474.98,130.72 L475.25,131.21 L475.52,130.87 L475.78,132.28 L476.05,131.57 L476.31,132.07 L476.58,131.72 L476.85,132.48 L477.11,133.70 L477.38,134.33 L477.64,135.27 L477.91,135.75 L478.18,135.39 L478.44,134.23 L478.71,133.68 L478.97,133.73 L479.24,133.71 L479.51,132.84 L479.77,131.54 L480.04,131.41 L480.30,131.13 L480.57,131.35 L480.84,130.80 L481.10,129.64 L481.37,131.61 L481.63,131.01 L481.90,131.07 L482.17,132.57 L482.43,131.93 L482.70,131.62 L482.96,130.94 L483.23,131.66 L483.50,129.54 L483.76,130.14 L484.03,131.47 L484.29,131.28 L484.56,131.80 L484.83,132.17 L485.09,132.27 L485.36,135.00 L485.62,134.69 L485.89,136.02 L486.16,136.83 L486.42,137.13 L486.69,137.31 L486.95,136.72 L487.22,135.78 L487.49,135.48 L487.75,134.75 L488.02,135.72 L488.28,136.36 L488.55,136.96 L488.82,136.33 L489.08,132.97 L489.35,132.43 L489.61,132.22 L489.88,131.94 L490.15,132.30 L490.41,133.29 L490.68,135.79 L490.94,136.54 L491.21,137.82 L491.48,137.94 L491.74,140.33 L492.01,142.37 L492.27,142.66 L492.54,144.90 L492.81,145.36 L493.07,145.60 L493.34,146.29 L493.60,146.81 L493.87,147.41 L494.14,146.72 L494.40,147.15 L494.67,147.27 L494.93,145.00 L495.20,144.18 L495.47,143.79 L495.73,143.57 L496.00,144.26 L496.26,144.18 L496.53,144.48 L496.80,143.82 L497.06,145.54 L497.33,148.29 L497.59,149.58 L497.86,149.86 L498.13,148.71 L498.39,147.05 L498.66,146.48 L498.92,145.30 L499.19,144.72 L499.46,143.51 L499.72,142.88 L499.99,142.86 L500.25,143.52 L500.52,144.72 L500.79,146.23 L501.05,147.32 L501.32,147.04 L501.58,148.31 L501.85,149.98 L502.11,149.00 L502.38,150.06 L502.65,149.19 L502.91,149.55 L503.18,149.95 L503.44,149.60 L503.71,147.98 L503.98,148.32 L504.24,147.28 L504.51,146.72 L504.77,147.58 L505.04,146.57 L505.31,147.56 L505.57,148.65 L505.84,149.19 L506.10,149.67 L506.37,149.09 L506.64,149.58 L506.90,148.27 L507.17,147.98 L507.43,148.46 L507.70,149.04 L507.97,148.75 L508.23,150.29 L508.50,151.95 L508.76,152.56 L509.03,151.95 L509.30,151.70 L509.56,150.87 L509.83,150.06 L510.09,150.83 L510.36,150.11 L510.63,150.56 L510.89,148.90 L511.16,147.92 L511.42,147.00 L511.69,145.69 L511.96,144.44 L512.22,143.27 L512.49,142.00 L512.75,142.24 L513.02,143.31 L513.29,143.01 L513.55,141.83 L513.82,141.00 L514.08,141.15 L514.35,140.64 L514.62,140.98 L514.88,140.66 L515.15,141.13 L515.41,141.01 L515.68,139.37 L515.95,138.73 L516.21,137.50 L516.48,138.11 L516.74,138.65 L517.01,138.67 L517.28,138.20 L517.54,138.36 L517.81,137.52 L518.07,137.95 L518.34,136.84 L518.61,135.93 L518.87,136.59 L519.14,135.87 L519.40,135.81 L519.67,134.75 L519.94,134.94 L520.20,134.45 L520.47,133.76 L520.73,135.75 L521.00,137.03 L521.27,136.68 L521.53,136.55 L521.80,135.48 L522.06,135.06 L522.33,138.67 L522.60,139.97 L522.86,139.47 L523.13,139.83 L523.39,139.78 L523.66,139.94 L523.93,139.42 L524.19,140.33 L524.46,140.99 L524.72,142.55 L524.99,140.57 L525.26,141.14 L525.52,141.60 L525.79,142.29 L526.05,142.57 L526.32,142.34 L526.59,141.18 L526.85,140.38 L527.12,139.46 L527.38,139.28 L527.65,138.69 L527.92,137.05 L528.18,136.41 L528.45,135.50 L528.71,136.49 L528.98,135.42 L529.25,134.55 L529.51,132.85 L529.78,134.42 L530.04,133.75 L530.31,133.47 L530.58,132.79 L530.84,132.68 L531.11,131.90 L531.37,130.72 L531.64,130.07 L531.90,129.70 L532.17,129.26 L532.44,128.96 L532.70,128.32 L532.97,128.29 L533.23,129.30 L533.50,127.59 L533.77,128.41 L534.03,129.03 L534.30,129.93 L534.56,130.01 L534.83,130.63 L535.10,130.52 L535.36,131.04 L535.63,131.94 L535.89,131.39 L536.16,130.05 L536.43,129.51 L536.69,129.16 L536.96,129.75 L537.22,129.56 L537.49,128.94 L537.76,129.21 L538.02,128.23 L538.29,128.00 L538.55,127.46 L538.82,127.61 L539.09,127.75 L539.35,128.16 L539.62,128.26 L539.88,128.39 L540.15,129.62 L540.42,130.63 L540.68,131.06 L540.95,132.98 L541.21,132.54 L541.48,132.70 L541.75,132.89 L542.01,133.72 L542.28,133.32 L542.54,133.80 L542.81,132.52 L543.08,132.46 L543.34,133.93 L543.61,133.60 L543.87,134.29 L544.14,135.16 L544.41,135.73 L544.67,136.22 L544.94,136.39 L545.20,136.15 L545.47,136.17 L545.74,137.13 L546.00,138.22 L546.27,138.77 L546.53,138.37 L546.80,137.56 L547.07,136.00 L547.33,136.99 L547.60,136.82 L547.86,136.90 L548.13,137.12 L548.40,136.91 L548.66,137.01 L548.93,137.12 L549.19,137.54 L549.46,137.12 L549.73,136.16 L549.99,134.74 L550.26,135.06 L550.52,135.81 L550.79,135.92 L551.06,136.50 L551.32,135.56 L551.59,136.12 L551.85,135.96 L552.12,137.58 L552.39,138.19 L552.65,138.37 L552.92,137.46 L553.18,138.35 L553.45,138.48 L553.72,140.11 L553.98,141.03 L554.25,141.64 L554.51,141.99 L554.78,141.59 L555.05,141.02 L555.31,142.27 L555.58,141.79 L555.84,143.17 L556.11,142.26 L556.38,142.58 L556.64,143.04 L556.91,143.75 L557.17,144.36 L557.44,144.93 L557.71,146.06 L557.97,146.04 L558.24,146.39 L558.50,146.36 L558.77,146.99 L559.04,146.12 L559.30,146.50 L559.57,143.38 L559.83,143.71 L560.10,143.84 L560.37,142.82 L560.63,141.59 L560.90,142.00 L561.16,143.11 L561.43,144.00 L561.69,144.57 L561.96,144.97 L562.23,144.87 L562.49,143.80 L562.76,142.69 L563.02,142.95 L563.29,142.27 L563.56,141.33 L563.82,139.95 L564.09,140.49 L564.35,141.64 L564.62,141.57 L564.89,140.89 L565.15,141.85 L565.42,140.82 L565.68,139.97 L565.95,140.72 L566.22,142.53 L566.48,143.56 L566.75,144.39 L567.01,144.50 L567.28,146.39 L567.55,144.97 L567.81,142.19 L568.08,141.83 L568.34,142.39 L568.61,141.58 L568.88,140.29 L569.14,139.61 L569.41,139.41 L569.67,139.95 L569.94,141.92 L570.21,141.89 L570.47,141.58 L570.74,142.21 L571.00,142.37 L571.27,142.59 L571.54,143.16 L571.80,144.48 L572.07,144.58 L572.33,145.35 L572.60,143.35 L572.87,143.21 L573.13,141.94 L573.40,141.67 L573.66,140.49 L573.93,139.80 L574.20,138.50 L574.46,138.27 L574.73,138.73 L574.99,138.09 L575.26,137.51 L575.53,137.86 L575.79,137.55 L576.06,138.04 L576.32,138.25 L576.59,138.87 L576.86,139.18 L577.12,137.39 L577.39,137.58 L577.65,137.60 L577.92,137.41 L578.19,137.85 L578.45,138.64 L578.72,138.25 L578.98,137.74 L579.25,140.42 L579.52,140.87 L579.78,141.47 L580.05,142.24 L580.31,141.56 L580.58,142.31 L580.85,141.93 L581.11,142.69 L581.38,143.35 L581.64,143.08 L581.91,143.89 L582.18,144.09 L582.44,145.04 L582.71,145.82 L582.97,145.30 L583.24,144.88 L583.51,145.87 L583.77,146.89 L584.04,144.89 L584.30,145.48 L584.57,146.24 L584.84,145.89 L585.10,146.58 L585.37,146.94 L585.63,146.28 L585.90,145.54 L586.17,145.76 L586.43,145.70 L586.70,146.96 L586.96,148.31 L587.23,149.46 L587.50,150.86 L587.76,151.58 L588.03,152.50 L588.29,153.11 L588.56,153.18 L588.83,153.84 L589.09,154.52 L589.36,154.85 L589.62,154.24 L589.89,154.24 L590.16,153.43 L590.42,152.38 L590.69,152.62 L590.95,153.33 L591.22,154.18 L591.48,154.17 L591.75,153.69 L592.02,152.62 L592.28,153.90 L592.55,153.36 L592.81,152.71 L593.08,150.96 L593.35,151.02 L593.61,151.85 L593.88,153.46 L594.14,154.47 L594.41,155.74 L594.68,156.94 L594.94,158.05 L595.21,159.67 L595.47,160.12 L595.74,160.19 L596.01,159.95 L596.27,160.41 L596.54,159.93 L596.80,160.11 L597.07,161.72 L597.34,162.32 L597.60,163.71 L597.87,164.88 L598.13,164.69 L598.40,165.03 L598.67,164.08 L598.93,162.65 L599.20,162.55 L599.46,162.93 L599.73,163.28 L600.00,163.52 L600.26,163.29 L600.53,164.12 L600.79,163.87 L601.06,164.30 L601.33,163.67 L601.59,162.36 L601.86,160.37 L602.12,159.91 L602.39,160.42 L602.66,161.20 L602.92,160.85 L603.19,161.41 L603.45,162.16 L603.72,161.85 L603.99,162.06 L604.25,160.92 L604.52,158.76 L604.78,158.36 L605.05,157.52 L605.32,158.20 L605.58,157.47 L605.85,157.44 L606.11,157.74 L606.38,158.66 L606.65,157.90 L606.91,159.60 L607.18,160.97 L607.44,161.36 L607.71,161.52 L607.98,161.67 L608.24,161.40 L608.51,161.71 L608.77,160.67 L609.04,160.10 L609.31,160.86 L609.57,159.15 L609.84,159.01 L610.10,157.83 L610.37,158.59 L610.64,159.14 L610.90,159.18 L611.17,159.33 L611.43,158.09 L611.70,158.98 L611.97,158.43 L612.23,158.83 L612.50,158.00 L612.76,157.41 L613.03,157.43 L613.30,156.37 L613.56,157.42 L613.83,157.54 L614.09,159.63 L614.36,160.73 L614.63,161.67 L614.89,161.78 L615.16,162.37 L615.42,163.34 L615.69,166.15 L615.96,166.91 L616.22,167.96 L616.49,168.47 L616.75,168.08 L617.02,166.58 L617.29,166.45 L617.55,165.93 L617.82,165.72 L618.08,165.43 L618.35,165.25 L618.62,165.76 L618.88,166.32 L619.15,166.35 L619.41,165.19 L619.68,163.72 L619.95,161.93 L620.21,162.49 L620.48,161.78 L620.74,160.97 L621.01,160.06 L621.27,161.42 L621.54,162.94 L621.81,164.70 L622.07,165.06 L622.34,163.19 L622.60,163.05 L622.87,164.06 L623.14,163.82 L623.40,164.10 L623.67,163.99 L623.93,164.39 L624.20,165.47 L624.47,165.93 L624.73,165.38 L625.00,165.16 L625.26,164.20 L625.53,165.09 L625.80,164.27 L626.06,164.24 L626.33,164.34 L626.59,163.58 L626.86,163.94 L627.13,163.98 L627.39,163.71 L627.66,163.43 L627.92,163.01 L628.19,162.21 L628.46,162.02 L628.72,162.61 L628.99,160.87 L629.25,161.13 L629.52,161.06 L629.79,161.89 L630.05,163.89 L630.32,164.75 L630.58,164.93 L630.85,164.73 L631.12,164.48 L631.38,163.67 L631.65,162.71 L631.91,161.75 L632.18,161.58 L632.45,161.35 L632.71,161.36 L632.98,161.90 L633.24,160.58 L633.51,161.42 L633.78,161.32 L634.04,160.97 L634.31,162.53 L634.57,161.76 L634.84,161.88 L635.11,161.53 L635.37,163.91 L635.64,166.88 L635.90,168.45 L636.17,170.10 L636.44,169.27 L636.70,169.28 L636.97,171.03 L637.23,170.53 L637.50,170.28 L637.77,170.05 L638.03,170.04 L638.30,171.00 L638.56,170.96 L638.83,171.64 L639.10,169.70 L639.36,170.28 L639.63,170.99 L639.89,171.10 L640.16,169.76 L640.43,170.05 L640.69,171.85 L640.96,170.49 L641.22,170.05 L641.49,170.28 L641.76,169.53 L642.02,170.11 L642.29,170.88 L642.55,169.94 L642.82,170.19 L643.09,169.58 L643.35,169.40 L643.62,168.55 L643.88,168.29 L644.15,169.78 L644.42,169.05 L644.68,169.27 L644.95,168.38 L645.21,168.12 L645.48,166.79 L645.75,167.29 L646.01,168.76 L646.28,168.83 L646.54,168.22 L646.81,168.30 L647.08,168.49 L647.34,167.29 L647.61,167.17 L647.87,166.09 L648.14,165.73 L648.41,166.67 L648.67,167.19 L648.94,167.21 L649.20,166.73 L649.47,167.15 L649.74,168.06 L650.00,168.65 L650.27,168.84 L650.53,169.19 L650.80,169.24 L651.06,167.32 L651.33,166.68 L651.60,166.92 L651.86,166.51 L652.13,164.82 L652.39,163.88 L652.66,163.55 L652.93,164.23 L653.19,165.19 L653.46,164.71 L653.72,163.62 L653.99,163.41 L654.26,163.03 L654.52,161.90 L654.79,162.03 L655.05,161.87 L655.32,160.75 L655.59,159.29 L655.85,159.00 L656.12,158.53 L656.38,157.72 L656.65,157.30 L656.92,157.56 L657.18,156.43 L657.45,155.56 L657.71,155.12 L657.98,155.68 L658.25,155.55 L658.51,156.84 L658.78,157.13 L659.04,158.65 L659.31,158.98 L659.58,158.49 L659.84,158.57 L660.11,157.74 L660.37,157.83 L660.64,157.86 L660.91,158.13 L661.17,157.91 L661.44,158.02 L661.70,157.42 L661.97,156.59 L662.24,156.46 L662.50,157.20 L662.77,157.12 L663.03,156.83 L663.30,156.95 L663.57,157.27 L663.83,157.21 L664.10,156.94 L664.36,158.93 L664.63,158.54 L664.90,158.59 L665.16,158.80 L665.43,159.60 L665.69,159.96 L665.96,160.10 L666.23,161.43 L666.49,161.49 L666.76,161.93 L667.02,161.58 L667.29,161.68 L667.56,162.26 L667.82,162.72 L668.09,162.83 L668.35,163.23 L668.62,162.07 L668.89,161.34 L669.15,160.91 L669.42,160.09 L669.68,159.77 L669.95,159.07 L670.22,157.72 L670.48,157.51 L670.75,157.07 L671.01,155.50 L671.28,154.66 L671.55,153.52 L671.81,154.09 L672.08,154.46 L672.34,154.41 L672.61,153.26 L672.88,152.78 L673.14,153.51 L673.41,153.03 L673.67,152.28 L673.94,151.66 L674.21,152.14 L674.47,151.95 L674.74,150.51 L675.00,150.82 L675.27,150.41 L675.54,150.61 L675.80,151.12 L676.07,151.14 L676.33,150.33 L676.60,149.44 L676.87,149.72 L677.13,149.77 L677.40,150.05 L677.66,151.02 L677.93,150.96 L678.20,150.73 L678.46,150.52 L678.73,151.45 L678.99,151.34 L679.26,151.37 L679.53,152.22 L679.79,152.88 L680.06,153.75 L680.32,154.27 L680.59,153.04 L680.85,153.29 L681.12,153.70 L681.39,152.93 L681.65,152.62 L681.92,153.42 L682.18,153.73 L682.45,153.92 L682.72,153.99 L682.98,153.53 L683.25,152.68 L683.51,152.50 L683.78,152.81 L684.05,153.77 L684.31,153.72 L684.58,153.49 L684.84,154.18 L685.11,155.14 L685.38,153.95 L685.64,153.46 L685.91,154.02 L686.17,155.04 L686.44,155.26 L686.71,154.62 L686.97,154.98 L687.24,155.17 L687.50,155.50 L687.77,155.17 L688.04,154.42 L688.30,155.18 L688.57,155.39 L688.83,155.55 L689.10,155.96 L689.37,156.69 L689.63,156.26 L689.90,156.22 L690.16,155.85 L690.43,155.03 L690.70,155.28 L690.96,155.01 L691.23,155.29 L691.49,155.38 L691.76,155.23 L692.03,155.37 L692.29,156.28 L692.56,155.46 L692.82,155.41 L693.09,156.11 L693.36,157.42 L693.62,157.48 L693.89,157.15 L694.15,156.61 L694.42,155.20 L694.69,154.71 L694.95,153.63 L695.22,153.82 L695.48,153.02 L695.75,151.79 L696.02,151.44 L696.28,150.83 L696.55,150.68 L696.81,150.59 L697.08,149.71 L697.35,150.32 L697.61,149.53 L697.88,150.23 L698.14,150.59 L698.41,151.02 L698.68,151.05 L698.94,151.32 L699.21,151.02 L699.47,151.00 L699.74,149.72 L700.01,149.48 L700.27,149.60 L700.54,149.37 L700.80,149.01 L701.07,149.10 L701.34,149.72 L701.60,150.17 L701.87,150.08 L702.13,149.72 L702.40,149.56 L702.67,149.72 L702.93,149.51 L703.20,149.91 L703.46,149.88 L703.73,149.18 L704.00,148.65 L704.26,147.99 L704.53,148.32 L704.79,148.31 L705.06,149.01 L705.33,148.60 L705.59,148.96 L705.86,149.83 L706.12,150.23 L706.39,150.20 L706.66,151.59 L706.92,152.52 L707.19,152.07 L707.45,152.13 L707.72,152.27 L707.99,153.31 L708.25,152.52 L708.52,152.05 L708.78,151.76 L709.05,152.52 L709.32,152.30 L709.58,151.77 L709.85,152.07 L710.11,152.33 L710.38,152.72 L710.64,152.50 L710.91,155.14 L711.18,155.28 L711.44,155.63 L711.71,156.64 L711.97,157.76 L712.24,157.39 L712.51,156.66 L712.77,156.33 L713.04,155.69 L713.30,156.17 L713.57,156.37 L713.84,156.32 L714.10,156.59 L714.37,155.80 L714.63,156.73 L714.90,157.23 L715.17,157.60 L715.43,158.18 L715.70,157.87 L715.96,159.19 L716.23,158.71 L716.50,158.36 L716.76,158.35 L717.03,157.72 L717.29,156.54 L717.56,156.61 L717.83,156.04 L718.09,155.73 L718.36,155.35 L718.62,155.56 L718.89,155.88 L719.16,155.45 L719.42,155.66 L719.69,155.04 L719.95,154.50 L720.22,154.66 L720.49,154.37 L720.75,154.23 L721.02,154.22 L721.28,153.48 L721.55,153.37 L721.82,153.14 L722.08,154.16 L722.35,153.73 L722.61,154.46 L722.88,154.59 L723.15,153.54 L723.41,152.42 L723.68,152.55 L723.94,153.17 L724.21,152.85 L724.48,152.98 L724.74,152.69 L725.01,153.36 L725.27,152.62 L725.54,151.64 L725.81,152.37 L726.07,152.71 L726.34,153.01 L726.60,152.50 L726.87,153.52 L727.14,152.63 L727.40,151.78 L727.67,151.24 L727.93,149.85 L728.20,149.98 L728.47,149.77 L728.73,149.23 L729.00,147.84 L729.26,147.83 L729.53,148.25 L729.80,147.92 L730.06,148.14 L730.33,148.46 L730.59,148.58 L730.86,148.33 L731.13,146.73 L731.39,147.29 L731.66,147.08 L731.92,147.11 L732.19,147.20 L732.46,146.27 L732.72,145.77 L732.99,145.32 L733.25,145.52 L733.52,145.74 L733.79,145.47 L734.05,145.54 L734.32,145.77 L734.58,145.29 L734.85,145.89 L735.12,146.21 L735.38,145.66 L735.65,145.60 L735.91,145.12 L736.18,145.51 L736.45,145.01 L736.71,145.31 L736.98,144.44 L737.24,143.88 L737.51,143.51 L737.78,142.53 L738.04,142.23 L738.31,142.48 L738.57,141.49 L738.84,141.19 L739.11,140.38 L739.37,140.19 L739.64,139.42 L739.90,139.80 L740.17,140.42 L740.43,141.17 L740.70,140.83 L740.97,142.05 L741.23,143.17 L741.50,144.07 L741.76,144.03 L742.03,143.88 L742.30,144.44 L742.56,144.08 L742.83,143.99 L743.09,143.39 L743.36,142.94 L743.63,143.42 L743.89,143.40 L744.16,143.58 L744.42,143.41 L744.69,143.38 L744.96,143.45 L745.22,143.13 L745.49,143.19 L745.75,142.85 L746.02,142.92 L746.29,143.10 L746.55,142.66 L746.82,142.20 L747.08,141.58 L747.35,141.30 L747.62,141.07 L747.88,140.44 L748.15,139.84 L748.41,140.33 L748.68,140.46 L748.95,139.08 L749.21,138.60 L749.48,139.72 L749.74,139.27 L750.01,138.67 L750.28,139.67 L750.54,139.01 L750.81,139.01 L751.07,139.19 L751.34,139.94 L751.61,140.31 L751.87,140.47 L752.14,140.84 L752.40,141.86 L752.67,142.40 L752.94,142.97 L753.20,143.45 L753.47,143.60 L753.73,143.09 L754.00,142.73 L754.27,142.24 L754.53,141.77 L754.80,142.24 L755.06,141.39 L755.33,140.61 L755.60,141.03 L755.86,140.73 L756.13,140.86 L756.39,140.77 L756.66,139.85 L756.93,139.20 L757.19,137.72 L757.46,137.32 L757.72,137.61 L757.99,137.20 L758.26,138.26 L758.52,136.90 L758.79,136.41 L759.05,135.82 L759.32,135.39 L759.59,135.45 L759.85,135.01 L760.12,134.95 L760.38,134.73 L760.65,134.04 L760.92,134.22 L761.18,132.78 L761.45,132.89 L761.71,131.92 L761.98,131.79 L762.25,132.01 L762.51,131.30 L762.78,130.72 L763.04,130.46 L763.31,129.94 L763.58,129.74 L763.84,128.94 L764.11,128.67 L764.37,128.11 L764.64,126.93 L764.91,127.15 L765.17,126.93 L765.44,126.78 L765.70,126.69 L765.97,126.92 L766.24,126.55 L766.50,125.93 L766.77,125.46 L767.03,127.15 L767.30,127.34 L767.57,127.51 L767.83,128.04 L768.10,129.18 L768.36,130.24 L768.63,128.90 L768.90,127.84 L769.16,127.49 L769.43,127.93 L769.69,127.13 L769.96,126.95 L770.22,125.92 L770.49,126.16 L770.76,125.82 L771.02,125.86 L771.29,125.35 L771.55,125.63 L771.82,125.03 L772.09,125.18 L772.35,125.60 L772.62,125.20 L772.88,124.99 L773.15,126.12 L773.42,126.07 L773.68,126.27 L773.95,126.39 L774.21,125.46 L774.48,126.05 L774.75,126.29 L775.01,127.49 L775.28,128.54 L775.54,129.10 L775.81,129.40 L776.08,129.74 L776.34,129.61 L776.61,129.42 L776.87,129.08 L777.14,129.40 L777.41,129.35 L777.67,129.99 L777.94,130.01 L778.20,129.96 L778.47,130.48 L778.74,132.55 L779.00,133.15 L779.27,131.91 L779.53,132.19 L779.80,132.26 L780.07,131.81 L780.33,130.78 L780.60,130.20 L780.86,129.93 L781.13,130.27 L781.40,130.05 L781.66,130.34 L781.93,129.75 L782.19,128.50 L782.46,127.51 L782.73,127.46 L782.99,127.63 L783.26,128.04 L783.52,127.39 L783.79,126.68 L784.06,125.84 L784.32,125.26 L784.59,125.56 L784.85,126.27 L785.12,125.64 L785.39,126.06 L785.65,124.92 L785.92,126.07 L786.18,126.65 L786.45,127.13 L786.72,126.93 L786.98,126.49 L787.25,126.75 L787.51,126.36 L787.78,127.05 L788.05,127.29 L788.31,127.93 L788.58,128.20 L788.84,128.51 L789.11,128.29 L789.38,126.27 L789.64,127.34 L789.91,127.68 L790.17,127.50 L790.44,127.68 L790.71,127.09 L790.97,127.90 L791.24,127.67 L791.50,128.34 L791.77,128.09 L792.04,128.21 L792.30,128.29 L792.57,128.85 L792.83,130.13 L793.10,130.98 L793.37,130.79 L793.63,131.16 L793.90,130.96 L794.16,131.96 L794.43,131.89 L794.70,131.60 L794.96,133.16 L795.23,133.27 L795.49,132.45 L795.76,133.18 L796.03,132.90 L796.29,133.17 L796.56,132.97 L796.82,133.48 L797.09,133.66 L797.36,133.50 L797.62,133.30 L797.89,133.23 L798.15,133.33 L798.42,132.29 L798.69,132.21 L798.95,132.50 L799.22,132.63 L799.48,131.94 L799.75,132.81 L800.01,132.11 L800.28,131.30 L800.55,130.16 L800.81,130.00 L801.08,130.06 L801.34,129.55 L801.61,129.06 L801.88,127.90 L802.14,127.46 L802.41,127.29 L802.67,127.64 L802.94,127.35 L803.21,126.90 L803.47,127.28 L803.74,128.40 L804.00,128.81 L804.27,129.29 L804.54,130.91 L804.80,132.74 L805.07,134.29 L805.33,134.18 L805.60,134.51 L805.87,133.98 L806.13,133.47 L806.40,132.64 L806.66,132.35 L806.93,132.48 L807.20,132.11 L807.46,132.50 L807.73,132.29 L807.99,132.59 L808.26,131.80 L808.53,133.20 L808.79,132.58 L809.06,131.94 L809.32,131.84 L809.59,131.51 L809.86,131.26 L810.12,130.39 L810.39,129.31 L810.65,129.72 L810.92,129.05 L811.19,129.68 L811.45,129.70 L811.72,129.71 L811.98,130.70 L812.25,130.78 L812.52,131.42 L812.78,131.23 L813.05,132.00 L813.31,133.28 L813.58,134.29 L813.85,134.01 L814.11,133.61 L814.38,133.21 L814.64,133.43 L814.91,132.77 L815.18,132.87 L815.44,132.78 L815.71,132.01 L815.97,131.89 L816.24,132.75 L816.51,132.13 L816.77,131.92 L817.04,131.93 L817.30,130.98 L817.57,131.12 L817.84,130.54 L818.10,130.25 L818.37,128.55 L818.63,129.37 L818.90,129.04 L819.17,128.63 L819.43,128.18 L819.70,128.64 L819.96,129.23 L820.23,128.65 L820.50,129.12 L820.76,129.18 L821.03,129.43 L821.29,129.43 L821.56,130.42 L821.83,130.95 L822.09,131.21 L822.36,131.37 L822.62,130.96 L822.89,130.39 L823.16,129.68 L823.42,129.34 L823.69,128.24 L823.95,128.22 L824.22,127.89 L824.49,128.37 L824.75,128.60 L825.02,127.73 L825.28,127.39 L825.55,128.07 L825.82,127.72 L826.08,127.48 L826.35,127.76 L826.61,127.19 L826.88,126.97 L827.15,126.59 L827.41,125.68 L827.68,125.66 L827.94,125.28 L828.21,125.84 L828.48,126.38 L828.74,126.04 L829.01,126.22 L829.27,126.85 L829.54,127.32 L829.80,126.20 L830.07,125.77 L830.34,124.13 L830.60,122.87 L830.87,122.34 L831.13,121.62 L831.40,119.86 L831.67,119.33 L831.93,117.79 L832.20,117.98 L832.46,117.44 L832.73,118.48 L833.00,118.10 L833.26,117.98 L833.53,117.29 L833.79,116.76 L834.06,116.53 L834.33,115.36 L834.59,114.94 L834.86,115.38 L835.12,115.21 L835.39,116.89 L835.66,117.25 L835.92,116.57 L836.19,116.91 L836.45,116.86 L836.72,117.55 L836.99,117.13 L837.25,117.10 L837.52,117.13 L837.78,116.40 L838.05,115.14 L838.32,114.36 L838.58,115.03 L838.85,114.48 L839.11,114.00 L839.38,114.34 L839.65,114.94 L839.91,114.86 L840.18,114.71 L840.44,114.43 L840.71,114.53 L840.98,114.78 L841.24,114.85 L841.51,115.26 L841.77,115.28 L842.04,115.86 L842.31,117.01 L842.57,117.25 L842.84,116.99 L843.10,115.69 L843.37,117.15 L843.64,117.69 L843.90,118.43 L844.17,118.52 L844.43,118.83 L844.70,118.05 L844.97,117.59 L845.23,118.14 L845.50,118.31 L845.76,117.51 L846.03,117.13 L846.30,118.18 L846.56,117.11 L846.83,117.63 L847.09,117.58 L847.36,117.94 L847.63,118.32 L847.89,118.84 L848.16,117.98 L848.42,117.56 L848.69,117.42 L848.96,116.88 L849.22,116.02 L849.49,116.30 L849.75,114.99 L850.02,114.53 L850.29,114.34 L850.55,113.68 L850.82,113.64 L851.08,113.48 L851.35,113.87 L851.62,114.40 L851.88,115.62 L852.15,115.87 L852.41,116.33 L852.68,117.82 L852.95,117.80 L853.21,117.07 L853.48,116.98 L853.74,116.33 L854.01,116.57 L854.28,117.23 L854.54,117.27 L854.81,117.55 L855.07,118.28 L855.34,117.77 L855.61,117.75 L855.87,118.20 L856.14,118.17 L856.40,118.33 L856.67,118.06 L856.94,117.22 L857.20,117.65 L857.47,118.41 L857.73,117.70 L858.00,116.41 L858.27,116.83 L858.53,118.02 L858.80,119.14 L859.06,119.57 L859.33,119.93 L859.60,120.51 L859.86,120.45 L860.13,121.35 L860.39,120.14 L860.66,118.21 L860.92,118.07 L861.19,118.58 L861.46,118.94 L861.72,120.54 L861.99,120.89 L862.25,121.84 L862.52,122.55 L862.79,123.33 L863.05,123.32 L863.32,123.09 L863.58,123.65 L863.85,123.64 L864.12,123.44 L864.38,123.78 L864.65,123.40 L864.91,122.34 L865.18,122.30 L865.45,122.53 L865.71,122.69 L865.98,122.26 L866.24,120.93 L866.51,120.51 L866.78,120.15 L867.04,121.15 L867.31,121.24 L867.57,121.15 L867.84,121.66 L868.11,121.94 L868.37,122.59 L868.64,122.44 L868.90,121.95 L869.17,122.01 L869.44,121.99 L869.70,122.23 L869.97,122.87 L870.23,123.58 L870.50,124.09 L870.77,123.64 L871.03,123.38 L871.30,122.54 L871.56,121.85 L871.83,120.74 L872.10,120.03 L872.36,119.91 L872.63,119.59 L872.89,120.26 L873.16,119.04 L873.43,119.11 L873.69,119.08 L873.96,117.77 L874.22,118.12 L874.49,118.21 L874.76,118.10 L875.02,118.11 L875.29,117.73 L875.55,117.26 L875.82,116.57 L876.09,116.30 L876.35,115.58 L876.62,115.44 L876.88,114.76 L877.15,113.76 L877.42,114.42 L877.68,114.22 L877.95,113.79 L878.21,114.54 L878.48,115.95 L878.75,115.58 L879.01,115.73 L879.28,115.06 L879.54,114.84 L879.81,114.62 L880.08,114.60 L880.34,114.32 L880.61,114.62 L880.87,114.69 L881.14,114.02 L881.41,113.94 L881.67,113.43 L881.94,113.21 L882.20,113.18 L882.47,113.93 L882.74,113.45 L883.00,113.94 L883.27,113.73 L883.53,114.62 L883.80,114.48 L884.07,114.27 L884.33,114.64 L884.60,115.57 L884.86,115.67 L885.13,115.61 L885.40,115.92 L885.66,116.31 L885.93,115.80 L886.19,115.43 L886.46,115.16 L886.73,114.18 L886.99,113.69 L887.26,113.58 L887.52,113.30 L887.79,113.98 L888.06,113.93 L888.32,114.78 L888.59,115.07 L888.85,114.84 L889.12,115.06 L889.39,115.25 L889.65,115.46 L889.92,115.45 L890.18,115.88 L890.45,116.09 L890.71,115.99 L890.98,114.56 L891.25,114.73 L891.51,113.93 L891.78,114.16 L892.04,113.52 L892.31,112.44 L892.58,112.73 L892.84,111.40 L893.11,111.61 L893.37,111.75 L893.64,111.23 L893.91,111.52 L894.17,110.64 L894.44,110.03 L894.70,111.24 L894.97,111.71 L895.24,111.79 L895.50,111.22 L895.77,111.50 L896.03,111.58 L896.30,110.90 L896.57,111.56 L896.83,111.31 L897.10,111.99 L897.36,111.34 L897.63,110.45 L897.90,111.01 L898.16,112.27 L898.43,113.13 L898.69,112.50 L898.96,112.74 L899.23,112.07 L899.49,112.74 L899.76,113.19 L900.02,113.18 L900.29,112.49 L900.56,112.54 L900.82,113.04 L901.09,112.79 L901.35,112.66 L901.62,112.18 L901.89,111.93 L902.15,111.95 L902.42,111.59 L902.68,112.65 L902.95,112.16 L903.22,111.13 L903.48,110.47 L903.75,110.67 L904.01,111.20 L904.28,110.11 L904.55,110.06 L904.81,110.50 L905.08,110.96 L905.34,111.88 L905.61,112.45 L905.88,112.19 L906.14,113.05 L906.41,112.56 L906.67,112.93 L906.94,113.33 L907.21,113.38 L907.47,113.45 L907.74,112.92 L908.00,112.91 L908.27,113.53 L908.54,112.91 L908.80,113.29 L909.07,114.06 L909.33,113.85" fill="none" stroke="#0a0a0a" stroke-width="1.4" stroke-linejoin="round"/>
<rect x="70.0" y="392.1" width="1.1" height="0.9" fill="#808080" opacity="0.65"/><rect x="72.6" y="392.1" width="1.1" height="0.9" fill="#808080" opacity="0.65"/><rect x="80.4" y="392.1" width="1.1" height="0.9" fill="#808080" opacity="0.65"/><rect x="85.6" y="392.1" width="1.1" height="0.9" fill="#808080" opacity="0.65"/><rect x="98.6" y="392.1" width="1.1" height="0.9" fill="#808080" opacity="0.65"/><rect x="106.4" y="392.1" width="1.1" height="0.9" fill="#808080" opacity="0.65"/><rect x="111.6" y="392.1" width="1.1" height="0.9" fill="#808080" opacity="0.65"/><rect x="114.2" y="392.1" width="1.1" height="0.9" fill="#808080" opacity="0.65"/><rect x="116.8" y="392.1" width="1.1" height="0.9" fill="#808080" opacity="0.65"/><rect x="119.4" y="392.1" width="1.1" height="0.9" fill="#808080" opacity="0.65"/><rect x="127.2" y="392.1" width="1.1" height="0.9" fill="#808080" opacity="0.65"/><rect x="129.8" y="392.1" width="1.1" height="0.9" fill="#808080" opacity="0.65"/><rect x="132.4" y="392.1" width="1.1" height="0.9" fill="#808080" opacity="0.65"/><rect x="135.0" y="392.1" width="1.1" height="0.9" fill="#808080" opacity="0.65"/><rect x="142.8" y="392.1" width="1.1" height="0.9" fill="#808080" opacity="0.65"/><rect x="148.0" y="392.1" width="1.1" height="0.9" fill="#808080" opacity="0.65"/><rect x="166.2" y="392.1" width="1.1" height="0.9" fill="#808080" opacity="0.65"/><rect x="168.8" y="392.1" width="1.1" height="0.9" fill="#808080" opacity="0.65"/><rect x="174.0" y="392.1" width="1.1" height="0.9" fill="#808080" opacity="0.65"/><rect x="176.6" y="392.1" width="1.1" height="0.9" fill="#808080" opacity="0.65"/><rect x="179.2" y="392.1" width="1.1" height="0.9" fill="#808080" opacity="0.65"/><rect x="181.8" y="392.1" width="1.1" height="0.9" fill="#808080" opacity="0.65"/><rect x="184.4" y="392.1" width="1.1" height="0.9" fill="#808080" opacity="0.65"/><rect x="187.0" y="392.1" width="1.1" height="0.9" fill="#808080" opacity="0.65"/><rect x="202.6" y="392.1" width="1.1" height="0.9" fill="#808080" opacity="0.65"/><rect x="205.2" y="392.1" width="1.1" height="0.9" fill="#808080" opacity="0.65"/><rect x="207.8" y="392.1" width="1.1" height="0.9" fill="#808080" opacity="0.65"/><rect x="213.0" y="392.1" width="1.1" height="0.9" fill="#808080" opacity="0.65"/><rect x="215.6" y="392.1" width="1.1" height="0.9" fill="#808080" opacity="0.65"/><rect x="220.8" y="392.1" width="1.1" height="0.9" fill="#808080" opacity="0.65"/><rect x="231.2" y="392.1" width="1.1" height="0.9" fill="#808080" opacity="0.65"/><rect x="233.8" y="392.1" width="1.1" height="0.9" fill="#808080" opacity="0.65"/><rect x="252.0" y="392.1" width="1.1" height="0.9" fill="#808080" opacity="0.65"/><rect x="259.8" y="392.1" width="1.1" height="0.9" fill="#808080" opacity="0.65"/><rect x="265.0" y="392.1" width="1.1" height="0.9" fill="#808080" opacity="0.65"/><rect x="270.2" y="392.1" width="1.1" height="0.9" fill="#808080" opacity="0.65"/><rect x="272.8" y="392.1" width="1.1" height="0.9" fill="#808080" opacity="0.65"/><rect x="285.8" y="392.1" width="1.1" height="0.9" fill="#808080" opacity="0.65"/><rect x="288.4" y="392.1" width="1.1" height="0.9" fill="#808080" opacity="0.65"/><rect x="291.0" y="392.1" width="1.1" height="0.9" fill="#808080" opacity="0.65"/><rect x="309.2" y="392.1" width="1.1" height="0.9" fill="#808080" opacity="0.65"/><rect x="314.4" y="392.1" width="1.1" height="0.9" fill="#808080" opacity="0.65"/><rect x="317.0" y="392.1" width="1.1" height="0.9" fill="#808080" opacity="0.65"/><rect x="319.6" y="392.1" width="1.1" height="0.9" fill="#808080" opacity="0.65"/><rect x="330.0" y="392.1" width="1.1" height="0.9" fill="#808080" opacity="0.65"/><rect x="332.6" y="392.1" width="1.1" height="0.9" fill="#808080" opacity="0.65"/><rect x="337.8" y="392.1" width="1.1" height="0.9" fill="#808080" opacity="0.65"/><rect x="340.4" y="392.1" width="1.1" height="0.9" fill="#808080" opacity="0.65"/><rect x="343.0" y="392.1" width="1.1" height="0.9" fill="#808080" opacity="0.65"/><rect x="345.6" y="392.1" width="1.1" height="0.9" fill="#808080" opacity="0.65"/><rect x="348.2" y="392.1" width="1.1" height="0.9" fill="#808080" opacity="0.65"/><rect x="350.8" y="392.1" width="1.1" height="0.9" fill="#808080" opacity="0.65"/><rect x="361.2" y="392.1" width="1.1" height="0.9" fill="#808080" opacity="0.65"/><rect x="376.8" y="392.1" width="1.1" height="0.9" fill="#808080" opacity="0.65"/><rect x="379.4" y="392.1" width="1.1" height="0.9" fill="#808080" opacity="0.65"/><rect x="397.6" y="392.1" width="1.1" height="0.9" fill="#808080" opacity="0.65"/><rect x="410.6" y="392.1" width="1.1" height="0.9" fill="#808080" opacity="0.65"/><rect x="415.8" y="392.1" width="1.1" height="0.9" fill="#808080" opacity="0.65"/><rect x="421.0" y="392.1" width="1.1" height="0.9" fill="#808080" opacity="0.65"/><rect x="426.2" y="392.1" width="1.1" height="0.9" fill="#808080" opacity="0.65"/><rect x="428.8" y="392.1" width="1.1" height="0.9" fill="#808080" opacity="0.65"/><rect x="441.8" y="392.1" width="1.1" height="0.9" fill="#808080" opacity="0.65"/><rect x="452.2" y="392.1" width="1.1" height="0.9" fill="#808080" opacity="0.65"/><rect x="454.8" y="392.1" width="1.1" height="0.9" fill="#808080" opacity="0.65"/><rect x="465.2" y="392.1" width="1.1" height="0.9" fill="#808080" opacity="0.65"/><rect x="467.8" y="392.1" width="1.1" height="0.9" fill="#808080" opacity="0.65"/><rect x="478.2" y="392.1" width="1.1" height="0.9" fill="#808080" opacity="0.65"/><rect x="480.8" y="392.1" width="1.1" height="0.9" fill="#808080" opacity="0.65"/><rect x="486.0" y="392.1" width="1.1" height="0.9" fill="#808080" opacity="0.65"/><rect x="493.8" y="392.1" width="1.1" height="0.9" fill="#808080" opacity="0.65"/><rect x="496.4" y="392.1" width="1.1" height="0.9" fill="#808080" opacity="0.65"/><rect x="512.0" y="392.1" width="1.1" height="0.9" fill="#808080" opacity="0.65"/><rect x="514.6" y="392.1" width="1.1" height="0.9" fill="#808080" opacity="0.65"/><rect x="519.8" y="392.1" width="1.1" height="0.9" fill="#808080" opacity="0.65"/><rect x="527.6" y="392.1" width="1.1" height="0.9" fill="#808080" opacity="0.65"/><rect x="530.2" y="392.1" width="1.1" height="0.9" fill="#808080" opacity="0.65"/><rect x="532.8" y="392.1" width="1.1" height="0.9" fill="#808080" opacity="0.65"/><rect x="538.0" y="392.1" width="1.1" height="0.9" fill="#808080" opacity="0.65"/><rect x="551.0" y="392.1" width="1.1" height="0.9" fill="#808080" opacity="0.65"/><rect x="553.6" y="392.1" width="1.1" height="0.9" fill="#808080" opacity="0.65"/><rect x="558.8" y="392.1" width="1.1" height="0.9" fill="#808080" opacity="0.65"/><rect x="564.0" y="392.1" width="1.1" height="0.9" fill="#808080" opacity="0.65"/><rect x="566.6" y="392.1" width="1.1" height="0.9" fill="#808080" opacity="0.65"/><rect x="571.8" y="392.1" width="1.1" height="0.9" fill="#808080" opacity="0.65"/><rect x="579.6" y="392.1" width="1.1" height="0.9" fill="#808080" opacity="0.65"/><rect x="582.2" y="392.1" width="1.1" height="0.9" fill="#808080" opacity="0.65"/><rect x="584.8" y="392.1" width="1.1" height="0.9" fill="#808080" opacity="0.65"/><rect x="587.4" y="392.1" width="1.1" height="0.9" fill="#808080" opacity="0.65"/><rect x="590.0" y="392.1" width="1.1" height="0.9" fill="#808080" opacity="0.65"/><rect x="613.4" y="392.1" width="1.1" height="0.9" fill="#808080" opacity="0.65"/><rect x="616.0" y="392.1" width="1.1" height="0.9" fill="#808080" opacity="0.65"/><rect x="618.6" y="392.1" width="1.1" height="0.9" fill="#808080" opacity="0.65"/><rect x="623.8" y="392.1" width="1.1" height="0.9" fill="#808080" opacity="0.65"/><rect x="634.2" y="392.1" width="1.1" height="0.9" fill="#808080" opacity="0.65"/><rect x="639.4" y="392.1" width="1.1" height="0.9" fill="#808080" opacity="0.65"/><rect x="644.6" y="392.1" width="1.1" height="0.9" fill="#808080" opacity="0.65"/><rect x="647.2" y="392.1" width="1.1" height="0.9" fill="#808080" opacity="0.65"/><rect x="655.0" y="392.1" width="1.1" height="0.9" fill="#808080" opacity="0.65"/><rect x="657.6" y="392.1" width="1.1" height="0.9" fill="#808080" opacity="0.65"/><rect x="665.4" y="392.1" width="1.1" height="0.9" fill="#808080" opacity="0.65"/><rect x="668.0" y="392.1" width="1.1" height="0.9" fill="#808080" opacity="0.65"/><rect x="670.6" y="392.1" width="1.1" height="0.9" fill="#808080" opacity="0.65"/><rect x="673.2" y="392.1" width="1.1" height="0.9" fill="#808080" opacity="0.65"/><rect x="675.8" y="392.1" width="1.1" height="0.9" fill="#808080" opacity="0.65"/><rect x="678.4" y="392.1" width="1.1" height="0.9" fill="#808080" opacity="0.65"/><rect x="691.4" y="392.1" width="1.1" height="0.9" fill="#808080" opacity="0.65"/><rect x="696.6" y="392.1" width="1.1" height="0.9" fill="#808080" opacity="0.65"/><rect x="704.4" y="392.1" width="1.1" height="0.9" fill="#808080" opacity="0.65"/><rect x="707.0" y="392.1" width="1.1" height="0.9" fill="#808080" opacity="0.65"/><rect x="709.6" y="392.1" width="1.1" height="0.9" fill="#808080" opacity="0.65"/><rect x="714.8" y="392.1" width="1.1" height="0.9" fill="#808080" opacity="0.65"/><rect x="717.4" y="392.1" width="1.1" height="0.9" fill="#808080" opacity="0.65"/><rect x="720.0" y="392.1" width="1.1" height="0.9" fill="#808080" opacity="0.65"/><rect x="722.6" y="392.1" width="1.1" height="0.9" fill="#808080" opacity="0.65"/><rect x="730.4" y="392.1" width="1.1" height="0.9" fill="#808080" opacity="0.65"/><rect x="743.4" y="392.1" width="1.1" height="0.9" fill="#808080" opacity="0.65"/><rect x="748.6" y="392.1" width="1.1" height="0.9" fill="#808080" opacity="0.65"/><rect x="751.2" y="392.1" width="1.1" height="0.9" fill="#808080" opacity="0.65"/><rect x="759.0" y="392.1" width="1.1" height="0.9" fill="#808080" opacity="0.65"/><rect x="761.6" y="392.1" width="1.1" height="0.9" fill="#808080" opacity="0.65"/><rect x="769.4" y="392.1" width="1.1" height="0.9" fill="#808080" opacity="0.65"/><rect x="779.8" y="392.1" width="1.1" height="0.9" fill="#808080" opacity="0.65"/><rect x="782.4" y="392.1" width="1.1" height="0.9" fill="#808080" opacity="0.65"/><rect x="790.2" y="392.1" width="1.1" height="0.9" fill="#808080" opacity="0.65"/><rect x="792.8" y="392.1" width="1.1" height="0.9" fill="#808080" opacity="0.65"/><rect x="803.2" y="392.1" width="1.1" height="0.9" fill="#808080" opacity="0.65"/><rect x="805.8" y="392.1" width="1.1" height="0.9" fill="#808080" opacity="0.65"/><rect x="808.4" y="392.1" width="1.1" height="0.9" fill="#808080" opacity="0.65"/><rect x="811.0" y="392.1" width="1.1" height="0.9" fill="#808080" opacity="0.65"/><rect x="818.8" y="392.1" width="1.1" height="0.9" fill="#808080" opacity="0.65"/><rect x="821.4" y="392.1" width="1.1" height="0.9" fill="#808080" opacity="0.65"/><rect x="829.2" y="392.1" width="1.1" height="0.9" fill="#808080" opacity="0.65"/><rect x="831.8" y="392.1" width="1.1" height="0.9" fill="#808080" opacity="0.65"/><rect x="834.4" y="392.1" width="1.1" height="0.9" fill="#808080" opacity="0.65"/><rect x="839.6" y="392.1" width="1.1" height="0.9" fill="#808080" opacity="0.65"/><rect x="842.2" y="392.1" width="1.1" height="0.9" fill="#808080" opacity="0.65"/><rect x="847.4" y="392.1" width="1.1" height="0.9" fill="#808080" opacity="0.65"/><rect x="852.6" y="392.1" width="1.1" height="0.9" fill="#808080" opacity="0.65"/><rect x="855.2" y="392.1" width="1.1" height="0.9" fill="#808080" opacity="0.65"/><rect x="865.6" y="392.1" width="1.1" height="0.9" fill="#808080" opacity="0.65"/><rect x="870.8" y="392.1" width="1.1" height="0.9" fill="#808080" opacity="0.65"/><rect x="873.4" y="392.1" width="1.1" height="0.9" fill="#808080" opacity="0.65"/><rect x="881.2" y="392.1" width="1.1" height="0.9" fill="#808080" opacity="0.65"/><rect x="883.8" y="392.1" width="1.1" height="0.9" fill="#808080" opacity="0.65"/><rect x="896.8" y="392.1" width="1.1" height="0.9" fill="#808080" opacity="0.65"/><rect x="904.6" y="392.1" width="1.1" height="0.9" fill="#808080" opacity="0.65"/><rect x="922.8" y="392.1" width="1.1" height="0.9" fill="#808080" opacity="0.65"/><rect x="925.4" y="392.1" width="1.1" height="0.9" fill="#808080" opacity="0.65"/>
<text x="61" y="390.4" font-size="12.3" font-weight="bold" text-anchor="end" fill="#111" textLength="14.5" lengthAdjust="spacingAndGlyphs" stroke="#111" stroke-width="0.35">10</text>
<text x="61" y="322.96" font-size="12.3" font-weight="bold" text-anchor="end" fill="#111" textLength="21.5" lengthAdjust="spacingAndGlyphs" stroke="#111" stroke-width="0.35">100</text>
<text x="61" y="255.52" font-size="12.3" font-weight="bold" text-anchor="end" fill="#111" textLength="28.5" lengthAdjust="spacingAndGlyphs" stroke="#111" stroke-width="0.35">1000</text>
<text x="61" y="188.08" font-size="12.3" font-weight="bold" text-anchor="end" fill="#111" textLength="22" lengthAdjust="spacingAndGlyphs" stroke="#111" stroke-width="0.35">10k</text>
<text x="61" y="120.64000000000001" font-size="12.3" font-weight="bold" text-anchor="end" fill="#111" textLength="29" lengthAdjust="spacingAndGlyphs" stroke="#111" stroke-width="0.35">100k</text>
<text x="61" y="369.19853709242113" font-size="10.2" font-weight="bold" text-anchor="end" fill="#111" textLength="5.9" lengthAdjust="spacingAndGlyphs" stroke="#111" stroke-width="0.35">2</text>
<text x="61" y="342.3614629075789" font-size="10.2" font-weight="bold" text-anchor="end" fill="#111" textLength="5.9" lengthAdjust="spacingAndGlyphs" stroke="#111" stroke-width="0.35">5</text>
<text x="61" y="301.7585370924211" font-size="10.2" font-weight="bold" text-anchor="end" fill="#111" textLength="5.9" lengthAdjust="spacingAndGlyphs" stroke="#111" stroke-width="0.35">2</text>
<text x="61" y="274.92146290757887" font-size="10.2" font-weight="bold" text-anchor="end" fill="#111" textLength="5.9" lengthAdjust="spacingAndGlyphs" stroke="#111" stroke-width="0.35">5</text>
<text x="61" y="234.3185370924211" font-size="10.2" font-weight="bold" text-anchor="end" fill="#111" textLength="5.9" lengthAdjust="spacingAndGlyphs" stroke="#111" stroke-width="0.35">2</text>
<text x="61" y="207.4814629075789" font-size="10.2" font-weight="bold" text-anchor="end" fill="#111" textLength="5.9" lengthAdjust="spacingAndGlyphs" stroke="#111" stroke-width="0.35">5</text>
<text x="61" y="166.8785370924211" font-size="10.2" font-weight="bold" text-anchor="end" fill="#111" textLength="5.9" lengthAdjust="spacingAndGlyphs" stroke="#111" stroke-width="0.35">2</text>
<text x="61" y="140.0414629075789" font-size="10.2" font-weight="bold" text-anchor="end" fill="#111" textLength="5.9" lengthAdjust="spacingAndGlyphs" stroke="#111" stroke-width="0.35">5</text>
<text x="61" y="99.43853709242109" font-size="10.2" font-weight="bold" text-anchor="end" fill="#111" textLength="5.9" lengthAdjust="spacingAndGlyphs" stroke="#111" stroke-width="0.35">2</text>
<text x="937" y="391.0" font-size="12" font-weight="bold" text-anchor="start" fill="#111" textLength="34" lengthAdjust="spacingAndGlyphs" stroke="#111" stroke-width="0.35">0 BTC</text>
<text x="937" y="333.0" font-size="12" font-weight="bold" text-anchor="start" fill="#111" textLength="48.5" lengthAdjust="spacingAndGlyphs" stroke="#111" stroke-width="0.35">20k BTC</text>
<text x="937" y="275.0" font-size="12" font-weight="bold" text-anchor="start" fill="#111" textLength="48.5" lengthAdjust="spacingAndGlyphs" stroke="#111" stroke-width="0.35">40k BTC</text>
<text x="937" y="217.0" font-size="12" font-weight="bold" text-anchor="start" fill="#111" textLength="48.5" lengthAdjust="spacingAndGlyphs" stroke="#111" stroke-width="0.35">60k BTC</text>
<text x="937" y="159.0" font-size="12" font-weight="bold" text-anchor="start" fill="#111" textLength="48.5" lengthAdjust="spacingAndGlyphs" stroke="#111" stroke-width="0.35">80k BTC</text>
<text x="937" y="101.0" font-size="12" font-weight="bold" text-anchor="start" fill="#111" textLength="55" lengthAdjust="spacingAndGlyphs" stroke="#111" stroke-width="0.35">100k BTC</text>
<text x="67.5" y="405.3" font-size="12" font-weight="bold" text-anchor="middle" fill="#151515" textLength="58.5" lengthAdjust="spacingAndGlyphs" stroke="#111" stroke-width="0.35">01-Jan-17</text>
<text x="164.7" y="405.3" font-size="12" font-weight="bold" text-anchor="middle" fill="#151515" textLength="58.5" lengthAdjust="spacingAndGlyphs" stroke="#111" stroke-width="0.35">01-Jan-18</text>
<text x="261.8" y="405.3" font-size="12" font-weight="bold" text-anchor="middle" fill="#151515" textLength="58.5" lengthAdjust="spacingAndGlyphs" stroke="#111" stroke-width="0.35">01-Jan-19</text>
<text x="359.0" y="405.3" font-size="12" font-weight="bold" text-anchor="middle" fill="#151515" textLength="58.5" lengthAdjust="spacingAndGlyphs" stroke="#111" stroke-width="0.35">01-Jan-20</text>
<text x="456.1" y="405.3" font-size="12" font-weight="bold" text-anchor="middle" fill="#151515" textLength="58.5" lengthAdjust="spacingAndGlyphs" stroke="#111" stroke-width="0.35">01-Jan-21</text>
<text x="553.2" y="405.3" font-size="12" font-weight="bold" text-anchor="middle" fill="#151515" textLength="58.5" lengthAdjust="spacingAndGlyphs" stroke="#111" stroke-width="0.35">01-Jan-22</text>
<text x="650.4" y="405.3" font-size="12" font-weight="bold" text-anchor="middle" fill="#151515" textLength="58.5" lengthAdjust="spacingAndGlyphs" stroke="#111" stroke-width="0.35">01-Jan-23</text>
<text x="747.6" y="405.3" font-size="12" font-weight="bold" text-anchor="middle" fill="#151515" textLength="58.5" lengthAdjust="spacingAndGlyphs" stroke="#111" stroke-width="0.35">01-Jan-24</text>
<text x="844.7" y="405.3" font-size="12" font-weight="bold" text-anchor="middle" fill="#151515" textLength="58.5" lengthAdjust="spacingAndGlyphs" stroke="#111" stroke-width="0.35">01-Jan-25</text>
<text x="0" y="0" font-size="14.3" font-weight="bold" text-anchor="start" fill="#111" textLength="33.9" lengthAdjust="spacingAndGlyphs" stroke="#111" stroke-width="0.5" transform="translate(21.3,282.9) rotate(-90)">Price</text>
<text x="0" y="0" font-size="14.3" font-weight="bold" text-anchor="start" fill="#111" textLength="42.8" lengthAdjust="spacingAndGlyphs" stroke="#111" stroke-width="0.5" transform="translate(21.3,242.3) rotate(-90)">[USD]</text>
<text x="0" y="0" font-size="14.3" font-weight="bold" text-anchor="start" fill="#111" textLength="60.1" lengthAdjust="spacingAndGlyphs" stroke="#111" stroke-width="0.5" transform="translate(1014.1,316.4) rotate(-90)">Realised</text>
<text x="0" y="0" font-size="14.3" font-weight="bold" text-anchor="start" fill="#111" textLength="38.5" lengthAdjust="spacingAndGlyphs" stroke="#111" stroke-width="0.5" transform="translate(1014.1,250.9) rotate(-90)">Value</text>
<text x="0" y="0" font-size="14.3" font-weight="bold" text-anchor="start" fill="#111" textLength="40.6" lengthAdjust="spacingAndGlyphs" stroke="#111" stroke-width="0.5" transform="translate(1014.1,206.9) rotate(-90)">[BTC]</text>
<text x="283.90" y="48.0" font-size="27" font-weight="bold" text-anchor="start" fill="#2b2b2b" textLength="121.30" lengthAdjust="spacingAndGlyphs" stroke="#2b2b2b" stroke-width="1.5" stroke-linejoin="round">Realised</text>
<text x="414.60" y="48.0" font-size="27" font-weight="bold" text-anchor="start" fill="#2b2b2b" textLength="63.60" lengthAdjust="spacingAndGlyphs" stroke="#2b2b2b" stroke-width="1.5" stroke-linejoin="round">Loss</text>
<text x="487.40" y="48.0" font-size="27" font-weight="bold" text-anchor="start" fill="#2b2b2b" textLength="31.40" lengthAdjust="spacingAndGlyphs" stroke="#2b2b2b" stroke-width="1.5" stroke-linejoin="round">by</text>
<text x="529.80" y="48.0" font-size="27" font-weight="bold" text-anchor="start" fill="#2b2b2b" textLength="96.60" lengthAdjust="spacingAndGlyphs" stroke="#2b2b2b" stroke-width="1.5" stroke-linejoin="round">Cohort</text>
<text x="637.00" y="48.0" font-size="27" font-weight="bold" text-anchor="start" fill="#2b2b2b" textLength="80.40" lengthAdjust="spacingAndGlyphs" stroke="#2b2b2b" stroke-width="1.5" stroke-linejoin="round">[BTC]</text>
<rect x="256" y="94.3" width="24.5" height="1.4" fill="#f3a29d"/>
<text x="285" y="99.8" font-size="13" font-weight="normal" text-anchor="start" fill="#4c4c4c" textLength="86" lengthAdjust="spacingAndGlyphs" stroke="#4c4c4c" stroke-width="0.15">Realised Loss</text>
<rect x="379.5" y="92.2" width="24.5" height="5.8" fill="#4792f8"/>
<text x="408" y="99.8" font-size="13" font-weight="normal" text-anchor="start" fill="#1a1a1a" textLength="114" lengthAdjust="spacingAndGlyphs" stroke="#1a1a1a" stroke-width="0.5">Realised Loss LTH</text>
<rect x="531.4" y="92.5" width="24" height="5.2" fill="#f7628a" stroke="#9a4a6a" stroke-width="0.8"/>
<text x="559.8" y="99.8" font-size="13" font-weight="normal" text-anchor="start" fill="#1a1a1a" textLength="116.5" lengthAdjust="spacingAndGlyphs" stroke="#1a1a1a" stroke-width="0.5">Realised Loss STH</text>
<rect x="684.7" y="94.1" width="24" height="1.8" fill="#111"/>
<text x="713.5" y="99.8" font-size="13" font-weight="normal" text-anchor="start" fill="#1a1a1a" textLength="30.5" lengthAdjust="spacingAndGlyphs" stroke="#1a1a1a" stroke-width="0.5">Price</text>
<rect x="81.3" y="76.2" width="71.00000000000001" height="26.0" rx="1.5" fill="#ffffff"/>
<rect x="81.8" y="76.0" width="70.00000000000001" height="0.7" fill="#9a9a9a" opacity="0.55"/>
<rect x="81.05" y="76.8" width="0.8" height="12.8" fill="#222" opacity="0.85"/>
<rect x="81.0" y="75.60000000000001" width="1" height="0.9" fill="#333" opacity="0.8"/>
<rect x="151.4" y="75.9" width="1" height="0.9" fill="#333" opacity="0.8"/>
<rect x="81.1" y="101.3" width="0.9" height="0.8" fill="#333" opacity="0.8"/><rect x="82.89999999999999" y="102.10000000000001" width="0.9" height="0.8" fill="#333" opacity="0.7"/>
<path d="M152.3,90 L152.3,100.4 Q152.3,101.60000000000001 150.5,102.60000000000001" fill="none" stroke="#222" stroke-width="0.7" opacity="0.9"/>
<text x="91.1" y="91.2" font-size="10.3" font-weight="normal" text-anchor="start" fill="#5a5a5a" textLength="35.7" lengthAdjust="spacingAndGlyphs" stroke="#5a5a5a" stroke-width="0.25">Info On</text>
<path d="M139.8,84.3 L146.7,84.3 L143.25,90.4 Z" fill="#2e2e2e"/>
<rect x="869.3" y="76.2" width="103.10000000000002" height="25.599999999999994" rx="1.5" fill="#ffffff"/>
<rect x="869.8" y="76.0" width="102.10000000000002" height="0.7" fill="#9a9a9a" opacity="0.55"/>
<rect x="869.05" y="76.8" width="0.8" height="12.8" fill="#222" opacity="0.85"/>
<rect x="869.0" y="75.60000000000001" width="1" height="0.9" fill="#333" opacity="0.8"/>
<rect x="971.5" y="75.9" width="1" height="0.9" fill="#333" opacity="0.8"/>
<rect x="869.0999999999999" y="100.89999999999999" width="0.9" height="0.8" fill="#333" opacity="0.8"/><rect x="870.9" y="101.7" width="0.9" height="0.8" fill="#333" opacity="0.7"/>
<text x="879.3" y="91.2" font-size="10.3" font-weight="normal" text-anchor="start" fill="#5a5a5a" textLength="63.8" lengthAdjust="spacingAndGlyphs" stroke="#5a5a5a" stroke-width="0.25">Default Zoom</text>
<path d="M961,84.3 L967.6,84.3 L964.3,90 Z" fill="#2e2e2e"/>
</svg>
</body></html>
